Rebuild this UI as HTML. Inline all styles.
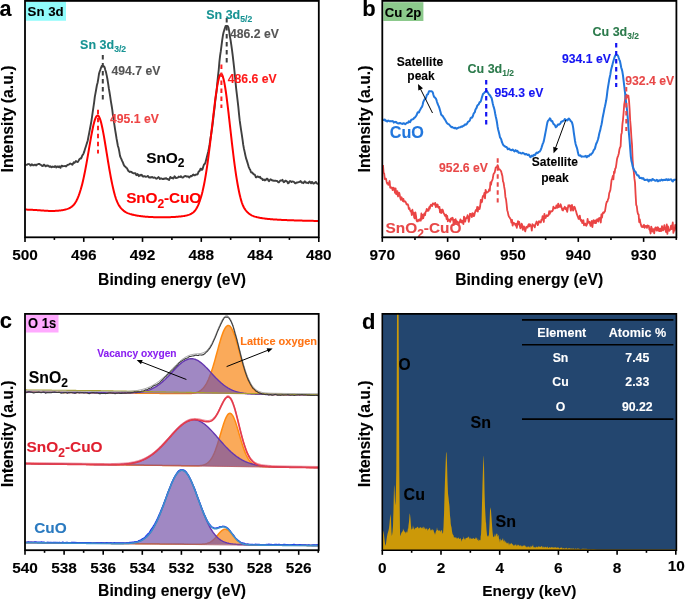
<!DOCTYPE html>
<html><head><meta charset="utf-8"><style>
html,body{margin:0;padding:0;background:#fff;overflow:hidden;}
svg{display:block;font-family:"Liberation Sans", sans-serif;will-change:transform;}
</style></head><body>
<svg width="685" height="600" viewBox="0 0 685 600">
<rect width="685" height="600" fill="#fff"/>
<text x="-0.6" y="15.9" font-size="22.8" font-weight="bold" textLength="12" lengthAdjust="spacingAndGlyphs" stroke="#000" stroke-width="0.1">a</text>
<path d="M25.5,164.71 L26.2,164.87 L26.9,164.74 L27.6,164.17 L28.3,164.09 L29,164.06 L29.7,164.34 L30.4,165.51 L31.1,165.27 L31.8,164.33 L32.5,164.84 L33.2,165.37 L33.9,165.22 L34.6,164.63 L35.3,164.61 L36,165.47 L36.7,164.88 L37.4,164.38 L38.1,164.17 L38.8,163.83 L39.5,163.94 L40.2,164.55 L40.9,164.92 L41.6,165.26 L42.3,166.05 L43,165.92 L43.7,164.69 L44.4,164.6 L45.1,165.92 L45.8,166.33 L46.5,165.68 L47.2,165.47 L47.9,165.82 L48.6,165.72 L49.3,166.8 L50,166.85 L50.7,166.36 L51.4,167.24 L52.1,166.99 L52.8,166.52 L53.5,166.87 L54.2,166.96 L54.9,166.29 L55.6,166.27 L56.3,167.52 L57,166.68 L57.7,166.38 L58.4,167.14 L59.1,166.33 L59.8,167.18 L60.5,167.78 L61.2,166.1 L61.9,165.65 L62.6,166.42 L63.3,166.17 L64,166.09 L64.7,166.02 L65.4,165.87 L66.1,166.47 L66.8,165.65 L67.5,164.88 L68.2,164.82 L68.9,164.61 L69.6,164.07 L70.3,163.54 L71,163.83 L71.7,164.35 L72.4,164.79 L73.1,163.45 L73.8,162.23 L74.5,162.91 L75.2,162 L75.9,161.09 L76.6,161.61 L77.3,161.99 L78,161.84 L78.7,160.44 L79.4,159.25 L80.1,158.56 L80.8,158.65 L81.5,157.6 L82.2,155.59 L82.9,154.71 L83.6,153.35 L84.3,151.43 L85,149.07 L85.7,146.93 L86.4,144.79 L87.1,142.66 L87.8,140.25 L88.5,136.45 L89.2,133.02 L89.9,129.19 L90.6,125.49 L91.3,121.56 L92,117.07 L92.7,112.04 L93.4,107.42 L94.1,102.67 L94.8,96.93 L95.5,93.1 L96.2,89.25 L96.9,85.24 L97.6,82.78 L98.3,78.59 L99,73.84 L99.7,71.47 L100.4,69.64 L101.1,67.52 L101.8,65.86 L102.5,65.69 L103.2,66.14 L103.9,66.11 L104.6,67.34 L105.3,69.98 L106,72.1 L106.7,75.34 L107.4,79.02 L108.1,83.35 L108.8,88.16 L109.5,92.26 L110.2,96.59 L110.9,101.33 L111.6,105.52 L112.3,109.9 L113,115.9 L113.7,120.14 L114.4,124.98 L115.1,129.59 L115.8,133.76 L116.5,138.21 L117.2,141.98 L117.9,145.97 L118.6,148.07 L119.3,151.62 L120,155.84 L120.7,157.68 L121.4,159.09 L122.1,160.91 L122.8,162.18 L123.5,164.23 L124.2,165.71 L124.9,166.24 L125.6,167.08 L126.3,167.65 L127,168.15 L127.7,169.76 L128.4,170.98 L129.1,171.42 L129.8,172.03 L130.5,171.67 L131.2,171.91 L131.9,172.36 L132.6,172.86 L133.3,173.27 L134,173.4 L134.7,173.18 L135.4,173.18 L136.1,174.92 L136.8,175.21 L137.5,174.08 L138.2,174.78 L138.9,176.19 L139.6,175.49 L140.3,174.86 L141,175.44 L141.7,174.82 L142.4,175.65 L143.1,176.65 L143.8,176.46 L144.5,176.22 L145.2,176.53 L145.9,176.74 L146.6,176.55 L147.3,176.36 L148,175.92 L148.7,177.22 L149.4,177.65 L150.1,177.21 L150.8,177.51 L151.5,177.22 L152.2,177.04 L152.9,177.64 L153.6,177.79 L154.3,177.46 L155,177.68 L155.7,178.38 L156.4,178.76 L157.1,178.41 L157.8,177.84 L158.5,177.01 L159.2,177.81 L159.9,179.01 L160.6,178.51 L161.3,178.33 L162,178.82 L162.7,179 L163.4,179.1 L164.1,178.48 L164.8,178.8 L165.5,178.43 L166.2,178.12 L166.9,178.99 L167.6,179 L168.3,179.69 L169,179.98 L169.7,178.48 L170.4,176.89 L171.1,177.85 L171.8,178.16 L172.5,177.72 L173.2,178.6 L173.9,177.75 L174.6,176.25 L175.3,177.14 L176,178.15 L176.7,177.85 L177.4,177.78 L178.1,177.41 L178.8,176.58 L179.5,176.85 L180.2,177.04 L180.9,176.24 L181.6,176.89 L182.3,177.59 L183,177.46 L183.7,176.91 L184.4,176.29 L185.1,176.2 L185.8,175.99 L186.5,176.48 L187.2,176.43 L187.9,176.41 L188.6,176.85 L189.3,177.56 L190,176.58 L190.7,175.88 L191.4,176.39 L192.1,175.78 L192.8,174.94 L193.5,174.53 L194.2,175.4 L194.9,175.35 L195.6,174.76 L196.3,174.34 L197,174.52 L197.7,174.24 L198.4,172.1 L199.1,171.21 L199.8,170.68 L200.5,168.7 L201.2,168.58 L201.9,169.9 L202.6,169.07 L203.3,166.55 L204,164.6 L204.7,164.05 L205.4,162.68 L206.1,159.89 L206.8,157.27 L207.5,154.44 L208.2,151.74 L208.9,148.54 L209.6,144.47 L210.3,139.55 L211,135.23 L211.7,130.6 L212.4,125.75 L213.1,120.01 L213.8,113.66 L214.5,108.28 L215.2,101.47 L215.9,95.92 L216.6,90.76 L217.3,83.08 L218,76.13 L218.7,70.01 L219.4,61.95 L220.1,55.72 L220.8,51.13 L221.5,45.59 L222.2,40.12 L222.9,35.54 L223.6,32.23 L224.3,29.92 L225,27.93 L225.7,25.93 L226.4,25.96 L227.1,25.98 L227.8,26.2 L228.5,27.6 L229.2,31.39 L229.9,36.33 L230.6,40.25 L231.3,44.95 L232,49.91 L232.7,55.48 L233.4,61.43 L234.1,67.61 L234.8,74.33 L235.5,81.84 L236.2,88.78 L236.9,94.64 L237.6,100.61 L238.3,106.7 L239,113.94 L239.7,120.41 L240.4,125.28 L241.1,130.18 L241.8,134.6 L242.5,139.4 L243.2,144.7 L243.9,148.51 L244.6,151.6 L245.3,154.99 L246,158.14 L246.7,160.15 L247.4,162.38 L248.1,164.82 L248.8,167.1 L249.5,168.65 L250.2,169.81 L250.9,172.09 L251.6,172.64 L252.3,172.45 L253,173.45 L253.7,174.42 L254.4,174.47 L255.1,175.25 L255.8,177.22 L256.5,177.29 L257.2,176.57 L257.9,176.51 L258.6,177.07 L259.3,177.23 L260,176.77 L260.7,178.24 L261.4,178.55 L262.1,178.64 L262.8,180.02 L263.5,179.78 L264.2,179.45 L264.9,180.44 L265.6,180.21 L266.3,179.08 L267,178.63 L267.7,179.07 L268.4,180.59 L269.1,181.15 L269.8,180.06 L270.5,179.26 L271.2,179.58 L271.9,180.24 L272.6,180.48 L273.3,180.53 L274,180.86 L274.7,180.69 L275.4,180.6 L276.1,180.92 L276.8,180.97 L277.5,181.19 L278.2,182.23 L278.9,182.34 L279.6,181.5 L280.3,180.44 L281,180.66 L281.7,180.59 L282.4,179.76 L283.1,181.2 L283.8,182.3 L284.5,181.86 L285.2,180.71 L285.9,180.65 L286.6,181.21 L287.3,181.76 L288,183.26 L288.7,183.09 L289.4,181.64 L290.1,180.99 L290.8,181.39 L291.5,181.92 L292.2,181.42 L292.9,181.6 L293.6,181.64 L294.3,182.17 L295,183.3 L295.7,183.32 L296.4,182.59 L297.1,182.34 L297.8,182.53 L298.5,182.11 L299.2,182.04 L299.9,181.61 L300.6,181.09 L301.3,182.14 L302,182.78 L302.7,182.52 L303.4,183.12 L304.1,182.17 L304.8,181.3 L305.5,182.26 L306.2,182.85 L306.9,182.58 L307.6,182.9 L308.3,183.2 L309,182.09 L309.7,181.53 L310.4,182.53 L311.1,183.23 L311.8,181.89 L312.5,182.33 L313.2,183.57 L313.9,183.56 L314.6,183.08 L315.3,182.27 L316,181.91 L316.7,183.31 L317.4,183.78 L318.1,183.32" fill="none" stroke="#3f3f3f" stroke-width="1.9" stroke-linejoin="round"/>
<path d="M25.5,209.6 L26.2,209.61 L26.9,209.62 L27.6,209.64 L28.3,209.66 L29,209.69 L29.7,209.71 L30.4,209.74 L31.1,209.78 L31.8,209.81 L32.5,209.85 L33.2,209.89 L33.9,209.93 L34.6,209.97 L35.3,210.02 L36,210.06 L36.7,210.11 L37.4,210.16 L38.1,210.21 L38.8,210.26 L39.5,210.31 L40.2,210.37 L40.9,210.42 L41.6,210.47 L42.3,210.52 L43,210.57 L43.7,210.62 L44.4,210.67 L45.1,210.71 L45.8,210.76 L46.5,210.79 L47.2,210.83 L47.9,210.86 L48.6,210.89 L49.3,210.91 L50,210.93 L50.7,210.94 L51.4,210.95 L52.1,210.95 L52.8,210.95 L53.5,210.94 L54.2,210.92 L54.9,210.9 L55.6,210.87 L56.3,210.83 L57,210.79 L57.7,210.73 L58.4,210.68 L59.1,210.61 L59.8,210.53 L60.5,210.45 L61.2,210.36 L61.9,210.25 L62.6,210.14 L63.3,210.01 L64,209.88 L64.7,209.72 L65.4,209.55 L66.1,209.37 L66.8,209.16 L67.5,208.92 L68.2,208.66 L68.9,208.36 L69.6,208.02 L70.3,207.64 L71,207.2 L71.7,206.7 L72.4,206.13 L73.1,205.49 L73.8,204.72 L74.5,203.82 L75.2,202.81 L75.9,201.68 L76.6,200.4 L77.3,198.98 L78,197.39 L78.7,195.62 L79.4,193.67 L80.1,191.56 L80.8,189.29 L81.5,186.81 L82.2,184.13 L82.9,181.23 L83.6,178.12 L84.3,174.82 L85,171.33 L85.7,167.67 L86.4,163.86 L87.1,159.92 L87.8,155.89 L88.5,151.8 L89.2,147.68 L89.9,143.6 L90.6,139.58 L91.3,135.69 L92,131.97 L92.7,128.5 L93.4,125.32 L94.1,122.5 L94.8,120.1 L95.5,118.16 L96.2,116.73 L96.9,115.81 L97.6,115.48 L98.3,115.73 L99,116.61 L99.7,118.09 L100.4,120.11 L101.1,122.56 L101.8,125.45 L102.5,128.73 L103.2,132.33 L103.9,136.19 L104.6,140.25 L105.3,144.47 L106,148.77 L106.7,153.11 L107.4,157.44 L108.1,161.73 L108.8,165.93 L109.5,170.01 L110.2,173.94 L110.9,177.71 L111.6,181.28 L112.3,184.65 L113,187.81 L113.7,190.75 L114.4,193.47 L115.1,195.97 L115.8,198.25 L116.5,200.21 L117.2,201.9 L117.9,203.39 L118.6,204.72 L119.3,205.89 L120,206.92 L120.7,207.82 L121.4,208.61 L122.1,209.31 L122.8,209.96 L123.5,210.59 L124.2,211.14 L124.9,211.63 L125.6,212.07 L126.3,212.45 L127,212.8 L127.7,213.11 L128.4,213.39 L129.1,213.64 L129.8,213.88 L130.5,214.09 L131.2,214.29 L131.9,214.48 L132.6,214.66 L133.3,214.82 L134,214.98 L134.7,215.13 L135.4,215.27 L136.1,215.4 L136.8,215.53 L137.5,215.65 L138.2,215.77 L138.9,215.88 L139.6,215.98 L140.3,216.08 L141,216.17 L141.7,216.26 L142.4,216.34 L143.1,216.42 L143.8,216.49 L144.5,216.56 L145.2,216.63 L145.9,216.69 L146.6,216.74 L147.3,216.8 L148,216.85 L148.7,216.89 L149.4,216.94 L150.1,216.98 L150.8,217.02 L151.5,217.05 L152.2,217.08 L152.9,217.11 L153.6,217.14 L154.3,217.17 L155,217.19 L155.7,217.21 L156.4,217.23 L157.1,217.25 L157.8,217.27 L158.5,217.28 L159.2,217.29 L159.9,217.3 L160.6,217.3 L161.3,217.31 L162,217.31 L162.7,217.31 L163.4,217.31 L164.1,217.3 L164.8,217.29 L165.5,217.28 L166.2,217.27 L166.9,217.26 L167.6,217.24 L168.3,217.22 L169,217.2 L169.7,217.18 L170.4,217.15 L171.1,217.12 L171.8,217.09 L172.5,217.06 L173.2,217.02 L173.9,216.98 L174.6,216.94 L175.3,216.89 L176,216.85 L176.7,216.8 L177.4,216.74 L178.1,216.68 L178.8,216.62 L179.5,216.55 L180.2,216.48 L180.9,216.41 L181.6,216.32 L182.3,216.23 L183,216.13 L183.7,216.03 L184.4,215.91 L185.1,215.78 L185.8,215.64 L186.5,215.48 L187.2,215.3 L187.9,215.1 L188.6,214.88 L189.3,214.63 L190,214.35 L190.7,214.02 L191.4,213.65 L192.1,213.23 L192.8,212.74 L193.5,212.18 L194.2,211.55 L194.9,210.76 L195.6,209.8 L196.3,208.72 L197,207.49 L197.7,206.11 L198.4,204.54 L199.1,202.78 L199.8,200.81 L200.5,198.63 L201.2,196.39 L201.9,193.9 L202.6,191.14 L203.3,188.09 L204,184.75 L204.7,181.1 L205.4,177.15 L206.1,172.9 L206.8,168.34 L207.5,163.49 L208.2,158.37 L208.9,152.99 L209.6,147.4 L210.3,141.61 L211,135.68 L211.7,129.65 L212.4,123.58 L213.1,117.53 L213.8,111.57 L214.5,105.77 L215.2,100.21 L215.9,94.97 L216.6,90.13 L217.3,85.79 L218,82.03 L218.7,78.91 L219.4,76.53 L220.1,74.97 L220.8,74.17 L221.5,74.16 L222.2,75 L222.9,76.71 L223.6,79.2 L224.3,82.41 L225,86.28 L225.7,90.73 L226.4,95.68 L227.1,101.05 L227.8,106.75 L228.5,112.7 L229.2,118.81 L229.9,125.02 L230.6,131.25 L231.3,137.44 L232,143.54 L232.7,149.49 L233.4,155.25 L234.1,160.78 L234.8,166.07 L235.5,171.07 L236.2,175.78 L236.9,180.18 L237.6,184.27 L238.3,188.05 L239,191.52 L239.7,194.69 L240.4,197.56 L241.1,200.16 L241.8,202.5 L242.5,204.44 L243.2,206.05 L243.9,207.45 L244.6,208.67 L245.3,209.74 L246,210.66 L246.7,211.46 L247.4,212.16 L248.1,212.77 L248.8,213.41 L249.5,213.97 L250.2,214.47 L250.9,214.9 L251.6,215.28 L252.3,215.62 L253,215.92 L253.7,216.19 L254.4,216.44 L255.1,216.66 L255.8,216.86 L256.5,217.05 L257.2,217.23 L257.9,217.39 L258.6,217.54 L259.3,217.68 L260,217.82 L260.7,217.94 L261.4,218.06 L262.1,218.18 L262.8,218.28 L263.5,218.38 L264.2,218.48 L264.9,218.57 L265.6,218.66 L266.3,218.74 L267,218.82 L267.7,218.89 L268.4,218.96 L269.1,219.03 L269.8,219.09 L270.5,219.16 L271.2,219.21 L271.9,219.27 L272.6,219.32 L273.3,219.38 L274,219.43 L274.7,219.47 L275.4,219.52 L276.1,219.57 L276.8,219.61 L277.5,219.65 L278.2,219.69 L278.9,219.73 L279.6,219.77 L280.3,219.81 L281,219.84 L281.7,219.88 L282.4,219.91 L283.1,219.95 L283.8,219.98 L284.5,220.01 L285.2,220.04 L285.9,220.07 L286.6,220.1 L287.3,220.13 L288,220.16 L288.7,220.19 L289.4,220.22 L290.1,220.24 L290.8,220.27 L291.5,220.29 L292.2,220.32 L292.9,220.34 L293.6,220.37 L294.3,220.39 L295,220.42 L295.7,220.44 L296.4,220.46 L297.1,220.48 L297.8,220.5 L298.5,220.53 L299.2,220.55 L299.9,220.57 L300.6,220.59 L301.3,220.61 L302,220.62 L302.7,220.64 L303.4,220.66 L304.1,220.68 L304.8,220.7 L305.5,220.71 L306.2,220.73 L306.9,220.75 L307.6,220.76 L308.3,220.78 L309,220.79 L309.7,220.81 L310.4,220.82 L311.1,220.83 L311.8,220.85 L312.5,220.86 L313.2,220.87 L313.9,220.88 L314.6,220.89 L315.3,220.9 L316,220.9 L316.7,220.91 L317.4,220.91 L318.1,220.92" fill="none" stroke="#ff0000" stroke-width="2" stroke-linejoin="round"/>
<line x1="102.8" y1="55" x2="102.8" y2="100.5" stroke="#3f3f3f" stroke-width="2" stroke-dasharray="4.5 3.5"/>
<line x1="226.7" y1="18" x2="226.7" y2="63.5" stroke="#3f3f3f" stroke-width="2" stroke-dasharray="4.5 3.5"/>
<line x1="98" y1="109.7" x2="98" y2="153.5" stroke="#ff2020" stroke-width="2" stroke-dasharray="4.5 3.5"/>
<line x1="221.4" y1="64.5" x2="221.4" y2="108" stroke="#ff2020" stroke-width="2" stroke-dasharray="4.5 3.5"/>
<text x="80.1" y="48.6" font-size="12.5" font-weight="bold" fill="#179393" stroke="#179393" stroke-width="0.1">Sn 3d<tspan font-size="8.6" dy="3.2">3/2</tspan></text>
<text x="206.2" y="18.5" font-size="12.5" font-weight="bold" fill="#179393" stroke="#179393" stroke-width="0.1">Sn 3d<tspan font-size="8.6" dy="3.2">5/2</tspan></text>
<text x="111.5" y="75.2" font-size="12.2" fill="#555555" text-anchor="start" font-weight="bold"  stroke="#555555" stroke-width="0.1">494.7 eV</text>
<text x="230" y="37.5" font-size="12.2" fill="#555555" text-anchor="start" font-weight="bold"  stroke="#555555" stroke-width="0.1">486.2 eV</text>
<text x="110" y="123.3" font-size="12.2" fill="#ee4444" text-anchor="start" font-weight="bold"  stroke="#ee4444" stroke-width="0.1">495.1 eV</text>
<text x="227.8" y="83.2" font-size="12.2" fill="#ff1a1a" text-anchor="start" font-weight="bold"  stroke="#ff1a1a" stroke-width="0.1">486.6 eV</text>
<text x="146.2" y="163.4" font-size="15.4" font-weight="bold" fill="#000" stroke="#000" stroke-width="0.1">SnO<tspan font-size="12" dy="4">2</tspan></text>
<text x="126.2" y="203.2" font-size="15.4" font-weight="bold" fill="#ff0000" textLength="75" stroke="#ff0000" stroke-width="0.1">SnO<tspan font-size="12" dy="4.5">2</tspan><tspan dy="-4.5">-CuO</tspan></text>
<rect x="25.7" y="1.75" width="40.3" height="19" fill="#90fbfb"/>
<text x="27.6" y="16.3" font-size="13.4" font-weight="bold" textLength="36" lengthAdjust="spacingAndGlyphs" stroke="#000" stroke-width="0.1">Sn 3d</text>
<rect x="25" y="0.9" width="293.8" height="236.4" fill="none" stroke="#000" stroke-width="1.8"/>
<line x1="25" y1="237.3" x2="25" y2="241.9" stroke="#000" stroke-width="1.6" />
<line x1="83.76" y1="237.3" x2="83.76" y2="241.9" stroke="#000" stroke-width="1.6" />
<line x1="142.52" y1="237.3" x2="142.52" y2="241.9" stroke="#000" stroke-width="1.6" />
<line x1="201.28" y1="237.3" x2="201.28" y2="241.9" stroke="#000" stroke-width="1.6" />
<line x1="260.04" y1="237.3" x2="260.04" y2="241.9" stroke="#000" stroke-width="1.6" />
<line x1="318.8" y1="237.3" x2="318.8" y2="241.9" stroke="#000" stroke-width="1.6" />
<line x1="54.38" y1="237.3" x2="54.38" y2="239.9" stroke="#000" stroke-width="1.6" />
<line x1="113.14" y1="237.3" x2="113.14" y2="239.9" stroke="#000" stroke-width="1.6" />
<line x1="171.9" y1="237.3" x2="171.9" y2="239.9" stroke="#000" stroke-width="1.6" />
<line x1="230.66" y1="237.3" x2="230.66" y2="239.9" stroke="#000" stroke-width="1.6" />
<line x1="289.42" y1="237.3" x2="289.42" y2="239.9" stroke="#000" stroke-width="1.6" />
<text x="25" y="259.5" font-size="15.4" fill="#000" text-anchor="middle" font-weight="bold"  stroke="#000" stroke-width="0.1">500</text>
<text x="83.76" y="259.5" font-size="15.4" fill="#000" text-anchor="middle" font-weight="bold"  stroke="#000" stroke-width="0.1">496</text>
<text x="142.52" y="259.5" font-size="15.4" fill="#000" text-anchor="middle" font-weight="bold"  stroke="#000" stroke-width="0.1">492</text>
<text x="201.28" y="259.5" font-size="15.4" fill="#000" text-anchor="middle" font-weight="bold"  stroke="#000" stroke-width="0.1">488</text>
<text x="260.04" y="259.5" font-size="15.4" fill="#000" text-anchor="middle" font-weight="bold"  stroke="#000" stroke-width="0.1">484</text>
<text x="318.8" y="259.5" font-size="15.4" fill="#000" text-anchor="middle" font-weight="bold"  stroke="#000" stroke-width="0.1">480</text>
<text x="172.1" y="284.6" font-size="15.7" font-weight="bold" text-anchor="middle" textLength="148" lengthAdjust="spacingAndGlyphs" stroke="#000" stroke-width="0.1">Binding energy (eV)</text>
<text transform="translate(13,119) rotate(-90)" font-size="15.75" font-weight="bold" text-anchor="middle" fill="#000" stroke="#000" stroke-width="0.1">Intensity (a.u.)</text>
<text x="362.2" y="16.3" font-size="22" font-weight="bold" stroke="#000" stroke-width="0.1">b</text>
<path d="M383,164.97 L383.6,172.82 L384.2,173.55 L384.8,179.09 L385.4,178.82 L386,178.65 L386.6,181.69 L387.2,183.62 L387.8,183.13 L388.4,184.85 L389,183.57 L389.6,181.01 L390.2,187.7 L390.8,187.87 L391.4,187.32 L392,187.69 L392.6,190.16 L393.2,187.73 L393.8,187.8 L394.4,189.45 L395,192.88 L395.6,188.42 L396.2,194.28 L396.8,191.31 L397.4,191.07 L398,196.48 L398.6,194.46 L399.2,192.74 L399.8,195.32 L400.4,198.59 L401,199.81 L401.6,197.27 L402.2,199.65 L402.8,200.98 L403.4,198.98 L404,201.71 L404.6,201.66 L405.2,201.38 L405.8,202.18 L406.4,204.01 L407,204.65 L407.6,204.17 L408.2,205.17 L408.8,208.98 L409.4,207.92 L410,210.01 L410.6,211.41 L411.2,210.96 L411.8,215.13 L412.4,209.76 L413,213.87 L413.6,212.49 L414.2,217.75 L414.8,218.43 L415.4,212.47 L416,215.9 L416.6,220.44 L417.2,221.47 L417.8,221.46 L418.4,219.73 L419,220.57 L419.6,220.66 L420.2,218.82 L420.8,220.58 L421.4,213.5 L422,218.74 L422.6,214.83 L423.2,218.22 L423.8,215.23 L424.4,213.31 L425,215.25 L425.6,212 L426.2,211.14 L426.8,208.84 L427.4,210.84 L428,210.76 L428.6,210.67 L429.2,207.24 L429.8,208.6 L430.4,205.64 L431,204.67 L431.6,205.47 L432.2,206.15 L432.8,203.33 L433.4,203.59 L434,203.89 L434.6,204.57 L435.2,202.85 L435.8,207.01 L436.4,204.51 L437,206.64 L437.6,204.51 L438.2,207.36 L438.8,207.94 L439.4,206.87 L440,212.34 L440.6,209.64 L441.2,213.08 L441.8,212.09 L442.4,209.51 L443,210.74 L443.6,213.29 L444.2,213.83 L444.8,215.33 L445.4,216.23 L446,214.66 L446.6,219.05 L447.2,215.87 L447.8,221.36 L448.4,219.38 L449,219.6 L449.6,220.77 L450.2,221.92 L450.8,218.66 L451.4,218.15 L452,219.62 L452.6,217.76 L453.2,219.98 L453.8,225.14 L454.4,219.88 L455,223.3 L455.6,219.25 L456.2,222.56 L456.8,221.29 L457.4,221.75 L458,222.94 L458.6,225.23 L459.2,222.01 L459.8,221.76 L460.4,219.45 L461,222.44 L461.6,220.64 L462.2,222.65 L462.8,220.74 L463.4,224.15 L464,216.53 L464.6,219.67 L465.2,221.69 L465.8,218.8 L466.4,217.43 L467,217.95 L467.6,215.18 L468.2,217.63 L468.8,221.76 L469.4,218.69 L470,213.78 L470.6,213.92 L471.2,214.57 L471.8,217.14 L472.4,213.25 L473,213.28 L473.6,216.19 L474.2,215.87 L474.8,213.08 L475.4,211.21 L476,209.9 L476.6,210.92 L477.2,206.84 L477.8,211.52 L478.4,207.28 L479,207.9 L479.6,209.02 L480.2,205.99 L480.8,199.78 L481.4,202.42 L482,201.82 L482.6,197.02 L483.2,195.73 L483.8,196.62 L484.4,192.89 L485,198.33 L485.6,189.89 L486.2,191.79 L486.8,192.74 L487.4,192.04 L488,191.97 L488.6,191.22 L489.2,189.17 L489.8,190.58 L490.4,182.51 L491,184.75 L491.6,181.27 L492.2,180.58 L492.8,178.45 L493.4,174.59 L494,173.18 L494.6,172.83 L495.2,170.08 L495.8,167.3 L496.4,167.38 L497,166.85 L497.6,165.1 L498.2,166.64 L498.8,169.39 L499.4,169.14 L500,169.78 L500.6,170.47 L501.2,171.45 L501.8,174.12 L502.4,176.08 L503,181.43 L503.6,182.75 L504.2,186.98 L504.8,190.12 L505.4,196.95 L506,199.21 L506.6,204.2 L507.2,210.18 L507.8,212.07 L508.4,215.07 L509,216.71 L509.6,217.55 L510.2,218.51 L510.8,219.39 L511.4,222.64 L512,219.96 L512.6,225.68 L513.2,223.8 L513.8,222.82 L514.4,223.77 L515,223.65 L515.6,225.48 L516.2,223.88 L516.8,227.75 L517.4,224.04 L518,221.18 L518.6,224.38 L519.2,221.94 L519.8,225.97 L520.4,228.26 L521,227.52 L521.6,223.61 L522.2,224.82 L522.8,229.96 L523.4,227.08 L524,226.48 L524.6,228.6 L525.2,231.4 L525.8,229.09 L526.4,226.77 L527,227.17 L527.6,227.66 L528.2,225.16 L528.8,224.21 L529.4,226.37 L530,224.29 L530.6,225.98 L531.2,226.2 L531.8,230.59 L532.4,224.1 L533,225.44 L533.6,225.23 L534.2,226.3 L534.8,227.39 L535.4,224.17 L536,223.36 L536.6,221.52 L537.2,222.65 L537.8,225.19 L538.4,223.77 L539,221.14 L539.6,221.88 L540.2,222.12 L540.8,222.48 L541.4,219.7 L542,219.8 L542.6,216.12 L543.2,216.94 L543.8,222.01 L544.4,213.96 L545,217.25 L545.6,217.96 L546.2,216.37 L546.8,215.1 L547.4,216.16 L548,215.82 L548.6,215.17 L549.2,211.04 L549.8,213.87 L550.4,211.59 L551,211.15 L551.6,211.53 L552.2,211.14 L552.8,210.45 L553.4,206.57 L554,208.47 L554.6,208.28 L555.2,207.82 L555.8,208.29 L556.4,205.33 L557,205.46 L557.6,207.72 L558.2,203.65 L558.8,207.15 L559.4,206.03 L560,206.71 L560.6,204.29 L561.2,206.28 L561.8,208.25 L562.4,210.22 L563,210.48 L563.6,208.34 L564.2,208.1 L564.8,206.8 L565.4,209.24 L566,207.91 L566.6,209.59 L567.2,211.84 L567.8,208.23 L568.4,205.26 L569,206.49 L569.6,205.26 L570.2,205.74 L570.8,210.71 L571.4,208.52 L572,205 L572.6,209.33 L573.2,210.53 L573.8,207.28 L574.4,206.75 L575,207.91 L575.6,209.98 L576.2,211.79 L576.8,214.17 L577.4,215.65 L578,217.07 L578.6,218.87 L579.2,218.83 L579.8,215.64 L580.4,219.39 L581,220.93 L581.6,220 L582.2,223.04 L582.8,220.93 L583.4,220.21 L584,225.33 L584.6,224.12 L585.2,223.53 L585.8,225.2 L586.4,225.68 L587,224.38 L587.6,218.87 L588.2,222.45 L588.8,222.86 L589.4,221.75 L590,224.03 L590.6,225.91 L591.2,222.42 L591.8,220.96 L592.4,227.11 L593,221.95 L593.6,220.16 L594.2,222.87 L594.8,222.99 L595.4,220.46 L596,223.17 L596.6,220.32 L597.2,219.13 L597.8,220.9 L598.4,221.54 L599,218.08 L599.6,219.27 L600.2,217.6 L600.8,222.54 L601.4,214.5 L602,217.65 L602.6,213.7 L603.2,212.42 L603.8,212.94 L604.4,211.96 L605,211.13 L605.6,207.46 L606.2,203.65 L606.8,201.71 L607.4,201.65 L608,199.32 L608.6,198.15 L609.2,193.25 L609.8,191.64 L610.4,189.89 L611,184.94 L611.6,179.83 L612.2,178.66 L612.8,175.98 L613.4,179.45 L614,171.73 L614.6,172.89 L615.2,168.59 L615.8,167.95 L616.4,163.87 L617,159.35 L617.6,157.05 L618.2,155.55 L618.8,153.5 L619.4,149.53 L620,147.44 L620.6,146.54 L621.2,134.77 L621.8,132.64 L622.4,124.36 L623,119.55 L623.6,112.79 L624.2,104.74 L624.8,101.52 L625.4,95.77 L626,96.15 L626.6,94.63 L627.2,96.35 L627.8,97.25 L628.4,95.7 L629,100.41 L629.6,108.89 L630.2,120.65 L630.8,127.57 L631.4,137.57 L632,144.52 L632.6,159.24 L633.2,168 L633.8,171.87 L634.4,178.41 L635,182.62 L635.6,194.67 L636.2,204.83 L636.8,206.27 L637.4,211.52 L638,213.95 L638.6,214.43 L639.2,222.12 L639.8,219.39 L640.4,223.04 L641,224.9 L641.6,226.86 L642.2,226.6 L642.8,227.15 L643.4,225.4 L644,224.82 L644.6,227.93 L645.2,226.74 L645.8,225.83 L646.4,226.15 L647,227.89 L647.6,225.29 L648.2,226.41 L648.8,225.93 L649.4,229.66 L650,230.2 L650.6,233.48 L651.2,226.55 L651.8,228.26 L652.4,231.51 L653,229.31 L653.6,229.15 L654.2,233.27 L654.8,229.22 L655.4,227.62 L656,227.32 L656.6,230.65 L657.2,230.6 L657.8,227.26 L658.4,228.03 L659,231.05 L659.6,231.11 L660.2,228.62 L660.8,231.1 L661.4,230.93 L662,226.14 L662.6,229 L663.2,230.35 L663.8,228.28 L664.4,225.04 L665,228.64 L665.6,230.59 L666.2,232.13 L666.8,224.47 L667.4,233.96 L668,226.36 L668.6,230.41 L669.2,230.85 L669.8,230.22 L670.4,228.41 L671,225.64 L671.6,229.07 L672.2,226.22 L672.8,222.44 L673.4,232.97 L674,228.54 L674.6,230.58 L675.2,224.93 L675.8,229.5" fill="none" stroke="#ea4444" stroke-width="1.8" stroke-linejoin="round"/>
<path d="M383,119.73 L383.6,119.94 L384.2,119.65 L384.8,119.55 L385.4,120.82 L386,120.59 L386.6,120.76 L387.2,121.56 L387.8,120.8 L388.4,120.57 L389,120.94 L389.6,121.25 L390.2,121.33 L390.8,121.12 L391.4,121.33 L392,121.35 L392.6,121.03 L393.2,121.55 L393.8,122.58 L394.4,122.07 L395,121.81 L395.6,122.29 L396.2,121.99 L396.8,122.74 L397.4,123.05 L398,123.43 L398.6,123.42 L399.2,123.05 L399.8,123.38 L400.4,122.98 L401,123.4 L401.6,123.73 L402.2,123.8 L402.8,123.9 L403.4,123.22 L404,123.23 L404.6,123.73 L405.2,124.17 L405.8,123.71 L406.4,123.16 L407,122.63 L407.6,122.68 L408.2,122.67 L408.8,121.3 L409.4,121.38 L410,122.22 L410.6,121.19 L411.2,119.84 L411.8,119.73 L412.4,119.28 L413,119.29 L413.6,118.88 L414.2,117.79 L414.8,117.69 L415.4,116.93 L416,116.07 L416.6,115.13 L417.2,113.54 L417.8,112.25 L418.4,112.61 L419,112.29 L419.6,110.62 L420.2,109.75 L420.8,108.61 L421.4,107.43 L422,106.87 L422.6,105.05 L423.2,102.2 L423.8,100.84 L424.4,99.6 L425,99.1 L425.6,98.86 L426.2,97.1 L426.8,95.09 L427.4,94.22 L428,94.31 L428.6,92.28 L429.2,91.1 L429.8,91.27 L430.4,91.24 L431,91.36 L431.6,91.24 L432.2,91.78 L432.8,92.43 L433.4,94.77 L434,96.75 L434.6,97.27 L435.2,97.84 L435.8,98.44 L436.4,99.84 L437,101.99 L437.6,103.61 L438.2,105.17 L438.8,106.38 L439.4,108.06 L440,110.16 L440.6,112.33 L441.2,114.63 L441.8,115.38 L442.4,115.44 L443,116.51 L443.6,117.59 L444.2,118.28 L444.8,119.46 L445.4,120.24 L446,121.39 L446.6,122.61 L447.2,123.23 L447.8,123.91 L448.4,124.16 L449,124.44 L449.6,125.18 L450.2,125.82 L450.8,126.48 L451.4,127.17 L452,126.93 L452.6,127.36 L453.2,127.71 L453.8,127.69 L454.4,128.3 L455,127.74 L455.6,127.89 L456.2,128.78 L456.8,128.58 L457.4,128.22 L458,127.97 L458.6,127.56 L459.2,127.39 L459.8,127.34 L460.4,127.24 L461,126.69 L461.6,126.46 L462.2,126.73 L462.8,126.25 L463.4,125.67 L464,125.63 L464.6,124.76 L465.2,124.37 L465.8,124.75 L466.4,124.17 L467,123.65 L467.6,122.61 L468.2,121.64 L468.8,121.43 L469.4,120.93 L470,119.92 L470.6,118.24 L471.2,117.51 L471.8,117.76 L472.4,117.07 L473,115.75 L473.6,113.66 L474.2,112.88 L474.8,112.33 L475.4,109.67 L476,108.67 L476.6,107.86 L477.2,105.9 L477.8,105.01 L478.4,104.87 L479,103.78 L479.6,102.2 L480.2,101.98 L480.8,101.33 L481.4,99.22 L482,97.07 L482.6,95.21 L483.2,93.72 L483.8,93.26 L484.4,92.72 L485,91.82 L485.6,91.6 L486.2,91.1 L486.8,90.84 L487.4,91.91 L488,92.82 L488.6,93.77 L489.2,94.63 L489.8,95.07 L490.4,96.14 L491,97.12 L491.6,98.01 L492.2,100.77 L492.8,103.77 L493.4,106.12 L494,107.91 L494.6,110.3 L495.2,113.78 L495.8,116.75 L496.4,119.25 L497,122.55 L497.6,126.69 L498.2,129.76 L498.8,131.92 L499.4,134.42 L500,137.39 L500.6,138.17 L501.2,139.19 L501.8,141.74 L502.4,143.13 L503,144.57 L503.6,145.61 L504.2,145.77 L504.8,146.08 L505.4,146.85 L506,146.99 L506.6,147.06 L507.2,148.05 L507.8,149.24 L508.4,149.11 L509,148.55 L509.6,148.98 L510.2,149.82 L510.8,149.96 L511.4,150.24 L512,150.06 L512.6,149.57 L513.2,150.1 L513.8,150.72 L514.4,151.46 L515,150.7 L515.6,150.09 L516.2,151.09 L516.8,151.41 L517.4,150.83 L518,151.76 L518.6,152.82 L519.2,152.79 L519.8,152.57 L520.4,152.98 L521,153.26 L521.6,153.47 L522.2,153.36 L522.8,152.69 L523.4,153.32 L524,153.54 L524.6,153.9 L525.2,154.47 L525.8,153.95 L526.4,154.04 L527,154.45 L527.6,154.96 L528.2,154.99 L528.8,154.56 L529.4,155.47 L530,156.72 L530.6,157.15 L531.2,156.3 L531.8,155.59 L532.4,156.24 L533,156.08 L533.6,154.93 L534.2,154.87 L534.8,155.25 L535.4,154.55 L536,153.31 L536.6,152.65 L537.2,153.17 L537.8,152.95 L538.4,152.06 L539,151.88 L539.6,151.58 L540.2,150.68 L540.8,149.64 L541.4,148.08 L542,146.1 L542.6,144.2 L543.2,142.82 L543.8,141.12 L544.4,138.09 L545,135.01 L545.6,131.82 L546.2,128.87 L546.8,125.39 L547.4,122.42 L548,120.72 L548.6,120.32 L549.2,119.65 L549.8,118.3 L550.4,118.74 L551,120.6 L551.6,121.21 L552.2,121 L552.8,122.44 L553.4,123.71 L554,124.36 L554.6,124.74 L555.2,125.9 L555.8,127.24 L556.4,126.76 L557,126.2 L557.6,124.84 L558.2,124.45 L558.8,124.77 L559.4,124.18 L560,124.02 L560.6,123.17 L561.2,121.68 L561.8,121.56 L562.4,121.6 L563,120.92 L563.6,120.57 L564.2,120.16 L564.8,119.05 L565.4,119.36 L566,120.16 L566.6,119.91 L567.2,120.53 L567.8,120.07 L568.4,118.64 L569,118.58 L569.6,119.32 L570.2,120.09 L570.8,121.37 L571.4,121.56 L572,122.6 L572.6,124.65 L573.2,127.87 L573.8,132.54 L574.4,136.64 L575,140.75 L575.6,143.93 L576.2,145.96 L576.8,147.56 L577.4,149.71 L578,152.84 L578.6,154.98 L579.2,155.6 L579.8,155.64 L580.4,155.32 L581,156.1 L581.6,156.74 L582.2,156.4 L582.8,156.48 L583.4,156.62 L584,156.54 L584.6,156.42 L585.2,156.08 L585.8,155.86 L586.4,157.17 L587,157.17 L587.6,155.95 L588.2,156.04 L588.8,156.26 L589.4,155.27 L590,154.47 L590.6,154.81 L591.2,154.39 L591.8,153.34 L592.4,153.1 L593,151.91 L593.6,150.38 L594.2,149.48 L594.8,148.9 L595.4,146.86 L596,144.3 L596.6,143.06 L597.2,141.63 L597.8,139.98 L598.4,138.06 L599,134.83 L599.6,132.21 L600.2,130.39 L600.8,127.33 L601.4,125.02 L602,122.06 L602.6,117.95 L603.2,115.06 L603.8,112.11 L604.4,108.73 L605,106.25 L605.6,103.33 L606.2,100.3 L606.8,96.36 L607.4,91.22 L608,87.15 L608.6,83.64 L609.2,79.83 L609.8,77.01 L610.4,74.16 L611,70.16 L611.6,67.83 L612.2,65.86 L612.8,63.15 L613.4,60.94 L614,59.06 L614.6,57.1 L615.2,55.57 L615.8,54.69 L616.4,54.38 L617,54.98 L617.6,55.2 L618.2,56.22 L618.8,58.1 L619.4,59.76 L620,61.24 L620.6,64.19 L621.2,67.51 L621.8,69.31 L622.4,71.78 L623,75.69 L623.6,80.71 L624.2,85.51 L624.8,90.84 L625.4,96.03 L626,101.25 L626.6,106.36 L627.2,111.61 L627.8,118.44 L628.4,126.92 L629,134.21 L629.6,140.61 L630.2,148.61 L630.8,156.36 L631.4,160.66 L632,163.09 L632.6,166.09 L633.2,167.99 L633.8,169.31 L634.4,170.88 L635,171.41 L635.6,171.82 L636.2,173.31 L636.8,174.69 L637.4,175.43 L638,175.21 L638.6,175.63 L639.2,177.2 L639.8,178.06 L640.4,178.06 L641,177.77 L641.6,178.34 L642.2,178.68 L642.8,178.09 L643.4,178.16 L644,179.42 L644.6,180 L645.2,180.01 L645.8,179.84 L646.4,179.86 L647,179.9 L647.6,179.52 L648.2,180.9 L648.8,181.34 L649.4,180.1 L650,179.75 L650.6,180.1 L651.2,180.65 L651.8,180.31 L652.4,179.05 L653,179.14 L653.6,179.89 L654.2,180.05 L654.8,180.6 L655.4,180.69 L656,180.47 L656.6,179.87 L657.2,179.89 L657.8,181.24 L658.4,181.2 L659,180.41 L659.6,180.15 L660.2,180.79 L660.8,180.33 L661.4,179.52 L662,180.1 L662.6,180.45 L663.2,180.06 L663.8,179.87 L664.4,179.93 L665,179.84 L665.6,179.89 L666.2,179.34 L666.8,179.37 L667.4,180.21 L668,179.8 L668.6,179.3 L669.2,179.98 L669.8,179.61 L670.4,179.38 L671,179.36 L671.6,179.74 L672.2,181.15 L672.8,181.5 L673.4,180.4 L674,179.83 L674.6,179.94 L675.2,179.64 L675.8,180.21" fill="none" stroke="#2277dd" stroke-width="2" stroke-linejoin="round"/>
<line x1="486.2" y1="80" x2="486.2" y2="125" stroke="#1414f2" stroke-width="2.2" stroke-dasharray="4.5 3.5"/>
<line x1="616.2" y1="43" x2="616.2" y2="87" stroke="#1414f2" stroke-width="2.2" stroke-dasharray="4.5 3.5"/>
<line x1="497.7" y1="158.2" x2="497.7" y2="202.5" stroke="#e84848" stroke-width="2" stroke-dasharray="4.5 3.5"/>
<line x1="626.3" y1="87" x2="626.3" y2="131" stroke="#e84848" stroke-width="2" stroke-dasharray="4.5 3.5"/>
<text x="420" y="65.5" font-size="12.1" fill="#000" text-anchor="middle" font-weight="bold"  stroke="#000" stroke-width="0.1">Satellite</text>
<text x="421" y="80" font-size="12" fill="#000" text-anchor="middle" font-weight="bold"  stroke="#000" stroke-width="0.1">peak</text>
<line x1="432.5" y1="113" x2="420.24" y2="88.47" stroke="#000" stroke-width="1.0" />
<path d="M418,84 L423.01,88.2 L418.36,90.53 Z" fill="#000"/>
<text x="554.8" y="165.7" font-size="12" fill="#000" text-anchor="middle" font-weight="bold"  stroke="#000" stroke-width="0.1">Satellite</text>
<text x="555" y="181.5" font-size="12.1" fill="#000" text-anchor="middle" font-weight="bold"  stroke="#000" stroke-width="0.1">peak</text>
<line x1="565.8" y1="120" x2="555.32" y2="148.51" stroke="#000" stroke-width="1.0" />
<path d="M553.6,153.2 L553.23,146.67 L558.11,148.46 Z" fill="#000"/>
<text x="467.5" y="72.5" font-size="12.5" font-weight="bold" fill="#2b7a4b" stroke="#2b7a4b" stroke-width="0.1">Cu 3d<tspan font-size="8.4" dy="3.2">1/2</tspan></text>
<text x="592.5" y="36" font-size="12.5" font-weight="bold" fill="#2b7a4b" stroke="#2b7a4b" stroke-width="0.1">Cu 3d<tspan font-size="8.4" dy="3.2">3/2</tspan></text>
<text x="494.5" y="97" font-size="12.2" fill="#1414f2" text-anchor="start" font-weight="bold"  stroke="#1414f2" stroke-width="0.1">954.3 eV</text>
<text x="562" y="63.2" font-size="12.2" fill="#1414f2" text-anchor="start" font-weight="bold"  stroke="#1414f2" stroke-width="0.1">934.1 eV</text>
<text x="625.3" y="84.5" font-size="12.2" fill="#e84848" text-anchor="start" font-weight="bold"  stroke="#e84848" stroke-width="0.1">932.4 eV</text>
<text x="439.1" y="172.3" font-size="12.2" fill="#e84848" text-anchor="start" font-weight="bold"  stroke="#e84848" stroke-width="0.1">952.6 eV</text>
<text x="389.8" y="137.6" font-size="16.2" fill="#2277dd" text-anchor="start" font-weight="bold"  stroke="#2277dd" stroke-width="0.1">CuO</text>
<text x="385.5" y="233.4" font-size="15.4" font-weight="bold" fill="#e84848" stroke="#e84848" stroke-width="0.1">SnO<tspan font-size="12" dy="4.5">2</tspan><tspan dy="-4.5">-CuO</tspan></text>
<rect x="383.3" y="2.2" width="40.1" height="18.8" fill="#8cc98c"/>
<text x="384.8" y="16.7" font-size="13.4" font-weight="bold" textLength="36.6" lengthAdjust="spacingAndGlyphs" stroke="#000" stroke-width="0.1">Cu 2p</text>
<rect x="382.3" y="0.9" width="294.1" height="236.4" fill="none" stroke="#000" stroke-width="1.8"/>
<line x1="382.3" y1="237.3" x2="382.3" y2="241.9" stroke="#000" stroke-width="1.6" />
<line x1="447.63" y1="237.3" x2="447.63" y2="241.9" stroke="#000" stroke-width="1.6" />
<line x1="512.96" y1="237.3" x2="512.96" y2="241.9" stroke="#000" stroke-width="1.6" />
<line x1="578.29" y1="237.3" x2="578.29" y2="241.9" stroke="#000" stroke-width="1.6" />
<line x1="643.62" y1="237.3" x2="643.62" y2="241.9" stroke="#000" stroke-width="1.6" />
<line x1="414.97" y1="237.3" x2="414.97" y2="239.9" stroke="#000" stroke-width="1.6" />
<line x1="480.3" y1="237.3" x2="480.3" y2="239.9" stroke="#000" stroke-width="1.6" />
<line x1="545.62" y1="237.3" x2="545.62" y2="239.9" stroke="#000" stroke-width="1.6" />
<line x1="610.96" y1="237.3" x2="610.96" y2="239.9" stroke="#000" stroke-width="1.6" />
<line x1="676.29" y1="237.3" x2="676.29" y2="239.9" stroke="#000" stroke-width="1.6" />
<text x="382.3" y="259.5" font-size="15.4" fill="#000" text-anchor="middle" font-weight="bold"  stroke="#000" stroke-width="0.1">970</text>
<text x="447.63" y="259.5" font-size="15.4" fill="#000" text-anchor="middle" font-weight="bold"  stroke="#000" stroke-width="0.1">960</text>
<text x="512.96" y="259.5" font-size="15.4" fill="#000" text-anchor="middle" font-weight="bold"  stroke="#000" stroke-width="0.1">950</text>
<text x="578.29" y="259.5" font-size="15.4" fill="#000" text-anchor="middle" font-weight="bold"  stroke="#000" stroke-width="0.1">940</text>
<text x="643.62" y="259.5" font-size="15.4" fill="#000" text-anchor="middle" font-weight="bold"  stroke="#000" stroke-width="0.1">930</text>
<text x="529.2" y="284.6" font-size="15.7" font-weight="bold" text-anchor="middle" textLength="148" lengthAdjust="spacingAndGlyphs" stroke="#000" stroke-width="0.1">Binding energy (eV)</text>
<text transform="translate(369.9,119) rotate(-90)" font-size="15.75" font-weight="bold" text-anchor="middle" fill="#000" stroke="#000" stroke-width="0.1">Intensity (a.u.)</text>
<text x="-0.2" y="328.1" font-size="22" font-weight="bold" stroke="#000" stroke-width="0.1">c</text>
<path d="M25.5,392.01 L26.2,392.01 L26.9,392.02 L27.6,392.03 L28.3,392.03 L29,392.04 L29.7,392.05 L30.4,392.06 L31.1,392.06 L31.8,392.07 L32.5,392.08 L33.2,392.08 L33.9,392.09 L34.6,392.1 L35.3,392.11 L36,392.11 L36.7,392.12 L37.4,392.13 L38.1,392.13 L38.8,392.14 L39.5,392.15 L40.2,392.16 L40.9,392.16 L41.6,392.17 L42.3,392.18 L43,392.18 L43.7,392.19 L44.4,392.2 L45.1,392.21 L45.8,392.21 L46.5,392.22 L47.2,392.23 L47.9,392.23 L48.6,392.24 L49.3,392.25 L50,392.26 L50.7,392.26 L51.4,392.27 L52.1,392.28 L52.8,392.28 L53.5,392.29 L54.2,392.3 L54.9,392.31 L55.6,392.31 L56.3,392.32 L57,392.33 L57.7,392.33 L58.4,392.34 L59.1,392.35 L59.8,392.36 L60.5,392.36 L61.2,392.37 L61.9,392.38 L62.6,392.38 L63.3,392.39 L64,392.4 L64.7,392.41 L65.4,392.41 L66.1,392.42 L66.8,392.43 L67.5,392.43 L68.2,392.44 L68.9,392.45 L69.6,392.46 L70.3,392.46 L71,392.47 L71.7,392.48 L72.4,392.48 L73.1,392.49 L73.8,392.5 L74.5,392.51 L75.2,392.51 L75.9,392.52 L76.6,392.53 L77.3,392.53 L78,392.54 L78.7,392.55 L79.4,392.56 L80.1,392.56 L80.8,392.57 L81.5,392.58 L82.2,392.58 L82.9,392.59 L83.6,392.6 L84.3,392.61 L85,392.61 L85.7,392.62 L86.4,392.63 L87.1,392.63 L87.8,392.64 L88.5,392.65 L89.2,392.66 L89.9,392.66 L90.6,392.67 L91.3,392.68 L92,392.68 L92.7,392.69 L93.4,392.7 L94.1,392.71 L94.8,392.71 L95.5,392.72 L96.2,392.73 L96.9,392.73 L97.6,392.74 L98.3,392.75 L99,392.76 L99.7,392.76 L100.4,392.77 L101.1,392.78 L101.8,392.78 L102.5,392.79 L103.2,392.8 L103.9,392.81 L104.6,392.81 L105.3,392.82 L106,392.83 L106.7,392.83 L107.4,392.84 L108.1,392.85 L108.8,392.86 L109.5,392.86 L110.2,392.87 L110.9,392.88 L111.6,392.88 L112.3,392.89 L113,392.9 L113.7,392.91 L114.4,392.91 L115.1,392.92 L115.8,392.93 L116.5,392.93 L117.2,392.94 L117.9,392.95 L118.6,392.96 L119.3,392.96 L120,392.97 L120.7,392.98 L121.4,392.98 L122.1,392.99 L122.8,393 L123.5,393.01 L124.2,393.01 L124.9,393.02 L125.6,393.03 L126.3,393.03 L127,393.04 L127.7,393.05 L128.4,393.06 L129.1,393.06 L129.8,393.07 L130.5,393.08 L131.2,393.08 L131.9,393.09 L132.6,393.1 L133.3,393.11 L134,393.11 L134.7,393.12 L135.4,393.13 L136.1,393.13 L136.8,393.14 L137.5,393.15 L138.2,393.16 L138.9,393.16 L139.6,393.17 L140.3,393.18 L141,393.18 L141.7,393.19 L142.4,393.2 L143.1,393.21 L143.8,393.21 L144.5,393.22 L145.2,393.23 L145.9,393.23 L146.6,393.24 L147.3,393.25 L148,393.26 L148.7,393.26 L149.4,393.27 L150.1,393.28 L150.8,393.28 L151.5,393.29 L152.2,393.3 L152.9,393.31 L153.6,393.31 L154.3,393.32 L155,393.33 L155.7,393.34 L156.4,393.34 L157.1,393.35 L157.8,393.36 L158.5,393.36 L159.2,393.37 L159.9,393.38 L160.6,393.39 L161.3,393.39 L162,393.4 L162.7,393.41 L163.4,393.41 L164.1,393.42 L164.8,393.43 L165.5,393.44 L166.2,393.44 L166.9,393.45 L167.6,393.46 L168.3,393.46 L169,393.47 L169.7,393.48 L170.4,393.49 L171.1,393.49 L171.8,393.5 L172.5,393.51 L173.2,393.51 L173.9,393.52 L174.6,393.53 L175.3,393.53 L176,393.54 L176.7,393.55 L177.4,393.55 L178.1,393.56 L178.8,393.57 L179.5,393.57 L180.2,393.58 L180.9,393.58 L181.6,393.59 L182.3,393.59 L183,393.59 L183.7,393.59 L184.4,393.59 L185.1,393.59 L185.8,393.59 L186.5,393.58 L187.2,393.57 L187.9,393.55 L188.6,393.53 L189.3,393.51 L190,393.48 L190.7,393.43 L191.4,393.38 L192.1,393.32 L192.8,393.24 L193.5,393.15 L194.2,393.03 L194.9,392.9 L195.6,392.74 L196.3,392.55 L197,392.32 L197.7,392.06 L198.4,391.76 L199.1,391.41 L199.8,391.01 L200.5,390.55 L201.2,390.02 L201.9,389.43 L202.6,388.76 L203.3,388 L204,387.16 L204.7,386.23 L205.4,385.19 L206.1,384.05 L206.8,382.8 L207.5,381.43 L208.2,379.95 L208.9,378.35 L209.6,376.64 L210.3,374.8 L211,372.86 L211.7,370.8 L212.4,368.63 L213.1,366.37 L213.8,364.02 L214.5,361.59 L215.2,359.1 L215.9,356.57 L216.6,354 L217.3,351.42 L218,348.85 L218.7,346.3 L219.4,343.81 L220.1,341.39 L220.8,339.06 L221.5,336.85 L222.2,334.79 L222.9,332.88 L223.6,331.16 L224.3,329.64 L225,328.33 L225.7,327.26 L226.4,326.43 L227.1,325.85 L227.8,325.54 L228.5,325.49 L229.2,325.7 L229.9,326.18 L230.6,326.92 L231.3,327.9 L232,329.12 L232.7,330.57 L233.4,332.22 L234.1,334.07 L234.8,336.08 L235.5,338.25 L236.2,340.54 L236.9,342.94 L237.6,345.42 L238.3,347.96 L239,350.53 L239.7,353.13 L240.4,355.72 L241.1,358.28 L241.8,360.81 L242.5,363.28 L243.2,365.68 L243.9,367.99 L244.6,370.21 L245.3,372.33 L246,374.34 L246.7,376.24 L247.4,378.02 L248.1,379.69 L248.8,381.23 L249.5,382.66 L250.2,383.97 L250.9,385.18 L251.6,386.27 L252.3,387.26 L253,388.16 L253.7,388.96 L254.4,389.68 L255.1,390.33 L255.8,390.89 L256.5,391.39 L257.2,391.84 L257.9,392.22 L258.6,392.56 L259.3,392.85 L260,393.1 L260.7,393.32 L261.4,393.51 L262.1,393.67 L262.8,393.8 L263.5,393.92 L264.2,394.02 L264.9,394.1 L265.6,394.18 L266.3,394.24 L267,394.29 L267.7,394.33 L268.4,394.37 L269.1,394.4 L269.8,394.42 L270.5,394.45 L271.2,394.47 L271.9,394.48 L272.6,394.5 L273.3,394.51 L274,394.53 L274.7,394.54 L275.4,394.55 L276.1,394.56 L276.8,394.57 L277.5,394.57 L278.2,394.58 L278.9,394.59 L279.6,394.6 L280.3,394.61 L281,394.61 L281.7,394.62 L282.4,394.63 L283.1,394.64 L283.8,394.64 L284.5,394.65 L285.2,394.66 L285.9,394.66 L286.6,394.67 L287.3,394.68 L288,394.69 L288.7,394.69 L289.4,394.7 L290.1,394.71 L290.8,394.72 L291.5,394.72 L292.2,394.73 L292.9,394.74 L293.6,394.74 L294.3,394.75 L295,394.76 L295.7,394.77 L296.4,394.77 L297.1,394.78 L297.8,394.79 L298.5,394.79 L299.2,394.8 L299.9,394.81 L300.6,394.82 L301.3,394.82 L302,394.83 L302.7,394.84 L303.4,394.84 L304.1,394.85 L304.8,394.86 L305.5,394.87 L306.2,394.87 L306.9,394.88 L307.6,394.89 L308.3,394.89 L309,394.9 L309.7,394.91 L310.4,394.92 L311.1,394.92 L311.8,394.93 L312.5,394.94 L313.2,394.94 L313.9,394.95 L314.6,394.96 L315.3,394.97 L316,394.97 L316.7,394.98 L317.4,394.99 L318.1,394.99 L318.1,394.99 L25.5,392.01 Z" fill="#faaa5a"/>
<path d="M25.5,392.01 L26.2,392.01 L26.9,392.02 L27.6,392.03 L28.3,392.03 L29,392.04 L29.7,392.05 L30.4,392.06 L31.1,392.06 L31.8,392.07 L32.5,392.08 L33.2,392.08 L33.9,392.09 L34.6,392.1 L35.3,392.11 L36,392.11 L36.7,392.12 L37.4,392.13 L38.1,392.13 L38.8,392.14 L39.5,392.15 L40.2,392.16 L40.9,392.16 L41.6,392.17 L42.3,392.18 L43,392.18 L43.7,392.19 L44.4,392.2 L45.1,392.21 L45.8,392.21 L46.5,392.22 L47.2,392.23 L47.9,392.23 L48.6,392.24 L49.3,392.25 L50,392.26 L50.7,392.26 L51.4,392.27 L52.1,392.28 L52.8,392.28 L53.5,392.29 L54.2,392.3 L54.9,392.31 L55.6,392.31 L56.3,392.32 L57,392.33 L57.7,392.33 L58.4,392.34 L59.1,392.35 L59.8,392.36 L60.5,392.36 L61.2,392.37 L61.9,392.38 L62.6,392.38 L63.3,392.39 L64,392.4 L64.7,392.41 L65.4,392.41 L66.1,392.42 L66.8,392.43 L67.5,392.43 L68.2,392.44 L68.9,392.45 L69.6,392.46 L70.3,392.46 L71,392.47 L71.7,392.48 L72.4,392.48 L73.1,392.49 L73.8,392.5 L74.5,392.51 L75.2,392.51 L75.9,392.52 L76.6,392.53 L77.3,392.53 L78,392.54 L78.7,392.55 L79.4,392.56 L80.1,392.56 L80.8,392.57 L81.5,392.58 L82.2,392.58 L82.9,392.59 L83.6,392.6 L84.3,392.61 L85,392.61 L85.7,392.62 L86.4,392.63 L87.1,392.63 L87.8,392.64 L88.5,392.65 L89.2,392.66 L89.9,392.66 L90.6,392.67 L91.3,392.68 L92,392.68 L92.7,392.69 L93.4,392.7 L94.1,392.71 L94.8,392.71 L95.5,392.72 L96.2,392.73 L96.9,392.73 L97.6,392.74 L98.3,392.75 L99,392.76 L99.7,392.76 L100.4,392.77 L101.1,392.78 L101.8,392.78 L102.5,392.79 L103.2,392.8 L103.9,392.81 L104.6,392.81 L105.3,392.82 L106,392.83 L106.7,392.83 L107.4,392.84 L108.1,392.85 L108.8,392.86 L109.5,392.86 L110.2,392.87 L110.9,392.88 L111.6,392.88 L112.3,392.89 L113,392.9 L113.7,392.91 L114.4,392.91 L115.1,392.92 L115.8,392.93 L116.5,392.93 L117.2,392.94 L117.9,392.95 L118.6,392.96 L119.3,392.96 L120,392.97 L120.7,392.98 L121.4,392.98 L122.1,392.99 L122.8,393 L123.5,393.01 L124.2,393.01 L124.9,393.02 L125.6,393.03 L126.3,393.03 L127,393.04 L127.7,393.05 L128.4,393.06 L129.1,393.06 L129.8,393.07 L130.5,393.08 L131.2,393.08 L131.9,393.09 L132.6,393.1 L133.3,393.11 L134,393.11 L134.7,393.12 L135.4,393.13 L136.1,393.13 L136.8,393.14 L137.5,393.15 L138.2,393.16 L138.9,393.16 L139.6,393.17 L140.3,393.18 L141,393.18 L141.7,393.19 L142.4,393.2 L143.1,393.21 L143.8,393.21 L144.5,393.22 L145.2,393.23 L145.9,393.23 L146.6,393.24 L147.3,393.25 L148,393.26 L148.7,393.26 L149.4,393.27 L150.1,393.28 L150.8,393.28 L151.5,393.29 L152.2,393.3 L152.9,393.31 L153.6,393.31 L154.3,393.32 L155,393.33 L155.7,393.34 L156.4,393.34 L157.1,393.35 L157.8,393.36 L158.5,393.36 L159.2,393.37 L159.9,393.38 L160.6,393.39 L161.3,393.39 L162,393.4 L162.7,393.41 L163.4,393.41 L164.1,393.42 L164.8,393.43 L165.5,393.44 L166.2,393.44 L166.9,393.45 L167.6,393.46 L168.3,393.46 L169,393.47 L169.7,393.48 L170.4,393.49 L171.1,393.49 L171.8,393.5 L172.5,393.51 L173.2,393.51 L173.9,393.52 L174.6,393.53 L175.3,393.53 L176,393.54 L176.7,393.55 L177.4,393.55 L178.1,393.56 L178.8,393.57 L179.5,393.57 L180.2,393.58 L180.9,393.58 L181.6,393.59 L182.3,393.59 L183,393.59 L183.7,393.59 L184.4,393.59 L185.1,393.59 L185.8,393.59 L186.5,393.58 L187.2,393.57 L187.9,393.55 L188.6,393.53 L189.3,393.51 L190,393.48 L190.7,393.43 L191.4,393.38 L192.1,393.32 L192.8,393.24 L193.5,393.15 L194.2,393.03 L194.9,392.9 L195.6,392.74 L196.3,392.55 L197,392.32 L197.7,392.06 L198.4,391.76 L199.1,391.41 L199.8,391.01 L200.5,390.55 L201.2,390.02 L201.9,389.43 L202.6,388.76 L203.3,388 L204,387.16 L204.7,386.23 L205.4,385.19 L206.1,384.05 L206.8,382.8 L207.5,381.43 L208.2,379.95 L208.9,378.35 L209.6,376.64 L210.3,374.8 L211,372.86 L211.7,370.8 L212.4,368.63 L213.1,366.37 L213.8,364.02 L214.5,361.59 L215.2,359.1 L215.9,356.57 L216.6,354 L217.3,351.42 L218,348.85 L218.7,346.3 L219.4,343.81 L220.1,341.39 L220.8,339.06 L221.5,336.85 L222.2,334.79 L222.9,332.88 L223.6,331.16 L224.3,329.64 L225,328.33 L225.7,327.26 L226.4,326.43 L227.1,325.85 L227.8,325.54 L228.5,325.49 L229.2,325.7 L229.9,326.18 L230.6,326.92 L231.3,327.9 L232,329.12 L232.7,330.57 L233.4,332.22 L234.1,334.07 L234.8,336.08 L235.5,338.25 L236.2,340.54 L236.9,342.94 L237.6,345.42 L238.3,347.96 L239,350.53 L239.7,353.13 L240.4,355.72 L241.1,358.28 L241.8,360.81 L242.5,363.28 L243.2,365.68 L243.9,367.99 L244.6,370.21 L245.3,372.33 L246,374.34 L246.7,376.24 L247.4,378.02 L248.1,379.69 L248.8,381.23 L249.5,382.66 L250.2,383.97 L250.9,385.18 L251.6,386.27 L252.3,387.26 L253,388.16 L253.7,388.96 L254.4,389.68 L255.1,390.33 L255.8,390.89 L256.5,391.39 L257.2,391.84 L257.9,392.22 L258.6,392.56 L259.3,392.85 L260,393.1 L260.7,393.32 L261.4,393.51 L262.1,393.67 L262.8,393.8 L263.5,393.92 L264.2,394.02 L264.9,394.1 L265.6,394.18 L266.3,394.24 L267,394.29 L267.7,394.33 L268.4,394.37 L269.1,394.4 L269.8,394.42 L270.5,394.45 L271.2,394.47 L271.9,394.48 L272.6,394.5 L273.3,394.51 L274,394.53 L274.7,394.54 L275.4,394.55 L276.1,394.56 L276.8,394.57 L277.5,394.57 L278.2,394.58 L278.9,394.59 L279.6,394.6 L280.3,394.61 L281,394.61 L281.7,394.62 L282.4,394.63 L283.1,394.64 L283.8,394.64 L284.5,394.65 L285.2,394.66 L285.9,394.66 L286.6,394.67 L287.3,394.68 L288,394.69 L288.7,394.69 L289.4,394.7 L290.1,394.71 L290.8,394.72 L291.5,394.72 L292.2,394.73 L292.9,394.74 L293.6,394.74 L294.3,394.75 L295,394.76 L295.7,394.77 L296.4,394.77 L297.1,394.78 L297.8,394.79 L298.5,394.79 L299.2,394.8 L299.9,394.81 L300.6,394.82 L301.3,394.82 L302,394.83 L302.7,394.84 L303.4,394.84 L304.1,394.85 L304.8,394.86 L305.5,394.87 L306.2,394.87 L306.9,394.88 L307.6,394.89 L308.3,394.89 L309,394.9 L309.7,394.91 L310.4,394.92 L311.1,394.92 L311.8,394.93 L312.5,394.94 L313.2,394.94 L313.9,394.95 L314.6,394.96 L315.3,394.97 L316,394.97 L316.7,394.98 L317.4,394.99 L318.1,394.99" fill="none" stroke="#ff8a10" stroke-width="1.5"/>
<path d="M25.5,392.01 L26.2,392.01 L26.9,392.02 L27.6,392.03 L28.3,392.03 L29,392.04 L29.7,392.05 L30.4,392.06 L31.1,392.06 L31.8,392.07 L32.5,392.08 L33.2,392.08 L33.9,392.09 L34.6,392.1 L35.3,392.11 L36,392.11 L36.7,392.12 L37.4,392.13 L38.1,392.13 L38.8,392.14 L39.5,392.15 L40.2,392.16 L40.9,392.16 L41.6,392.17 L42.3,392.18 L43,392.18 L43.7,392.19 L44.4,392.2 L45.1,392.21 L45.8,392.21 L46.5,392.22 L47.2,392.23 L47.9,392.23 L48.6,392.24 L49.3,392.25 L50,392.26 L50.7,392.26 L51.4,392.27 L52.1,392.28 L52.8,392.28 L53.5,392.29 L54.2,392.3 L54.9,392.31 L55.6,392.31 L56.3,392.32 L57,392.33 L57.7,392.33 L58.4,392.34 L59.1,392.35 L59.8,392.36 L60.5,392.36 L61.2,392.37 L61.9,392.38 L62.6,392.38 L63.3,392.39 L64,392.4 L64.7,392.41 L65.4,392.41 L66.1,392.42 L66.8,392.43 L67.5,392.43 L68.2,392.44 L68.9,392.45 L69.6,392.46 L70.3,392.46 L71,392.47 L71.7,392.48 L72.4,392.48 L73.1,392.49 L73.8,392.5 L74.5,392.51 L75.2,392.51 L75.9,392.52 L76.6,392.53 L77.3,392.53 L78,392.54 L78.7,392.55 L79.4,392.56 L80.1,392.56 L80.8,392.57 L81.5,392.58 L82.2,392.58 L82.9,392.59 L83.6,392.6 L84.3,392.61 L85,392.61 L85.7,392.62 L86.4,392.63 L87.1,392.63 L87.8,392.64 L88.5,392.65 L89.2,392.66 L89.9,392.66 L90.6,392.67 L91.3,392.68 L92,392.68 L92.7,392.69 L93.4,392.7 L94.1,392.71 L94.8,392.71 L95.5,392.72 L96.2,392.73 L96.9,392.73 L97.6,392.74 L98.3,392.75 L99,392.76 L99.7,392.76 L100.4,392.77 L101.1,392.78 L101.8,392.78 L102.5,392.79 L103.2,392.8 L103.9,392.8 L104.6,392.81 L105.3,392.82 L106,392.82 L106.7,392.83 L107.4,392.84 L108.1,392.84 L108.8,392.85 L109.5,392.86 L110.2,392.86 L110.9,392.87 L111.6,392.88 L112.3,392.88 L113,392.89 L113.7,392.89 L114.4,392.9 L115.1,392.9 L115.8,392.91 L116.5,392.91 L117.2,392.92 L117.9,392.92 L118.6,392.92 L119.3,392.93 L120,392.93 L120.7,392.93 L121.4,392.93 L122.1,392.93 L122.8,392.93 L123.5,392.92 L124.2,392.92 L124.9,392.92 L125.6,392.91 L126.3,392.9 L127,392.89 L127.7,392.88 L128.4,392.87 L129.1,392.85 L129.8,392.83 L130.5,392.81 L131.2,392.79 L131.9,392.76 L132.6,392.73 L133.3,392.69 L134,392.65 L134.7,392.61 L135.4,392.56 L136.1,392.51 L136.8,392.45 L137.5,392.38 L138.2,392.31 L138.9,392.23 L139.6,392.14 L140.3,392.05 L141,391.95 L141.7,391.83 L142.4,391.71 L143.1,391.58 L143.8,391.44 L144.5,391.28 L145.2,391.12 L145.9,390.94 L146.6,390.75 L147.3,390.54 L148,390.32 L148.7,390.09 L149.4,389.84 L150.1,389.57 L150.8,389.29 L151.5,388.99 L152.2,388.67 L152.9,388.34 L153.6,387.98 L154.3,387.61 L155,387.22 L155.7,386.81 L156.4,386.38 L157.1,385.92 L157.8,385.45 L158.5,384.96 L159.2,384.45 L159.9,383.92 L160.6,383.37 L161.3,382.8 L162,382.21 L162.7,381.6 L163.4,380.98 L164.1,380.33 L164.8,379.68 L165.5,379 L166.2,378.31 L166.9,377.61 L167.6,376.9 L168.3,376.17 L169,375.44 L169.7,374.7 L170.4,373.95 L171.1,373.2 L171.8,372.45 L172.5,371.7 L173.2,370.95 L173.9,370.2 L174.6,369.45 L175.3,368.72 L176,367.99 L176.7,367.28 L177.4,366.58 L178.1,365.9 L178.8,365.24 L179.5,364.6 L180.2,363.98 L180.9,363.38 L181.6,362.82 L182.3,362.28 L183,361.78 L183.7,361.3 L184.4,360.87 L185.1,360.46 L185.8,360.1 L186.5,359.78 L187.2,359.49 L187.9,359.25 L188.6,359.05 L189.3,358.9 L190,358.79 L190.7,358.72 L191.4,358.7 L192.1,358.72 L192.8,358.79 L193.5,358.9 L194.2,359.06 L194.9,359.26 L195.6,359.51 L196.3,359.79 L197,360.12 L197.7,360.48 L198.4,360.89 L199.1,361.33 L199.8,361.81 L200.5,362.32 L201.2,362.86 L201.9,363.43 L202.6,364.03 L203.3,364.66 L204,365.31 L204.7,365.98 L205.4,366.67 L206.1,367.38 L206.8,368.1 L207.5,368.84 L208.2,369.58 L208.9,370.34 L209.6,371.1 L210.3,371.87 L211,372.63 L211.7,373.4 L212.4,374.17 L213.1,374.93 L213.8,375.69 L214.5,376.44 L215.2,377.18 L215.9,377.91 L216.6,378.63 L217.3,379.33 L218,380.03 L218.7,380.7 L219.4,381.36 L220.1,382.01 L220.8,382.64 L221.5,383.24 L222.2,383.83 L222.9,384.41 L223.6,384.96 L224.3,385.49 L225,386 L225.7,386.49 L226.4,386.96 L227.1,387.41 L227.8,387.85 L228.5,388.26 L229.2,388.65 L229.9,389.02 L230.6,389.38 L231.3,389.72 L232,390.03 L232.7,390.34 L233.4,390.62 L234.1,390.89 L234.8,391.14 L235.5,391.38 L236.2,391.6 L236.9,391.81 L237.6,392.01 L238.3,392.19 L239,392.37 L239.7,392.53 L240.4,392.67 L241.1,392.81 L241.8,392.94 L242.5,393.06 L243.2,393.17 L243.9,393.28 L244.6,393.37 L245.3,393.46 L246,393.54 L246.7,393.62 L247.4,393.69 L248.1,393.75 L248.8,393.81 L249.5,393.87 L250.2,393.92 L250.9,393.96 L251.6,394.01 L252.3,394.05 L253,394.08 L253.7,394.12 L254.4,394.15 L255.1,394.18 L255.8,394.2 L256.5,394.23 L257.2,394.25 L257.9,394.27 L258.6,394.29 L259.3,394.31 L260,394.33 L260.7,394.34 L261.4,394.36 L262.1,394.37 L262.8,394.38 L263.5,394.4 L264.2,394.41 L264.9,394.42 L265.6,394.43 L266.3,394.44 L267,394.45 L267.7,394.46 L268.4,394.47 L269.1,394.48 L269.8,394.49 L270.5,394.5 L271.2,394.51 L271.9,394.51 L272.6,394.52 L273.3,394.53 L274,394.54 L274.7,394.55 L275.4,394.55 L276.1,394.56 L276.8,394.57 L277.5,394.58 L278.2,394.58 L278.9,394.59 L279.6,394.6 L280.3,394.61 L281,394.61 L281.7,394.62 L282.4,394.63 L283.1,394.64 L283.8,394.64 L284.5,394.65 L285.2,394.66 L285.9,394.66 L286.6,394.67 L287.3,394.68 L288,394.69 L288.7,394.69 L289.4,394.7 L290.1,394.71 L290.8,394.71 L291.5,394.72 L292.2,394.73 L292.9,394.74 L293.6,394.74 L294.3,394.75 L295,394.76 L295.7,394.77 L296.4,394.77 L297.1,394.78 L297.8,394.79 L298.5,394.79 L299.2,394.8 L299.9,394.81 L300.6,394.82 L301.3,394.82 L302,394.83 L302.7,394.84 L303.4,394.84 L304.1,394.85 L304.8,394.86 L305.5,394.87 L306.2,394.87 L306.9,394.88 L307.6,394.89 L308.3,394.89 L309,394.9 L309.7,394.91 L310.4,394.92 L311.1,394.92 L311.8,394.93 L312.5,394.94 L313.2,394.94 L313.9,394.95 L314.6,394.96 L315.3,394.97 L316,394.97 L316.7,394.98 L317.4,394.99 L318.1,394.99 L318.1,394.99 L25.5,392.01 Z" fill="#734fa7" fill-opacity="0.68"/>
<path d="M25.5,392.01 L26.2,392.01 L26.9,392.02 L27.6,392.03 L28.3,392.03 L29,392.04 L29.7,392.05 L30.4,392.06 L31.1,392.06 L31.8,392.07 L32.5,392.08 L33.2,392.08 L33.9,392.09 L34.6,392.1 L35.3,392.11 L36,392.11 L36.7,392.12 L37.4,392.13 L38.1,392.13 L38.8,392.14 L39.5,392.15 L40.2,392.16 L40.9,392.16 L41.6,392.17 L42.3,392.18 L43,392.18 L43.7,392.19 L44.4,392.2 L45.1,392.21 L45.8,392.21 L46.5,392.22 L47.2,392.23 L47.9,392.23 L48.6,392.24 L49.3,392.25 L50,392.26 L50.7,392.26 L51.4,392.27 L52.1,392.28 L52.8,392.28 L53.5,392.29 L54.2,392.3 L54.9,392.31 L55.6,392.31 L56.3,392.32 L57,392.33 L57.7,392.33 L58.4,392.34 L59.1,392.35 L59.8,392.36 L60.5,392.36 L61.2,392.37 L61.9,392.38 L62.6,392.38 L63.3,392.39 L64,392.4 L64.7,392.41 L65.4,392.41 L66.1,392.42 L66.8,392.43 L67.5,392.43 L68.2,392.44 L68.9,392.45 L69.6,392.46 L70.3,392.46 L71,392.47 L71.7,392.48 L72.4,392.48 L73.1,392.49 L73.8,392.5 L74.5,392.51 L75.2,392.51 L75.9,392.52 L76.6,392.53 L77.3,392.53 L78,392.54 L78.7,392.55 L79.4,392.56 L80.1,392.56 L80.8,392.57 L81.5,392.58 L82.2,392.58 L82.9,392.59 L83.6,392.6 L84.3,392.61 L85,392.61 L85.7,392.62 L86.4,392.63 L87.1,392.63 L87.8,392.64 L88.5,392.65 L89.2,392.66 L89.9,392.66 L90.6,392.67 L91.3,392.68 L92,392.68 L92.7,392.69 L93.4,392.7 L94.1,392.71 L94.8,392.71 L95.5,392.72 L96.2,392.73 L96.9,392.73 L97.6,392.74 L98.3,392.75 L99,392.76 L99.7,392.76 L100.4,392.77 L101.1,392.78 L101.8,392.78 L102.5,392.79 L103.2,392.8 L103.9,392.8 L104.6,392.81 L105.3,392.82 L106,392.82 L106.7,392.83 L107.4,392.84 L108.1,392.84 L108.8,392.85 L109.5,392.86 L110.2,392.86 L110.9,392.87 L111.6,392.88 L112.3,392.88 L113,392.89 L113.7,392.89 L114.4,392.9 L115.1,392.9 L115.8,392.91 L116.5,392.91 L117.2,392.92 L117.9,392.92 L118.6,392.92 L119.3,392.93 L120,392.93 L120.7,392.93 L121.4,392.93 L122.1,392.93 L122.8,392.93 L123.5,392.92 L124.2,392.92 L124.9,392.92 L125.6,392.91 L126.3,392.9 L127,392.89 L127.7,392.88 L128.4,392.87 L129.1,392.85 L129.8,392.83 L130.5,392.81 L131.2,392.79 L131.9,392.76 L132.6,392.73 L133.3,392.69 L134,392.65 L134.7,392.61 L135.4,392.56 L136.1,392.51 L136.8,392.45 L137.5,392.38 L138.2,392.31 L138.9,392.23 L139.6,392.14 L140.3,392.05 L141,391.95 L141.7,391.83 L142.4,391.71 L143.1,391.58 L143.8,391.44 L144.5,391.28 L145.2,391.12 L145.9,390.94 L146.6,390.75 L147.3,390.54 L148,390.32 L148.7,390.09 L149.4,389.84 L150.1,389.57 L150.8,389.29 L151.5,388.99 L152.2,388.67 L152.9,388.34 L153.6,387.98 L154.3,387.61 L155,387.22 L155.7,386.81 L156.4,386.38 L157.1,385.92 L157.8,385.45 L158.5,384.96 L159.2,384.45 L159.9,383.92 L160.6,383.37 L161.3,382.8 L162,382.21 L162.7,381.6 L163.4,380.98 L164.1,380.33 L164.8,379.68 L165.5,379 L166.2,378.31 L166.9,377.61 L167.6,376.9 L168.3,376.17 L169,375.44 L169.7,374.7 L170.4,373.95 L171.1,373.2 L171.8,372.45 L172.5,371.7 L173.2,370.95 L173.9,370.2 L174.6,369.45 L175.3,368.72 L176,367.99 L176.7,367.28 L177.4,366.58 L178.1,365.9 L178.8,365.24 L179.5,364.6 L180.2,363.98 L180.9,363.38 L181.6,362.82 L182.3,362.28 L183,361.78 L183.7,361.3 L184.4,360.87 L185.1,360.46 L185.8,360.1 L186.5,359.78 L187.2,359.49 L187.9,359.25 L188.6,359.05 L189.3,358.9 L190,358.79 L190.7,358.72 L191.4,358.7 L192.1,358.72 L192.8,358.79 L193.5,358.9 L194.2,359.06 L194.9,359.26 L195.6,359.51 L196.3,359.79 L197,360.12 L197.7,360.48 L198.4,360.89 L199.1,361.33 L199.8,361.81 L200.5,362.32 L201.2,362.86 L201.9,363.43 L202.6,364.03 L203.3,364.66 L204,365.31 L204.7,365.98 L205.4,366.67 L206.1,367.38 L206.8,368.1 L207.5,368.84 L208.2,369.58 L208.9,370.34 L209.6,371.1 L210.3,371.87 L211,372.63 L211.7,373.4 L212.4,374.17 L213.1,374.93 L213.8,375.69 L214.5,376.44 L215.2,377.18 L215.9,377.91 L216.6,378.63 L217.3,379.33 L218,380.03 L218.7,380.7 L219.4,381.36 L220.1,382.01 L220.8,382.64 L221.5,383.24 L222.2,383.83 L222.9,384.41 L223.6,384.96 L224.3,385.49 L225,386 L225.7,386.49 L226.4,386.96 L227.1,387.41 L227.8,387.85 L228.5,388.26 L229.2,388.65 L229.9,389.02 L230.6,389.38 L231.3,389.72 L232,390.03 L232.7,390.34 L233.4,390.62 L234.1,390.89 L234.8,391.14 L235.5,391.38 L236.2,391.6 L236.9,391.81 L237.6,392.01 L238.3,392.19 L239,392.37 L239.7,392.53 L240.4,392.67 L241.1,392.81 L241.8,392.94 L242.5,393.06 L243.2,393.17 L243.9,393.28 L244.6,393.37 L245.3,393.46 L246,393.54 L246.7,393.62 L247.4,393.69 L248.1,393.75 L248.8,393.81 L249.5,393.87 L250.2,393.92 L250.9,393.96 L251.6,394.01 L252.3,394.05 L253,394.08 L253.7,394.12 L254.4,394.15 L255.1,394.18 L255.8,394.2 L256.5,394.23 L257.2,394.25 L257.9,394.27 L258.6,394.29 L259.3,394.31 L260,394.33 L260.7,394.34 L261.4,394.36 L262.1,394.37 L262.8,394.38 L263.5,394.4 L264.2,394.41 L264.9,394.42 L265.6,394.43 L266.3,394.44 L267,394.45 L267.7,394.46 L268.4,394.47 L269.1,394.48 L269.8,394.49 L270.5,394.5 L271.2,394.51 L271.9,394.51 L272.6,394.52 L273.3,394.53 L274,394.54 L274.7,394.55 L275.4,394.55 L276.1,394.56 L276.8,394.57 L277.5,394.58 L278.2,394.58 L278.9,394.59 L279.6,394.6 L280.3,394.61 L281,394.61 L281.7,394.62 L282.4,394.63 L283.1,394.64 L283.8,394.64 L284.5,394.65 L285.2,394.66 L285.9,394.66 L286.6,394.67 L287.3,394.68 L288,394.69 L288.7,394.69 L289.4,394.7 L290.1,394.71 L290.8,394.71 L291.5,394.72 L292.2,394.73 L292.9,394.74 L293.6,394.74 L294.3,394.75 L295,394.76 L295.7,394.77 L296.4,394.77 L297.1,394.78 L297.8,394.79 L298.5,394.79 L299.2,394.8 L299.9,394.81 L300.6,394.82 L301.3,394.82 L302,394.83 L302.7,394.84 L303.4,394.84 L304.1,394.85 L304.8,394.86 L305.5,394.87 L306.2,394.87 L306.9,394.88 L307.6,394.89 L308.3,394.89 L309,394.9 L309.7,394.91 L310.4,394.92 L311.1,394.92 L311.8,394.93 L312.5,394.94 L313.2,394.94 L313.9,394.95 L314.6,394.96 L315.3,394.97 L316,394.97 L316.7,394.98 L317.4,394.99 L318.1,394.99" fill="none" stroke="#6436b0" stroke-width="1.4"/>
<path d="M25.5,389.91 L26.2,389.91 L26.9,389.92 L27.6,389.93 L28.3,389.93 L29,389.94 L29.7,389.95 L30.4,389.96 L31.1,389.96 L31.8,389.97 L32.5,389.98 L33.2,389.98 L33.9,389.99 L34.6,390 L35.3,390.01 L36,390.01 L36.7,390.02 L37.4,390.03 L38.1,390.03 L38.8,390.04 L39.5,390.05 L40.2,390.06 L40.9,390.06 L41.6,390.07 L42.3,390.08 L43,390.08 L43.7,390.09 L44.4,390.1 L45.1,390.11 L45.8,390.11 L46.5,390.12 L47.2,390.13 L47.9,390.13 L48.6,390.14 L49.3,390.15 L50,390.16 L50.7,390.16 L51.4,390.17 L52.1,390.18 L52.8,390.18 L53.5,390.19 L54.2,390.2 L54.9,390.21 L55.6,390.21 L56.3,390.22 L57,390.23 L57.7,390.23 L58.4,390.24 L59.1,390.25 L59.8,390.26 L60.5,390.26 L61.2,390.27 L61.9,390.28 L62.6,390.28 L63.3,390.29 L64,390.3 L64.7,390.31 L65.4,390.31 L66.1,390.32 L66.8,390.33 L67.5,390.33 L68.2,390.34 L68.9,390.35 L69.6,390.36 L70.3,390.36 L71,390.37 L71.7,390.38 L72.4,390.38 L73.1,390.39 L73.8,390.4 L74.5,390.41 L75.2,390.41 L75.9,390.42 L76.6,390.43 L77.3,390.43 L78,390.44 L78.7,390.45 L79.4,390.46 L80.1,390.46 L80.8,390.47 L81.5,390.48 L82.2,390.48 L82.9,390.49 L83.6,390.5 L84.3,390.51 L85,390.51 L85.7,390.52 L86.4,390.53 L87.1,390.53 L87.8,390.54 L88.5,390.55 L89.2,390.56 L89.9,390.56 L90.6,390.57 L91.3,390.58 L92,390.58 L92.7,390.59 L93.4,390.6 L94.1,390.61 L94.8,390.61 L95.5,390.62 L96.2,390.63 L96.9,390.63 L97.6,390.64 L98.3,390.65 L99,390.66 L99.7,390.66 L100.4,390.67 L101.1,390.69 L101.8,390.7 L102.5,390.71 L103.2,390.73 L103.9,390.74 L104.6,390.75 L105.3,390.77 L106,390.78 L106.7,390.79 L107.4,390.81 L108.1,390.82 L108.8,390.84 L109.5,390.85 L110.2,390.86 L110.9,390.88 L111.6,390.89 L112.3,390.9 L113,390.92 L113.7,390.93 L114.4,390.94 L115.1,390.96 L115.8,390.97 L116.5,390.98 L117.2,391 L117.9,391.01 L118.6,391.02 L119.3,391.04 L120,391.05 L120.7,391.06 L121.4,391.08 L122.1,391.09 L122.8,391.1 L123.5,391.12 L124.2,391.13 L124.9,391.14 L125.6,391.16 L126.3,391.17 L127,391.18 L127.7,391.2 L128.4,391.21 L129.1,391.23 L129.8,391.24 L130.5,391.25 L131.2,391.27 L131.9,391.28 L132.6,391.29 L133.3,391.31 L134,391.32 L134.7,391.33 L135.4,391.35 L136.1,391.36 L136.8,391.37 L137.5,391.39 L138.2,391.4 L138.9,391.41 L139.6,391.43 L140.3,391.44 L141,391.45 L141.7,391.47 L142.4,391.48 L143.1,391.49 L143.8,391.51 L144.5,391.52 L145.2,391.53 L145.9,391.55 L146.6,391.56 L147.3,391.57 L148,391.59 L148.7,391.6 L149.4,391.62 L150.1,391.63 L150.8,391.64 L151.5,391.66 L152.2,391.67 L152.9,391.68 L153.6,391.7 L154.3,391.71 L155,391.72 L155.7,391.74 L156.4,391.75 L157.1,391.76 L157.8,391.78 L158.5,391.79 L159.2,391.8 L159.9,391.82 L160.6,391.83 L161.3,391.84 L162,391.86 L162.7,391.87 L163.4,391.88 L164.1,391.9 L164.8,391.91 L165.5,391.92 L166.2,391.94 L166.9,391.95 L167.6,391.96 L168.3,391.98 L169,391.99 L169.7,392.01 L170.4,392.02 L171.1,392.03 L171.8,392.05 L172.5,392.06 L173.2,392.07 L173.9,392.09 L174.6,392.1 L175.3,392.11 L176,392.13 L176.7,392.14 L177.4,392.15 L178.1,392.17 L178.8,392.18 L179.5,392.19 L180.2,392.21 L180.9,392.22 L181.6,392.23 L182.3,392.25 L183,392.26 L183.7,392.27 L184.4,392.29 L185.1,392.3 L185.8,392.31 L186.5,392.33 L187.2,392.34 L187.9,392.36 L188.6,392.37 L189.3,392.38 L190,392.4 L190.7,392.41 L191.4,392.42 L192.1,392.44 L192.8,392.45 L193.5,392.46 L194.2,392.48 L194.9,392.49 L195.6,392.5 L196.3,392.52 L197,392.53 L197.7,392.54 L198.4,392.56 L199.1,392.57 L199.8,392.58 L200.5,392.6 L201.2,392.61 L201.9,392.62 L202.6,392.64 L203.3,392.65 L204,392.66 L204.7,392.68 L205.4,392.69 L206.1,392.7 L206.8,392.72 L207.5,392.73 L208.2,392.75 L208.9,392.76 L209.6,392.77 L210.3,392.79 L211,392.8 L211.7,392.81 L212.4,392.83 L213.1,392.84 L213.8,392.85 L214.5,392.87 L215.2,392.88 L215.9,392.89 L216.6,392.91 L217.3,392.92 L218,392.93 L218.7,392.95 L219.4,392.96 L220.1,392.97 L220.8,392.99 L221.5,393 L222.2,393.01 L222.9,393.03 L223.6,393.04 L224.3,393.05 L225,393.07 L225.7,393.08 L226.4,393.09 L227.1,393.11 L227.8,393.12 L228.5,393.14 L229.2,393.15 L229.9,393.16 L230.6,393.18 L231.3,393.19 L232,393.2 L232.7,393.22 L233.4,393.23 L234.1,393.24 L234.8,393.26 L235.5,393.27 L236.2,393.28 L236.9,393.3 L237.6,393.31 L238.3,393.32 L239,393.34 L239.7,393.35 L240.4,393.36 L241.1,393.38 L241.8,393.39 L242.5,393.4 L243.2,393.42 L243.9,393.43 L244.6,393.44 L245.3,393.46 L246,393.47 L246.7,393.48 L247.4,393.5 L248.1,393.51 L248.8,393.53 L249.5,393.54 L250.2,393.55 L250.9,393.57 L251.6,393.58 L252.3,393.59 L253,393.61 L253.7,393.62 L254.4,393.63 L255.1,393.65 L255.8,393.66 L256.5,393.67 L257.2,393.69 L257.9,393.7 L258.6,393.71 L259.3,393.73 L260,393.74 L260.7,393.75 L261.4,393.77 L262.1,393.78 L262.8,393.79 L263.5,393.81 L264.2,393.82 L264.9,393.83 L265.6,393.85 L266.3,393.86 L267,393.87 L267.7,393.89 L268.4,393.9 L269.1,393.92 L269.8,393.93 L270.5,393.94 L271.2,393.96 L271.9,393.97 L272.6,393.98 L273.3,394 L274,394.01 L274.7,394.02 L275.4,394.04 L276.1,394.05 L276.8,394.06 L277.5,394.08 L278.2,394.09 L278.9,394.1 L279.6,394.12 L280.3,394.13 L281,394.14 L281.7,394.16 L282.4,394.17 L283.1,394.18 L283.8,394.2 L284.5,394.21 L285.2,394.22 L285.9,394.24 L286.6,394.25 L287.3,394.26 L288,394.28 L288.7,394.29 L289.4,394.31 L290.1,394.32 L290.8,394.33 L291.5,394.35 L292.2,394.36 L292.9,394.37 L293.6,394.39 L294.3,394.4 L295,394.41 L295.7,394.43 L296.4,394.44 L297.1,394.45 L297.8,394.47 L298.5,394.48 L299.2,394.49 L299.9,394.51 L300.6,394.52 L301.3,394.52 L302,394.53 L302.7,394.54 L303.4,394.54 L304.1,394.55 L304.8,394.56 L305.5,394.57 L306.2,394.57 L306.9,394.58 L307.6,394.59 L308.3,394.59 L309,394.6 L309.7,394.61 L310.4,394.62 L311.1,394.62 L311.8,394.63 L312.5,394.64 L313.2,394.64 L313.9,394.65 L314.6,394.66 L315.3,394.67 L316,394.67 L316.7,394.68 L317.4,394.69 L318.1,394.69" fill="none" stroke="#a8a030" stroke-width="1.1"/>
<path d="M25.5,390.81 L26.2,390.81 L26.9,390.82 L27.6,390.83 L28.3,390.83 L29,390.84 L29.7,390.85 L30.4,390.86 L31.1,390.86 L31.8,390.87 L32.5,390.88 L33.2,390.88 L33.9,390.89 L34.6,390.9 L35.3,390.91 L36,390.91 L36.7,390.92 L37.4,390.93 L38.1,390.93 L38.8,390.94 L39.5,390.95 L40.2,390.96 L40.9,390.96 L41.6,390.97 L42.3,390.98 L43,390.98 L43.7,390.99 L44.4,391 L45.1,391.01 L45.8,391.01 L46.5,391.02 L47.2,391.03 L47.9,391.03 L48.6,391.04 L49.3,391.05 L50,391.06 L50.7,391.06 L51.4,391.07 L52.1,391.08 L52.8,391.08 L53.5,391.09 L54.2,391.1 L54.9,391.11 L55.6,391.11 L56.3,391.12 L57,391.13 L57.7,391.13 L58.4,391.14 L59.1,391.15 L59.8,391.16 L60.5,391.16 L61.2,391.17 L61.9,391.18 L62.6,391.18 L63.3,391.19 L64,391.2 L64.7,391.21 L65.4,391.21 L66.1,391.22 L66.8,391.23 L67.5,391.23 L68.2,391.24 L68.9,391.25 L69.6,391.26 L70.3,391.26 L71,391.27 L71.7,391.28 L72.4,391.28 L73.1,391.29 L73.8,391.3 L74.5,391.31 L75.2,391.31 L75.9,391.32 L76.6,391.33 L77.3,391.33 L78,391.34 L78.7,391.35 L79.4,391.36 L80.1,391.36 L80.8,391.37 L81.5,391.38 L82.2,391.38 L82.9,391.39 L83.6,391.4 L84.3,391.41 L85,391.41 L85.7,391.42 L86.4,391.43 L87.1,391.43 L87.8,391.44 L88.5,391.45 L89.2,391.46 L89.9,391.46 L90.6,391.47 L91.3,391.48 L92,391.48 L92.7,391.49 L93.4,391.5 L94.1,391.51 L94.8,391.51 L95.5,391.52 L96.2,391.53 L96.9,391.53 L97.6,391.54 L98.3,391.55 L99,391.55 L99.7,391.56 L100.4,391.57 L101.1,391.57 L101.8,391.58 L102.5,391.59 L103.2,391.59 L103.9,391.6 L104.6,391.61 L105.3,391.61 L106,391.62 L106.7,391.62 L107.4,391.63 L108.1,391.63 L108.8,391.64 L109.5,391.64 L110.2,391.65 L110.9,391.65 L111.6,391.65 L112.3,391.66 L113,391.66 L113.7,391.66 L114.4,391.66 L115.1,391.66 L115.8,391.66 L116.5,391.66 L117.2,391.66 L117.9,391.65 L118.6,391.65 L119.3,391.64 L120,391.63 L120.7,391.62 L121.4,391.61 L122.1,391.6 L122.8,391.59 L123.5,391.57 L124.2,391.55 L124.9,391.53 L125.6,391.51 L126.3,391.48 L127,391.45 L127.7,391.41 L128.4,391.38 L129.1,391.34 L129.8,391.29 L130.5,391.24 L131.2,391.19 L131.9,391.13 L132.6,391.06 L133.3,390.99 L134,390.92 L134.7,390.84 L135.4,390.75 L136.1,390.65 L136.8,390.55 L137.5,390.44 L138.2,390.32 L138.9,390.19 L139.6,390.05 L140.3,389.91 L141,389.75 L141.7,389.59 L142.4,389.41 L143.1,389.22 L143.8,389.02 L144.5,388.81 L145.2,388.59 L145.9,388.35 L146.6,388.11 L147.3,387.84 L148,387.57 L148.7,387.28 L149.4,386.97 L150.1,386.65 L150.8,386.31 L151.5,385.96 L152.2,385.59 L152.9,385.21 L153.6,384.81 L154.3,384.39 L155,383.96 L155.7,383.51 L156.4,383.04 L157.1,382.56 L157.8,382.06 L158.5,381.54 L159.2,381.01 L159.9,380.45 L160.6,379.89 L161.3,379.31 L162,378.71 L162.7,378.1 L163.4,377.47 L164.1,376.83 L164.8,376.18 L165.5,375.51 L166.2,374.84 L166.9,374.15 L167.6,373.46 L168.3,372.76 L169,372.05 L169.7,371.34 L170.4,370.62 L171.1,369.9 L171.8,369.18 L172.5,368.46 L173.2,367.74 L173.9,367.03 L174.6,366.32 L175.3,365.61 L176,364.92 L176.7,364.24 L177.4,363.57 L178.1,362.91 L178.8,362.27 L179.5,361.64 L180.2,361.04 L180.9,360.45 L181.6,359.88 L182.3,359.34 L183,358.82 L183.7,358.33 L184.4,357.86 L185.1,357.42 L185.8,357.01 L186.5,356.62 L187.2,356.26 L187.9,355.94 L188.6,355.64 L189.3,355.37 L190,355.12 L190.7,354.91 L191.4,354.72 L192.1,354.56 L192.8,354.41 L193.5,354.29 L194.2,354.19 L194.9,354.1 L195.6,354.03 L196.3,353.97 L197,353.91 L197.7,353.85 L198.4,353.78 L199.1,353.71 L199.8,353.62 L200.5,353.51 L201.2,353.37 L201.9,353.19 L202.6,352.98 L203.3,352.71 L204,352.4 L204.7,352.01 L205.4,351.56 L206.1,351.04 L206.8,350.43 L207.5,349.74 L208.2,348.95 L208.9,348.08 L209.6,347.1 L210.3,346.03 L211,344.86 L211.7,343.6 L212.4,342.25 L213.1,340.81 L213.8,339.29 L214.5,337.7 L215.2,336.06 L215.9,334.37 L216.6,332.64 L217.3,330.91 L218,329.17 L218.7,327.46 L219.4,325.79 L220.1,324.18 L220.8,322.65 L221.5,321.23 L222.2,319.92 L222.9,318.77 L223.6,317.77 L224.3,316.95 L225,316.33 L225.7,315.92 L226.4,315.73 L227.1,315.77 L227.8,316.04 L228.5,316.55 L229.2,317.3 L229.9,318.29 L230.6,319.51 L231.3,320.95 L232,322.6 L232.7,324.46 L233.4,326.5 L234.1,328.7 L234.8,331.06 L235.5,333.54 L236.2,336.12 L236.9,338.79 L237.6,341.53 L238.3,344.3 L239,347.1 L239.7,349.9 L240.4,352.67 L241.1,355.41 L241.8,358.09 L242.5,360.71 L243.2,363.24 L243.9,365.67 L244.6,368.01 L245.3,370.23 L246,372.33 L246.7,374.31 L247.4,376.17 L248.1,377.9 L248.8,379.51 L249.5,380.99 L250.2,382.35 L250.9,383.6 L251.6,384.74 L252.3,385.77 L253,386.69 L253.7,387.53 L254.4,388.28 L255.1,388.94 L255.8,389.53 L256.5,390.05 L257.2,390.51 L257.9,390.91 L258.6,391.26 L259.3,391.56 L260,391.83 L260.7,392.05 L261.4,392.25 L262.1,392.42 L262.8,392.56 L263.5,392.68 L264.2,392.79 L264.9,392.87 L265.6,392.95 L266.3,393.01 L267,393.07 L267.7,393.11 L268.4,393.15 L269.1,393.18 L269.8,393.21 L270.5,393.24 L271.2,393.26 L271.9,393.28 L272.6,393.29 L273.3,393.31 L274,393.32 L274.7,393.33 L275.4,393.34 L276.1,393.35 L276.8,393.36 L277.5,393.37 L278.2,393.38 L278.9,393.39 L279.6,393.4 L280.3,393.41 L281,393.41 L281.7,393.42 L282.4,393.43 L283.1,393.44 L283.8,393.44 L284.5,393.45 L285.2,393.46 L285.9,393.46 L286.6,393.47 L287.3,393.48 L288,393.49 L288.7,393.49 L289.4,393.5 L290.1,393.51 L290.8,393.51 L291.5,393.52 L292.2,393.53 L292.9,393.54 L293.6,393.54 L294.3,393.55 L295,393.56 L295.7,393.57 L296.4,393.57 L297.1,393.58 L297.8,393.59 L298.5,393.59 L299.2,393.6 L299.9,393.61 L300.6,393.62 L301.3,393.62 L302,393.63 L302.7,393.64 L303.4,393.64 L304.1,393.65 L304.8,393.66 L305.5,393.67 L306.2,393.67 L306.9,393.68 L307.6,393.69 L308.3,393.69 L309,393.7 L309.7,393.71 L310.4,393.72 L311.1,393.72 L311.8,393.73 L312.5,393.74 L313.2,393.74 L313.9,393.75 L314.6,393.76 L315.3,393.77 L316,393.77 L316.7,393.78 L317.4,393.79 L318.1,393.79" fill="none" stroke="#9a9a9a" stroke-width="1.0" stroke-linejoin="round"/>
<path d="M25.5,392.76 L26.2,392.76 L26.9,392.37 L27.6,392.12 L28.3,391.82 L29,391.75 L29.7,391.8 L30.4,391.98 L31.1,392.21 L31.8,392.19 L32.5,392.62 L33.2,392.83 L33.9,392.85 L34.6,392.75 L35.3,392.46 L36,392.43 L36.7,392.39 L37.4,392.33 L38.1,392.35 L38.8,392.03 L39.5,392.23 L40.2,392.52 L40.9,392.61 L41.6,392.63 L42.3,392.27 L43,392.22 L43.7,392.02 L44.4,392.36 L45.1,392.88 L45.8,393.13 L46.5,392.83 L47.2,392.59 L47.9,392.48 L48.6,392.71 L49.3,392.66 L50,392.75 L50.7,392.73 L51.4,392.61 L52.1,392.52 L52.8,392.19 L53.5,392.22 L54.2,392.08 L54.9,392.32 L55.6,392.25 L56.3,392.48 L57,392.57 L57.7,392.51 L58.4,392.38 L59.1,392.19 L59.8,392.51 L60.5,392.88 L61.2,393.15 L61.9,393 L62.6,392.97 L63.3,392.63 L64,392.91 L64.7,392.61 L65.4,392.43 L66.1,392.61 L66.8,392.94 L67.5,393.2 L68.2,392.84 L68.9,392.59 L69.6,392.76 L70.3,392.53 L71,392.47 L71.7,392.53 L72.4,392.79 L73.1,393.06 L73.8,393.02 L74.5,393.33 L75.2,393.06 L75.9,393.09 L76.6,392.48 L77.3,392.41 L78,392.58 L78.7,392.72 L79.4,392.99 L80.1,392.79 L80.8,392.79 L81.5,392.67 L82.2,392.61 L82.9,392.7 L83.6,392.86 L84.3,393.04 L85,393.03 L85.7,392.8 L86.4,392.75 L87.1,392.83 L87.8,393.12 L88.5,393.47 L89.2,393.61 L89.9,393.46 L90.6,393.06 L91.3,392.82 L92,392.7 L92.7,392.59 L93.4,392.67 L94.1,392.74 L94.8,393 L95.5,393.01 L96.2,393.05 L96.9,392.77 L97.6,393.07 L98.3,393.18 L99,393.62 L99.7,393.51 L100.4,393.66 L101.1,393.37 L101.8,393.36 L102.5,393.54 L103.2,393.41 L103.9,393.48 L104.6,393.34 L105.3,393.59 L106,393.53 L106.7,393.48 L107.4,393.33 L108.1,393.28 L108.8,392.97 L109.5,392.97 L110.2,392.83 L110.9,392.94 L111.6,393.06 L112.3,393.22 L113,393.04 L113.7,393.31 L114.4,393.41 L115.1,393.73 L115.8,393.39 L116.5,393.2 L117.2,393.17 L117.9,393.28 L118.6,393.04 L119.3,393.06 L120,393.43 L120.7,393.39 L121.4,393.42 L122.1,393.03 L122.8,393.27 L123.5,393.31 L124.2,393.06 L124.9,393.08 L125.6,393.07 L126.3,393.19 L127,393.07 L127.7,392.84 L128.4,392.77 L129.1,393.02 L129.8,392.82 L130.5,392.97 L131.2,392.5 L131.9,392.67 L132.6,392.46 L133.3,392.19 L134,392.02 L134.7,391.79 L135.4,392.02 L136.1,392.16 L136.8,392.04 L137.5,391.84 L138.2,391.71 L138.9,391.76 L139.6,392.01 L140.3,391.7 L141,391.4 L141.7,390.99 L142.4,390.95 L143.1,391.03 L143.8,390.85 L144.5,390.46 L145.2,390.08 L145.9,389.76 L146.6,389.79 L147.3,389.54 L148,389.19 L148.7,388.54 L149.4,388.34 L150.1,388.28 L150.8,388 L151.5,387.44 L152.2,386.98 L152.9,386.37 L153.6,385.87 L154.3,385.57 L155,385.31 L155.7,385.11 L156.4,384.71 L157.1,384.39 L157.8,383.84 L158.5,383.45 L159.2,382.92 L159.9,382.32 L160.6,381.54 L161.3,380.92 L162,380.25 L162.7,379.54 L163.4,378.83 L164.1,378.02 L164.8,377.34 L165.5,376.65 L166.2,376.21 L166.9,375.3 L167.6,374.6 L168.3,373.96 L169,373.51 L169.7,372.68 L170.4,372.06 L171.1,371.14 L171.8,370.56 L172.5,369.94 L173.2,369.3 L173.9,368.54 L174.6,367.8 L175.3,367.14 L176,366.48 L176.7,365.67 L177.4,365.21 L178.1,364.27 L178.8,363.47 L179.5,362.54 L180.2,362.1 L180.9,361.51 L181.6,360.97 L182.3,360.63 L183,360.11 L183.7,359.76 L184.4,359.31 L185.1,358.89 L185.8,358.48 L186.5,358.28 L187.2,358.07 L187.9,357.63 L188.6,357.08 L189.3,356.63 L190,356.52 L190.7,356.44 L191.4,356.27 L192.1,356.03 L192.8,355.93 L193.5,355.85 L194.2,355.81 L194.9,355.41 L195.6,355.29 L196.3,355.12 L197,355.52 L197.7,355.52 L198.4,355.46 L199.1,354.99 L199.8,354.94 L200.5,355 L201.2,354.97 L201.9,355.11 L202.6,354.83 L203.3,354.75 L204,354.17 L204.7,353.85 L205.4,352.98 L206.1,352.4 L206.8,351.69 L207.5,351.17 L208.2,350.1 L208.9,349.36 L209.6,348.36 L210.3,347.54 L211,346.21 L211.7,344.97 L212.4,343.74 L213.1,342.15 L213.8,340.53 L214.5,338.93 L215.2,337.48 L215.9,335.87 L216.6,334.03 L217.3,332.15 L218,330.46 L218.7,329 L219.4,327.3 L220.1,325.92 L220.8,324.34 L221.5,323 L222.2,321.59 L222.9,320.1 L223.6,318.92 L224.3,317.81 L225,317.34 L225.7,317.13 L226.4,317.05 L227.1,317.16 L227.8,317.17 L228.5,317.83 L229.2,318.36 L229.9,319.56 L230.6,320.65 L231.3,322.13 L232,323.68 L232.7,325.45 L233.4,327.65 L234.1,330.14 L234.8,332.72 L235.5,335.06 L236.2,337.45 L236.9,339.9 L237.6,342.85 L238.3,345.44 L239,348.55 L239.7,351.21 L240.4,354.17 L241.1,356.78 L241.8,359.68 L242.5,362.45 L243.2,365.09 L243.9,367.39 L244.6,369.85 L245.3,372.1 L246,374.17 L246.7,376.18 L247.4,377.88 L248.1,379.64 L248.8,380.91 L249.5,382.33 L250.2,383.79 L250.9,384.98 L251.6,386.25 L252.3,387.22 L253,388.38 L253.7,388.8 L254.4,389.48 L255.1,390.2 L255.8,391 L256.5,391.55 L257.2,391.57 L257.9,392.17 L258.6,392.42 L259.3,393.19 L260,393.09 L260.7,393.51 L261.4,393.55 L262.1,394.1 L262.8,394.01 L263.5,394.07 L264.2,394.39 L264.9,394.49 L265.6,394.55 L266.3,394.25 L267,394.28 L267.7,394.6 L268.4,394.92 L269.1,395 L269.8,394.61 L270.5,394.56 L271.2,394.84 L271.9,395.22 L272.6,395.24 L273.3,394.97 L274,394.84 L274.7,394.48 L275.4,394.41 L276.1,394.59 L276.8,394.7 L277.5,395.25 L278.2,395.12 L278.9,395.14 L279.6,394.93 L280.3,395.19 L281,395.36 L281.7,395.07 L282.4,394.88 L283.1,395.01 L283.8,395.12 L284.5,394.97 L285.2,394.92 L285.9,395.02 L286.6,394.98 L287.3,394.79 L288,394.66 L288.7,394.87 L289.4,394.95 L290.1,395.23 L290.8,395.3 L291.5,395.06 L292.2,394.96 L292.9,395 L293.6,395.3 L294.3,395.39 L295,395.19 L295.7,395 L296.4,394.99 L297.1,394.92 L297.8,394.76 L298.5,394.78 L299.2,394.83 L299.9,395.11 L300.6,394.76 L301.3,394.68 L302,394.57 L302.7,394.73 L303.4,394.98 L304.1,394.82 L304.8,394.99 L305.5,394.77 L306.2,394.96 L306.9,394.95 L307.6,395.12 L308.3,395.06 L309,395.23 L309.7,395.13 L310.4,395.39 L311.1,395.16 L311.8,395.5 L312.5,395.4 L313.2,395.53 L313.9,395.22 L314.6,395.46 L315.3,395.21 L316,395.27 L316.7,395.39 L317.4,395.55 L318.1,395.61" fill="none" stroke="#3c3c3c" stroke-width="1.1" stroke-linejoin="round"/>
<path d="M25.5,463.51 L26.2,463.52 L26.9,463.53 L27.6,463.54 L28.3,463.54 L29,463.55 L29.7,463.56 L30.4,463.57 L31.1,463.58 L31.8,463.59 L32.5,463.6 L33.2,463.61 L33.9,463.62 L34.6,463.63 L35.3,463.64 L36,463.65 L36.7,463.66 L37.4,463.67 L38.1,463.68 L38.8,463.69 L39.5,463.7 L40.2,463.71 L40.9,463.72 L41.6,463.73 L42.3,463.74 L43,463.75 L43.7,463.75 L44.4,463.76 L45.1,463.77 L45.8,463.78 L46.5,463.79 L47.2,463.8 L47.9,463.81 L48.6,463.82 L49.3,463.83 L50,463.84 L50.7,463.85 L51.4,463.86 L52.1,463.87 L52.8,463.88 L53.5,463.89 L54.2,463.9 L54.9,463.91 L55.6,463.92 L56.3,463.93 L57,463.94 L57.7,463.95 L58.4,463.95 L59.1,463.96 L59.8,463.97 L60.5,463.98 L61.2,463.99 L61.9,464 L62.6,464.01 L63.3,464.02 L64,464.03 L64.7,464.04 L65.4,464.05 L66.1,464.06 L66.8,464.07 L67.5,464.08 L68.2,464.09 L68.9,464.1 L69.6,464.11 L70.3,464.12 L71,464.13 L71.7,464.14 L72.4,464.15 L73.1,464.16 L73.8,464.16 L74.5,464.17 L75.2,464.18 L75.9,464.19 L76.6,464.2 L77.3,464.21 L78,464.22 L78.7,464.23 L79.4,464.24 L80.1,464.25 L80.8,464.26 L81.5,464.27 L82.2,464.28 L82.9,464.29 L83.6,464.3 L84.3,464.31 L85,464.32 L85.7,464.33 L86.4,464.34 L87.1,464.35 L87.8,464.36 L88.5,464.36 L89.2,464.37 L89.9,464.38 L90.6,464.39 L91.3,464.4 L92,464.41 L92.7,464.42 L93.4,464.43 L94.1,464.44 L94.8,464.45 L95.5,464.46 L96.2,464.47 L96.9,464.48 L97.6,464.49 L98.3,464.5 L99,464.51 L99.7,464.52 L100.4,464.53 L101.1,464.54 L101.8,464.55 L102.5,464.56 L103.2,464.57 L103.9,464.57 L104.6,464.58 L105.3,464.59 L106,464.6 L106.7,464.61 L107.4,464.62 L108.1,464.63 L108.8,464.64 L109.5,464.65 L110.2,464.66 L110.9,464.67 L111.6,464.68 L112.3,464.69 L113,464.7 L113.7,464.71 L114.4,464.72 L115.1,464.73 L115.8,464.74 L116.5,464.75 L117.2,464.76 L117.9,464.77 L118.6,464.77 L119.3,464.78 L120,464.79 L120.7,464.8 L121.4,464.81 L122.1,464.82 L122.8,464.83 L123.5,464.84 L124.2,464.85 L124.9,464.86 L125.6,464.87 L126.3,464.88 L127,464.89 L127.7,464.9 L128.4,464.91 L129.1,464.92 L129.8,464.93 L130.5,464.94 L131.2,464.95 L131.9,464.96 L132.6,464.97 L133.3,464.97 L134,464.98 L134.7,464.99 L135.4,465 L136.1,465.01 L136.8,465.02 L137.5,465.03 L138.2,465.04 L138.9,465.05 L139.6,465.06 L140.3,465.07 L141,465.08 L141.7,465.09 L142.4,465.1 L143.1,465.11 L143.8,465.12 L144.5,465.13 L145.2,465.14 L145.9,465.15 L146.6,465.16 L147.3,465.17 L148,465.18 L148.7,465.18 L149.4,465.19 L150.1,465.2 L150.8,465.21 L151.5,465.22 L152.2,465.23 L152.9,465.24 L153.6,465.25 L154.3,465.26 L155,465.27 L155.7,465.28 L156.4,465.29 L157.1,465.3 L157.8,465.31 L158.5,465.32 L159.2,465.33 L159.9,465.34 L160.6,465.35 L161.3,465.36 L162,465.37 L162.7,465.38 L163.4,465.38 L164.1,465.39 L164.8,465.4 L165.5,465.41 L166.2,465.42 L166.9,465.43 L167.6,465.44 L168.3,465.45 L169,465.46 L169.7,465.47 L170.4,465.48 L171.1,465.49 L171.8,465.5 L172.5,465.51 L173.2,465.52 L173.9,465.53 L174.6,465.54 L175.3,465.55 L176,465.56 L176.7,465.57 L177.4,465.58 L178.1,465.59 L178.8,465.59 L179.5,465.6 L180.2,465.61 L180.9,465.62 L181.6,465.63 L182.3,465.64 L183,465.65 L183.7,465.66 L184.4,465.67 L185.1,465.68 L185.8,465.69 L186.5,465.7 L187.2,465.71 L187.9,465.72 L188.6,465.73 L189.3,465.73 L190,465.74 L190.7,465.75 L191.4,465.76 L192.1,465.76 L192.8,465.77 L193.5,465.77 L194.2,465.77 L194.9,465.77 L195.6,465.76 L196.3,465.75 L197,465.74 L197.7,465.71 L198.4,465.68 L199.1,465.64 L199.8,465.59 L200.5,465.52 L201.2,465.43 L201.9,465.32 L202.6,465.18 L203.3,465.01 L204,464.8 L204.7,464.55 L205.4,464.25 L206.1,463.9 L206.8,463.48 L207.5,462.99 L208.2,462.42 L208.9,461.77 L209.6,461.01 L210.3,460.15 L211,459.18 L211.7,458.1 L212.4,456.88 L213.1,455.54 L213.8,454.07 L214.5,452.46 L215.2,450.72 L215.9,448.86 L216.6,446.87 L217.3,444.77 L218,442.58 L218.7,440.3 L219.4,437.96 L220.1,435.58 L220.8,433.19 L221.5,430.8 L222.2,428.45 L222.9,426.17 L223.6,423.98 L224.3,421.93 L225,420.03 L225.7,418.33 L226.4,416.83 L227.1,415.58 L227.8,414.58 L228.5,413.86 L229.2,413.43 L229.9,413.29 L230.6,413.45 L231.3,413.9 L232,414.64 L232.7,415.66 L233.4,416.93 L234.1,418.44 L234.8,420.17 L235.5,422.08 L236.2,424.15 L236.9,426.36 L237.6,428.66 L238.3,431.03 L239,433.43 L239.7,435.85 L240.4,438.25 L241.1,440.61 L241.8,442.9 L242.5,445.12 L243.2,447.23 L243.9,449.24 L244.6,451.12 L245.3,452.88 L246,454.5 L246.7,456 L247.4,457.36 L248.1,458.59 L248.8,459.7 L249.5,460.69 L250.2,461.57 L250.9,462.34 L251.6,463.02 L252.3,463.6 L253,464.11 L253.7,464.55 L254.4,464.92 L255.1,465.24 L255.8,465.51 L256.5,465.73 L257.2,465.92 L257.9,466.08 L258.6,466.21 L259.3,466.32 L260,466.41 L260.7,466.48 L261.4,466.54 L262.1,466.59 L262.8,466.63 L263.5,466.67 L264.2,466.7 L264.9,466.72 L265.6,466.74 L266.3,466.76 L267,466.78 L267.7,466.79 L268.4,466.8 L269.1,466.82 L269.8,466.83 L270.5,466.84 L271.2,466.85 L271.9,466.86 L272.6,466.87 L273.3,466.88 L274,466.89 L274.7,466.9 L275.4,466.91 L276.1,466.92 L276.8,466.93 L277.5,466.94 L278.2,466.95 L278.9,466.96 L279.6,466.97 L280.3,466.98 L281,466.99 L281.7,467 L282.4,467.01 L283.1,467.02 L283.8,467.02 L284.5,467.03 L285.2,467.04 L285.9,467.05 L286.6,467.06 L287.3,467.07 L288,467.08 L288.7,467.09 L289.4,467.1 L290.1,467.11 L290.8,467.12 L291.5,467.13 L292.2,467.14 L292.9,467.15 L293.6,467.16 L294.3,467.17 L295,467.18 L295.7,467.19 L296.4,467.2 L297.1,467.21 L297.8,467.22 L298.5,467.22 L299.2,467.23 L299.9,467.24 L300.6,467.25 L301.3,467.26 L302,467.27 L302.7,467.28 L303.4,467.29 L304.1,467.3 L304.8,467.31 L305.5,467.32 L306.2,467.33 L306.9,467.34 L307.6,467.35 L308.3,467.36 L309,467.37 L309.7,467.38 L310.4,467.39 L311.1,467.4 L311.8,467.41 L312.5,467.42 L313.2,467.43 L313.9,467.43 L314.6,467.44 L315.3,467.45 L316,467.46 L316.7,467.47 L317.4,467.48 L318.1,467.49 L318.1,467.49 L25.5,463.51 Z" fill="#faaa5a"/>
<path d="M25.5,463.51 L26.2,463.52 L26.9,463.53 L27.6,463.54 L28.3,463.54 L29,463.55 L29.7,463.56 L30.4,463.57 L31.1,463.58 L31.8,463.59 L32.5,463.6 L33.2,463.61 L33.9,463.62 L34.6,463.63 L35.3,463.64 L36,463.65 L36.7,463.66 L37.4,463.67 L38.1,463.68 L38.8,463.69 L39.5,463.7 L40.2,463.71 L40.9,463.72 L41.6,463.73 L42.3,463.74 L43,463.75 L43.7,463.75 L44.4,463.76 L45.1,463.77 L45.8,463.78 L46.5,463.79 L47.2,463.8 L47.9,463.81 L48.6,463.82 L49.3,463.83 L50,463.84 L50.7,463.85 L51.4,463.86 L52.1,463.87 L52.8,463.88 L53.5,463.89 L54.2,463.9 L54.9,463.91 L55.6,463.92 L56.3,463.93 L57,463.94 L57.7,463.95 L58.4,463.95 L59.1,463.96 L59.8,463.97 L60.5,463.98 L61.2,463.99 L61.9,464 L62.6,464.01 L63.3,464.02 L64,464.03 L64.7,464.04 L65.4,464.05 L66.1,464.06 L66.8,464.07 L67.5,464.08 L68.2,464.09 L68.9,464.1 L69.6,464.11 L70.3,464.12 L71,464.13 L71.7,464.14 L72.4,464.15 L73.1,464.16 L73.8,464.16 L74.5,464.17 L75.2,464.18 L75.9,464.19 L76.6,464.2 L77.3,464.21 L78,464.22 L78.7,464.23 L79.4,464.24 L80.1,464.25 L80.8,464.26 L81.5,464.27 L82.2,464.28 L82.9,464.29 L83.6,464.3 L84.3,464.31 L85,464.32 L85.7,464.33 L86.4,464.34 L87.1,464.35 L87.8,464.36 L88.5,464.36 L89.2,464.37 L89.9,464.38 L90.6,464.39 L91.3,464.4 L92,464.41 L92.7,464.42 L93.4,464.43 L94.1,464.44 L94.8,464.45 L95.5,464.46 L96.2,464.47 L96.9,464.48 L97.6,464.49 L98.3,464.5 L99,464.51 L99.7,464.52 L100.4,464.53 L101.1,464.54 L101.8,464.55 L102.5,464.56 L103.2,464.57 L103.9,464.57 L104.6,464.58 L105.3,464.59 L106,464.6 L106.7,464.61 L107.4,464.62 L108.1,464.63 L108.8,464.64 L109.5,464.65 L110.2,464.66 L110.9,464.67 L111.6,464.68 L112.3,464.69 L113,464.7 L113.7,464.71 L114.4,464.72 L115.1,464.73 L115.8,464.74 L116.5,464.75 L117.2,464.76 L117.9,464.77 L118.6,464.77 L119.3,464.78 L120,464.79 L120.7,464.8 L121.4,464.81 L122.1,464.82 L122.8,464.83 L123.5,464.84 L124.2,464.85 L124.9,464.86 L125.6,464.87 L126.3,464.88 L127,464.89 L127.7,464.9 L128.4,464.91 L129.1,464.92 L129.8,464.93 L130.5,464.94 L131.2,464.95 L131.9,464.96 L132.6,464.97 L133.3,464.97 L134,464.98 L134.7,464.99 L135.4,465 L136.1,465.01 L136.8,465.02 L137.5,465.03 L138.2,465.04 L138.9,465.05 L139.6,465.06 L140.3,465.07 L141,465.08 L141.7,465.09 L142.4,465.1 L143.1,465.11 L143.8,465.12 L144.5,465.13 L145.2,465.14 L145.9,465.15 L146.6,465.16 L147.3,465.17 L148,465.18 L148.7,465.18 L149.4,465.19 L150.1,465.2 L150.8,465.21 L151.5,465.22 L152.2,465.23 L152.9,465.24 L153.6,465.25 L154.3,465.26 L155,465.27 L155.7,465.28 L156.4,465.29 L157.1,465.3 L157.8,465.31 L158.5,465.32 L159.2,465.33 L159.9,465.34 L160.6,465.35 L161.3,465.36 L162,465.37 L162.7,465.38 L163.4,465.38 L164.1,465.39 L164.8,465.4 L165.5,465.41 L166.2,465.42 L166.9,465.43 L167.6,465.44 L168.3,465.45 L169,465.46 L169.7,465.47 L170.4,465.48 L171.1,465.49 L171.8,465.5 L172.5,465.51 L173.2,465.52 L173.9,465.53 L174.6,465.54 L175.3,465.55 L176,465.56 L176.7,465.57 L177.4,465.58 L178.1,465.59 L178.8,465.59 L179.5,465.6 L180.2,465.61 L180.9,465.62 L181.6,465.63 L182.3,465.64 L183,465.65 L183.7,465.66 L184.4,465.67 L185.1,465.68 L185.8,465.69 L186.5,465.7 L187.2,465.71 L187.9,465.72 L188.6,465.73 L189.3,465.73 L190,465.74 L190.7,465.75 L191.4,465.76 L192.1,465.76 L192.8,465.77 L193.5,465.77 L194.2,465.77 L194.9,465.77 L195.6,465.76 L196.3,465.75 L197,465.74 L197.7,465.71 L198.4,465.68 L199.1,465.64 L199.8,465.59 L200.5,465.52 L201.2,465.43 L201.9,465.32 L202.6,465.18 L203.3,465.01 L204,464.8 L204.7,464.55 L205.4,464.25 L206.1,463.9 L206.8,463.48 L207.5,462.99 L208.2,462.42 L208.9,461.77 L209.6,461.01 L210.3,460.15 L211,459.18 L211.7,458.1 L212.4,456.88 L213.1,455.54 L213.8,454.07 L214.5,452.46 L215.2,450.72 L215.9,448.86 L216.6,446.87 L217.3,444.77 L218,442.58 L218.7,440.3 L219.4,437.96 L220.1,435.58 L220.8,433.19 L221.5,430.8 L222.2,428.45 L222.9,426.17 L223.6,423.98 L224.3,421.93 L225,420.03 L225.7,418.33 L226.4,416.83 L227.1,415.58 L227.8,414.58 L228.5,413.86 L229.2,413.43 L229.9,413.29 L230.6,413.45 L231.3,413.9 L232,414.64 L232.7,415.66 L233.4,416.93 L234.1,418.44 L234.8,420.17 L235.5,422.08 L236.2,424.15 L236.9,426.36 L237.6,428.66 L238.3,431.03 L239,433.43 L239.7,435.85 L240.4,438.25 L241.1,440.61 L241.8,442.9 L242.5,445.12 L243.2,447.23 L243.9,449.24 L244.6,451.12 L245.3,452.88 L246,454.5 L246.7,456 L247.4,457.36 L248.1,458.59 L248.8,459.7 L249.5,460.69 L250.2,461.57 L250.9,462.34 L251.6,463.02 L252.3,463.6 L253,464.11 L253.7,464.55 L254.4,464.92 L255.1,465.24 L255.8,465.51 L256.5,465.73 L257.2,465.92 L257.9,466.08 L258.6,466.21 L259.3,466.32 L260,466.41 L260.7,466.48 L261.4,466.54 L262.1,466.59 L262.8,466.63 L263.5,466.67 L264.2,466.7 L264.9,466.72 L265.6,466.74 L266.3,466.76 L267,466.78 L267.7,466.79 L268.4,466.8 L269.1,466.82 L269.8,466.83 L270.5,466.84 L271.2,466.85 L271.9,466.86 L272.6,466.87 L273.3,466.88 L274,466.89 L274.7,466.9 L275.4,466.91 L276.1,466.92 L276.8,466.93 L277.5,466.94 L278.2,466.95 L278.9,466.96 L279.6,466.97 L280.3,466.98 L281,466.99 L281.7,467 L282.4,467.01 L283.1,467.02 L283.8,467.02 L284.5,467.03 L285.2,467.04 L285.9,467.05 L286.6,467.06 L287.3,467.07 L288,467.08 L288.7,467.09 L289.4,467.1 L290.1,467.11 L290.8,467.12 L291.5,467.13 L292.2,467.14 L292.9,467.15 L293.6,467.16 L294.3,467.17 L295,467.18 L295.7,467.19 L296.4,467.2 L297.1,467.21 L297.8,467.22 L298.5,467.22 L299.2,467.23 L299.9,467.24 L300.6,467.25 L301.3,467.26 L302,467.27 L302.7,467.28 L303.4,467.29 L304.1,467.3 L304.8,467.31 L305.5,467.32 L306.2,467.33 L306.9,467.34 L307.6,467.35 L308.3,467.36 L309,467.37 L309.7,467.38 L310.4,467.39 L311.1,467.4 L311.8,467.41 L312.5,467.42 L313.2,467.43 L313.9,467.43 L314.6,467.44 L315.3,467.45 L316,467.46 L316.7,467.47 L317.4,467.48 L318.1,467.49" fill="none" stroke="#ff8a10" stroke-width="1.5"/>
<path d="M25.5,463.51 L26.2,463.52 L26.9,463.53 L27.6,463.54 L28.3,463.54 L29,463.55 L29.7,463.56 L30.4,463.57 L31.1,463.58 L31.8,463.59 L32.5,463.6 L33.2,463.61 L33.9,463.62 L34.6,463.63 L35.3,463.64 L36,463.65 L36.7,463.66 L37.4,463.67 L38.1,463.68 L38.8,463.69 L39.5,463.7 L40.2,463.71 L40.9,463.72 L41.6,463.73 L42.3,463.74 L43,463.75 L43.7,463.75 L44.4,463.76 L45.1,463.77 L45.8,463.78 L46.5,463.79 L47.2,463.8 L47.9,463.81 L48.6,463.82 L49.3,463.83 L50,463.84 L50.7,463.85 L51.4,463.86 L52.1,463.87 L52.8,463.88 L53.5,463.89 L54.2,463.9 L54.9,463.91 L55.6,463.92 L56.3,463.93 L57,463.94 L57.7,463.95 L58.4,463.95 L59.1,463.96 L59.8,463.97 L60.5,463.98 L61.2,463.99 L61.9,464 L62.6,464.01 L63.3,464.02 L64,464.03 L64.7,464.04 L65.4,464.05 L66.1,464.06 L66.8,464.07 L67.5,464.08 L68.2,464.09 L68.9,464.1 L69.6,464.11 L70.3,464.12 L71,464.13 L71.7,464.14 L72.4,464.15 L73.1,464.15 L73.8,464.16 L74.5,464.17 L75.2,464.18 L75.9,464.19 L76.6,464.2 L77.3,464.21 L78,464.22 L78.7,464.23 L79.4,464.24 L80.1,464.25 L80.8,464.26 L81.5,464.27 L82.2,464.28 L82.9,464.29 L83.6,464.3 L84.3,464.31 L85,464.31 L85.7,464.32 L86.4,464.33 L87.1,464.34 L87.8,464.35 L88.5,464.36 L89.2,464.37 L89.9,464.38 L90.6,464.39 L91.3,464.4 L92,464.4 L92.7,464.41 L93.4,464.42 L94.1,464.43 L94.8,464.44 L95.5,464.45 L96.2,464.45 L96.9,464.46 L97.6,464.47 L98.3,464.48 L99,464.48 L99.7,464.49 L100.4,464.5 L101.1,464.5 L101.8,464.51 L102.5,464.51 L103.2,464.52 L103.9,464.52 L104.6,464.53 L105.3,464.53 L106,464.53 L106.7,464.53 L107.4,464.53 L108.1,464.53 L108.8,464.53 L109.5,464.53 L110.2,464.53 L110.9,464.53 L111.6,464.52 L112.3,464.51 L113,464.51 L113.7,464.5 L114.4,464.48 L115.1,464.47 L115.8,464.46 L116.5,464.44 L117.2,464.42 L117.9,464.4 L118.6,464.37 L119.3,464.35 L120,464.32 L120.7,464.28 L121.4,464.25 L122.1,464.21 L122.8,464.16 L123.5,464.11 L124.2,464.06 L124.9,464 L125.6,463.94 L126.3,463.87 L127,463.8 L127.7,463.72 L128.4,463.63 L129.1,463.54 L129.8,463.44 L130.5,463.34 L131.2,463.23 L131.9,463.11 L132.6,462.98 L133.3,462.84 L134,462.69 L134.7,462.54 L135.4,462.37 L136.1,462.19 L136.8,462.01 L137.5,461.81 L138.2,461.6 L138.9,461.38 L139.6,461.14 L140.3,460.9 L141,460.64 L141.7,460.37 L142.4,460.08 L143.1,459.78 L143.8,459.47 L144.5,459.14 L145.2,458.79 L145.9,458.43 L146.6,458.05 L147.3,457.66 L148,457.25 L148.7,456.83 L149.4,456.39 L150.1,455.93 L150.8,455.46 L151.5,454.96 L152.2,454.46 L152.9,453.93 L153.6,453.39 L154.3,452.83 L155,452.25 L155.7,451.66 L156.4,451.06 L157.1,450.43 L157.8,449.79 L158.5,449.14 L159.2,448.47 L159.9,447.79 L160.6,447.09 L161.3,446.39 L162,445.67 L162.7,444.93 L163.4,444.19 L164.1,443.44 L164.8,442.68 L165.5,441.91 L166.2,441.14 L166.9,440.36 L167.6,439.57 L168.3,438.79 L169,438 L169.7,437.21 L170.4,436.42 L171.1,435.63 L171.8,434.85 L172.5,434.07 L173.2,433.29 L173.9,432.53 L174.6,431.77 L175.3,431.02 L176,430.29 L176.7,429.57 L177.4,428.86 L178.1,428.18 L178.8,427.5 L179.5,426.85 L180.2,426.22 L180.9,425.61 L181.6,425.03 L182.3,424.47 L183,423.94 L183.7,423.43 L184.4,422.96 L185.1,422.51 L185.8,422.09 L186.5,421.71 L187.2,421.36 L187.9,421.04 L188.6,420.76 L189.3,420.51 L190,420.3 L190.7,420.13 L191.4,419.99 L192.1,419.89 L192.8,419.82 L193.5,419.8 L194.2,419.81 L194.9,419.86 L195.6,419.95 L196.3,420.07 L197,420.24 L197.7,420.44 L198.4,420.67 L199.1,420.94 L199.8,421.25 L200.5,421.59 L201.2,421.96 L201.9,422.37 L202.6,422.81 L203.3,423.28 L204,423.78 L204.7,424.31 L205.4,424.87 L206.1,425.45 L206.8,426.05 L207.5,426.68 L208.2,427.34 L208.9,428.01 L209.6,428.7 L210.3,429.41 L211,430.14 L211.7,430.88 L212.4,431.64 L213.1,432.4 L213.8,433.18 L214.5,433.97 L215.2,434.76 L215.9,435.56 L216.6,436.36 L217.3,437.17 L218,437.98 L218.7,438.79 L219.4,439.6 L220.1,440.4 L220.8,441.21 L221.5,442 L222.2,442.8 L222.9,443.58 L223.6,444.36 L224.3,445.13 L225,445.89 L225.7,446.64 L226.4,447.38 L227.1,448.1 L227.8,448.81 L228.5,449.51 L229.2,450.2 L229.9,450.87 L230.6,451.52 L231.3,452.16 L232,452.79 L232.7,453.4 L233.4,453.99 L234.1,454.56 L234.8,455.12 L235.5,455.66 L236.2,456.19 L236.9,456.7 L237.6,457.19 L238.3,457.66 L239,458.12 L239.7,458.56 L240.4,458.99 L241.1,459.4 L241.8,459.79 L242.5,460.17 L243.2,460.53 L243.9,460.88 L244.6,461.21 L245.3,461.53 L246,461.83 L246.7,462.12 L247.4,462.39 L248.1,462.66 L248.8,462.91 L249.5,463.15 L250.2,463.37 L250.9,463.59 L251.6,463.79 L252.3,463.99 L253,464.17 L253.7,464.34 L254.4,464.51 L255.1,464.66 L255.8,464.81 L256.5,464.95 L257.2,465.08 L257.9,465.21 L258.6,465.32 L259.3,465.43 L260,465.53 L260.7,465.63 L261.4,465.72 L262.1,465.81 L262.8,465.89 L263.5,465.97 L264.2,466.04 L264.9,466.1 L265.6,466.17 L266.3,466.23 L267,466.28 L267.7,466.33 L268.4,466.38 L269.1,466.43 L269.8,466.47 L270.5,466.51 L271.2,466.55 L271.9,466.59 L272.6,466.62 L273.3,466.65 L274,466.68 L274.7,466.71 L275.4,466.74 L276.1,466.76 L276.8,466.79 L277.5,466.81 L278.2,466.83 L278.9,466.85 L279.6,466.87 L280.3,466.89 L281,466.91 L281.7,466.93 L282.4,466.94 L283.1,466.96 L283.8,466.97 L284.5,466.99 L285.2,467 L285.9,467.02 L286.6,467.03 L287.3,467.04 L288,467.05 L288.7,467.07 L289.4,467.08 L290.1,467.09 L290.8,467.1 L291.5,467.11 L292.2,467.13 L292.9,467.14 L293.6,467.15 L294.3,467.16 L295,467.17 L295.7,467.18 L296.4,467.19 L297.1,467.2 L297.8,467.21 L298.5,467.22 L299.2,467.23 L299.9,467.24 L300.6,467.25 L301.3,467.26 L302,467.27 L302.7,467.28 L303.4,467.29 L304.1,467.3 L304.8,467.31 L305.5,467.32 L306.2,467.33 L306.9,467.34 L307.6,467.35 L308.3,467.36 L309,467.37 L309.7,467.38 L310.4,467.39 L311.1,467.4 L311.8,467.41 L312.5,467.42 L313.2,467.42 L313.9,467.43 L314.6,467.44 L315.3,467.45 L316,467.46 L316.7,467.47 L317.4,467.48 L318.1,467.49 L318.1,467.49 L25.5,463.51 Z" fill="#734fa7" fill-opacity="0.68"/>
<path d="M25.5,463.51 L26.2,463.52 L26.9,463.53 L27.6,463.54 L28.3,463.54 L29,463.55 L29.7,463.56 L30.4,463.57 L31.1,463.58 L31.8,463.59 L32.5,463.6 L33.2,463.61 L33.9,463.62 L34.6,463.63 L35.3,463.64 L36,463.65 L36.7,463.66 L37.4,463.67 L38.1,463.68 L38.8,463.69 L39.5,463.7 L40.2,463.71 L40.9,463.72 L41.6,463.73 L42.3,463.74 L43,463.75 L43.7,463.75 L44.4,463.76 L45.1,463.77 L45.8,463.78 L46.5,463.79 L47.2,463.8 L47.9,463.81 L48.6,463.82 L49.3,463.83 L50,463.84 L50.7,463.85 L51.4,463.86 L52.1,463.87 L52.8,463.88 L53.5,463.89 L54.2,463.9 L54.9,463.91 L55.6,463.92 L56.3,463.93 L57,463.94 L57.7,463.95 L58.4,463.95 L59.1,463.96 L59.8,463.97 L60.5,463.98 L61.2,463.99 L61.9,464 L62.6,464.01 L63.3,464.02 L64,464.03 L64.7,464.04 L65.4,464.05 L66.1,464.06 L66.8,464.07 L67.5,464.08 L68.2,464.09 L68.9,464.1 L69.6,464.11 L70.3,464.12 L71,464.13 L71.7,464.14 L72.4,464.15 L73.1,464.15 L73.8,464.16 L74.5,464.17 L75.2,464.18 L75.9,464.19 L76.6,464.2 L77.3,464.21 L78,464.22 L78.7,464.23 L79.4,464.24 L80.1,464.25 L80.8,464.26 L81.5,464.27 L82.2,464.28 L82.9,464.29 L83.6,464.3 L84.3,464.31 L85,464.31 L85.7,464.32 L86.4,464.33 L87.1,464.34 L87.8,464.35 L88.5,464.36 L89.2,464.37 L89.9,464.38 L90.6,464.39 L91.3,464.4 L92,464.4 L92.7,464.41 L93.4,464.42 L94.1,464.43 L94.8,464.44 L95.5,464.45 L96.2,464.45 L96.9,464.46 L97.6,464.47 L98.3,464.48 L99,464.48 L99.7,464.49 L100.4,464.5 L101.1,464.5 L101.8,464.51 L102.5,464.51 L103.2,464.52 L103.9,464.52 L104.6,464.53 L105.3,464.53 L106,464.53 L106.7,464.53 L107.4,464.53 L108.1,464.53 L108.8,464.53 L109.5,464.53 L110.2,464.53 L110.9,464.53 L111.6,464.52 L112.3,464.51 L113,464.51 L113.7,464.5 L114.4,464.48 L115.1,464.47 L115.8,464.46 L116.5,464.44 L117.2,464.42 L117.9,464.4 L118.6,464.37 L119.3,464.35 L120,464.32 L120.7,464.28 L121.4,464.25 L122.1,464.21 L122.8,464.16 L123.5,464.11 L124.2,464.06 L124.9,464 L125.6,463.94 L126.3,463.87 L127,463.8 L127.7,463.72 L128.4,463.63 L129.1,463.54 L129.8,463.44 L130.5,463.34 L131.2,463.23 L131.9,463.11 L132.6,462.98 L133.3,462.84 L134,462.69 L134.7,462.54 L135.4,462.37 L136.1,462.19 L136.8,462.01 L137.5,461.81 L138.2,461.6 L138.9,461.38 L139.6,461.14 L140.3,460.9 L141,460.64 L141.7,460.37 L142.4,460.08 L143.1,459.78 L143.8,459.47 L144.5,459.14 L145.2,458.79 L145.9,458.43 L146.6,458.05 L147.3,457.66 L148,457.25 L148.7,456.83 L149.4,456.39 L150.1,455.93 L150.8,455.46 L151.5,454.96 L152.2,454.46 L152.9,453.93 L153.6,453.39 L154.3,452.83 L155,452.25 L155.7,451.66 L156.4,451.06 L157.1,450.43 L157.8,449.79 L158.5,449.14 L159.2,448.47 L159.9,447.79 L160.6,447.09 L161.3,446.39 L162,445.67 L162.7,444.93 L163.4,444.19 L164.1,443.44 L164.8,442.68 L165.5,441.91 L166.2,441.14 L166.9,440.36 L167.6,439.57 L168.3,438.79 L169,438 L169.7,437.21 L170.4,436.42 L171.1,435.63 L171.8,434.85 L172.5,434.07 L173.2,433.29 L173.9,432.53 L174.6,431.77 L175.3,431.02 L176,430.29 L176.7,429.57 L177.4,428.86 L178.1,428.18 L178.8,427.5 L179.5,426.85 L180.2,426.22 L180.9,425.61 L181.6,425.03 L182.3,424.47 L183,423.94 L183.7,423.43 L184.4,422.96 L185.1,422.51 L185.8,422.09 L186.5,421.71 L187.2,421.36 L187.9,421.04 L188.6,420.76 L189.3,420.51 L190,420.3 L190.7,420.13 L191.4,419.99 L192.1,419.89 L192.8,419.82 L193.5,419.8 L194.2,419.81 L194.9,419.86 L195.6,419.95 L196.3,420.07 L197,420.24 L197.7,420.44 L198.4,420.67 L199.1,420.94 L199.8,421.25 L200.5,421.59 L201.2,421.96 L201.9,422.37 L202.6,422.81 L203.3,423.28 L204,423.78 L204.7,424.31 L205.4,424.87 L206.1,425.45 L206.8,426.05 L207.5,426.68 L208.2,427.34 L208.9,428.01 L209.6,428.7 L210.3,429.41 L211,430.14 L211.7,430.88 L212.4,431.64 L213.1,432.4 L213.8,433.18 L214.5,433.97 L215.2,434.76 L215.9,435.56 L216.6,436.36 L217.3,437.17 L218,437.98 L218.7,438.79 L219.4,439.6 L220.1,440.4 L220.8,441.21 L221.5,442 L222.2,442.8 L222.9,443.58 L223.6,444.36 L224.3,445.13 L225,445.89 L225.7,446.64 L226.4,447.38 L227.1,448.1 L227.8,448.81 L228.5,449.51 L229.2,450.2 L229.9,450.87 L230.6,451.52 L231.3,452.16 L232,452.79 L232.7,453.4 L233.4,453.99 L234.1,454.56 L234.8,455.12 L235.5,455.66 L236.2,456.19 L236.9,456.7 L237.6,457.19 L238.3,457.66 L239,458.12 L239.7,458.56 L240.4,458.99 L241.1,459.4 L241.8,459.79 L242.5,460.17 L243.2,460.53 L243.9,460.88 L244.6,461.21 L245.3,461.53 L246,461.83 L246.7,462.12 L247.4,462.39 L248.1,462.66 L248.8,462.91 L249.5,463.15 L250.2,463.37 L250.9,463.59 L251.6,463.79 L252.3,463.99 L253,464.17 L253.7,464.34 L254.4,464.51 L255.1,464.66 L255.8,464.81 L256.5,464.95 L257.2,465.08 L257.9,465.21 L258.6,465.32 L259.3,465.43 L260,465.53 L260.7,465.63 L261.4,465.72 L262.1,465.81 L262.8,465.89 L263.5,465.97 L264.2,466.04 L264.9,466.1 L265.6,466.17 L266.3,466.23 L267,466.28 L267.7,466.33 L268.4,466.38 L269.1,466.43 L269.8,466.47 L270.5,466.51 L271.2,466.55 L271.9,466.59 L272.6,466.62 L273.3,466.65 L274,466.68 L274.7,466.71 L275.4,466.74 L276.1,466.76 L276.8,466.79 L277.5,466.81 L278.2,466.83 L278.9,466.85 L279.6,466.87 L280.3,466.89 L281,466.91 L281.7,466.93 L282.4,466.94 L283.1,466.96 L283.8,466.97 L284.5,466.99 L285.2,467 L285.9,467.02 L286.6,467.03 L287.3,467.04 L288,467.05 L288.7,467.07 L289.4,467.08 L290.1,467.09 L290.8,467.1 L291.5,467.11 L292.2,467.13 L292.9,467.14 L293.6,467.15 L294.3,467.16 L295,467.17 L295.7,467.18 L296.4,467.19 L297.1,467.2 L297.8,467.21 L298.5,467.22 L299.2,467.23 L299.9,467.24 L300.6,467.25 L301.3,467.26 L302,467.27 L302.7,467.28 L303.4,467.29 L304.1,467.3 L304.8,467.31 L305.5,467.32 L306.2,467.33 L306.9,467.34 L307.6,467.35 L308.3,467.36 L309,467.37 L309.7,467.38 L310.4,467.39 L311.1,467.4 L311.8,467.41 L312.5,467.42 L313.2,467.42 L313.9,467.43 L314.6,467.44 L315.3,467.45 L316,467.46 L316.7,467.47 L317.4,467.48 L318.1,467.49" fill="none" stroke="#6436b0" stroke-width="1.4"/>
<path d="M25.5,463.71 L26.2,463.72 L26.9,463.73 L27.6,463.74 L28.3,463.74 L29,463.75 L29.7,463.76 L30.4,463.77 L31.1,463.78 L31.8,463.79 L32.5,463.8 L33.2,463.81 L33.9,463.82 L34.6,463.83 L35.3,463.84 L36,463.85 L36.7,463.86 L37.4,463.87 L38.1,463.88 L38.8,463.89 L39.5,463.9 L40.2,463.91 L40.9,463.92 L41.6,463.93 L42.3,463.94 L43,463.95 L43.7,463.95 L44.4,463.96 L45.1,463.97 L45.8,463.98 L46.5,463.99 L47.2,464 L47.9,464.01 L48.6,464.02 L49.3,464.03 L50,464.04 L50.7,464.05 L51.4,464.06 L52.1,464.07 L52.8,464.08 L53.5,464.09 L54.2,464.1 L54.9,464.11 L55.6,464.12 L56.3,464.13 L57,464.14 L57.7,464.15 L58.4,464.15 L59.1,464.16 L59.8,464.17 L60.5,464.18 L61.2,464.19 L61.9,464.2 L62.6,464.21 L63.3,464.22 L64,464.23 L64.7,464.24 L65.4,464.25 L66.1,464.26 L66.8,464.27 L67.5,464.28 L68.2,464.29 L68.9,464.3 L69.6,464.31 L70.3,464.32 L71,464.33 L71.7,464.34 L72.4,464.35 L73.1,464.36 L73.8,464.36 L74.5,464.37 L75.2,464.38 L75.9,464.39 L76.6,464.4 L77.3,464.41 L78,464.42 L78.7,464.43 L79.4,464.44 L80.1,464.45 L80.8,464.46 L81.5,464.47 L82.2,464.48 L82.9,464.49 L83.6,464.5 L84.3,464.51 L85,464.52 L85.7,464.53 L86.4,464.54 L87.1,464.55 L87.8,464.56 L88.5,464.56 L89.2,464.57 L89.9,464.58 L90.6,464.59 L91.3,464.6 L92,464.61 L92.7,464.62 L93.4,464.63 L94.1,464.64 L94.8,464.65 L95.5,464.66 L96.2,464.67 L96.9,464.68 L97.6,464.69 L98.3,464.7 L99,464.71 L99.7,464.72 L100.4,464.73 L101.1,464.74 L101.8,464.75 L102.5,464.76 L103.2,464.77 L103.9,464.77 L104.6,464.78 L105.3,464.79 L106,464.8 L106.7,464.81 L107.4,464.82 L108.1,464.83 L108.8,464.84 L109.5,464.85 L110.2,464.86 L110.9,464.87 L111.6,464.88 L112.3,464.89 L113,464.9 L113.7,464.91 L114.4,464.92 L115.1,464.93 L115.8,464.94 L116.5,464.95 L117.2,464.96 L117.9,464.97 L118.6,464.97 L119.3,464.98 L120,464.99 L120.7,465 L121.4,465.01 L122.1,465.02 L122.8,465.03 L123.5,465.04 L124.2,465.05 L124.9,465.06 L125.6,465.07 L126.3,465.08 L127,465.09 L127.7,465.1 L128.4,465.11 L129.1,465.12 L129.8,465.13 L130.5,465.14 L131.2,465.15 L131.9,465.16 L132.6,465.17 L133.3,465.17 L134,465.18 L134.7,465.19 L135.4,465.2 L136.1,465.21 L136.8,465.22 L137.5,465.23 L138.2,465.24 L138.9,465.25 L139.6,465.26 L140.3,465.27 L141,465.28 L141.7,465.29 L142.4,465.3 L143.1,465.31 L143.8,465.32 L144.5,465.33 L145.2,465.34 L145.9,465.35 L146.6,465.36 L147.3,465.37 L148,465.38 L148.7,465.38 L149.4,465.39 L150.1,465.4 L150.8,465.41 L151.5,465.42 L152.2,465.43 L152.9,465.44 L153.6,465.45 L154.3,465.46 L155,465.47 L155.7,465.48 L156.4,465.49 L157.1,465.5 L157.8,465.51 L158.5,465.52 L159.2,465.53 L159.9,465.54 L160.6,465.55 L161.3,465.56 L162,465.57 L162.7,465.58 L163.4,465.58 L164.1,465.59 L164.8,465.6 L165.5,465.61 L166.2,465.62 L166.9,465.63 L167.6,465.64 L168.3,465.65 L169,465.66 L169.7,465.67 L170.4,465.68 L171.1,465.69 L171.8,465.7 L172.5,465.71 L173.2,465.72 L173.9,465.73 L174.6,465.74 L175.3,465.75 L176,465.76 L176.7,465.77 L177.4,465.78 L178.1,465.79 L178.8,465.79 L179.5,465.8 L180.2,465.81 L180.9,465.82 L181.6,465.83 L182.3,465.84 L183,465.85 L183.7,465.86 L184.4,465.87 L185.1,465.88 L185.8,465.89 L186.5,465.9 L187.2,465.91 L187.9,465.92 L188.6,465.93 L189.3,465.94 L190,465.95 L190.7,465.96 L191.4,465.97 L192.1,465.98 L192.8,465.99 L193.5,465.99 L194.2,466 L194.9,466.01 L195.6,466.02 L196.3,466.03 L197,466.04 L197.7,466.05 L198.4,466.06 L199.1,466.07 L199.8,466.08 L200.5,466.09 L201.2,466.1 L201.9,466.11 L202.6,466.12 L203.3,466.13 L204,466.14 L204.7,466.15 L205.4,466.16 L206.1,466.17 L206.8,466.18 L207.5,466.19 L208.2,466.2 L208.9,466.2 L209.6,466.21 L210.3,466.22 L211,466.23 L211.7,466.24 L212.4,466.25 L213.1,466.26 L213.8,466.27 L214.5,466.28 L215.2,466.29 L215.9,466.3 L216.6,466.31 L217.3,466.32 L218,466.33 L218.7,466.34 L219.4,466.35 L220.1,466.36 L220.8,466.37 L221.5,466.38 L222.2,466.39 L222.9,466.4 L223.6,466.4 L224.3,466.41 L225,466.42 L225.7,466.43 L226.4,466.44 L227.1,466.45 L227.8,466.46 L228.5,466.47 L229.2,466.48 L229.9,466.49 L230.6,466.5 L231.3,466.51 L232,466.52 L232.7,466.53 L233.4,466.54 L234.1,466.55 L234.8,466.56 L235.5,466.57 L236.2,466.58 L236.9,466.59 L237.6,466.6 L238.3,466.61 L239,466.61 L239.7,466.62 L240.4,466.63 L241.1,466.64 L241.8,466.65 L242.5,466.66 L243.2,466.67 L243.9,466.68 L244.6,466.69 L245.3,466.7 L246,466.71 L246.7,466.72 L247.4,466.73 L248.1,466.74 L248.8,466.75 L249.5,466.76 L250.2,466.77 L250.9,466.78 L251.6,466.79 L252.3,466.8 L253,466.81 L253.7,466.81 L254.4,466.82 L255.1,466.83 L255.8,466.84 L256.5,466.85 L257.2,466.86 L257.9,466.87 L258.6,466.88 L259.3,466.89 L260,466.9 L260.7,466.91 L261.4,466.92 L262.1,466.93 L262.8,466.94 L263.5,466.95 L264.2,466.96 L264.9,466.97 L265.6,466.98 L266.3,466.99 L267,467 L267.7,467.01 L268.4,467.01 L269.1,467.02 L269.8,467.03 L270.5,467.04 L271.2,467.05 L271.9,467.06 L272.6,467.07 L273.3,467.08 L274,467.09 L274.7,467.1 L275.4,467.11 L276.1,467.12 L276.8,467.13 L277.5,467.14 L278.2,467.15 L278.9,467.16 L279.6,467.17 L280.3,467.18 L281,467.19 L281.7,467.2 L282.4,467.21 L283.1,467.22 L283.8,467.22 L284.5,467.23 L285.2,467.24 L285.9,467.25 L286.6,467.26 L287.3,467.27 L288,467.28 L288.7,467.29 L289.4,467.3 L290.1,467.31 L290.8,467.32 L291.5,467.33 L292.2,467.34 L292.9,467.35 L293.6,467.36 L294.3,467.37 L295,467.38 L295.7,467.39 L296.4,467.4 L297.1,467.41 L297.8,467.42 L298.5,467.42 L299.2,467.43 L299.9,467.44 L300.6,467.45 L301.3,467.46 L302,467.47 L302.7,467.48 L303.4,467.49 L304.1,467.5 L304.8,467.51 L305.5,467.52 L306.2,467.53 L306.9,467.54 L307.6,467.55 L308.3,467.56 L309,467.57 L309.7,467.58 L310.4,467.59 L311.1,467.6 L311.8,467.61 L312.5,467.62 L313.2,467.63 L313.9,467.63 L314.6,467.64 L315.3,467.65 L316,467.66 L316.7,467.67 L317.4,467.68 L318.1,467.69" fill="none" stroke="#b05060" stroke-width="1.0"/>
<path d="M25.5,462.51 L26.2,462.52 L26.9,462.53 L27.6,462.54 L28.3,462.54 L29,462.55 L29.7,462.56 L30.4,462.57 L31.1,462.58 L31.8,462.59 L32.5,462.6 L33.2,462.61 L33.9,462.62 L34.6,462.63 L35.3,462.64 L36,462.65 L36.7,462.66 L37.4,462.67 L38.1,462.68 L38.8,462.69 L39.5,462.7 L40.2,462.71 L40.9,462.72 L41.6,462.73 L42.3,462.74 L43,462.75 L43.7,462.75 L44.4,462.76 L45.1,462.77 L45.8,462.78 L46.5,462.79 L47.2,462.8 L47.9,462.81 L48.6,462.82 L49.3,462.83 L50,462.84 L50.7,462.85 L51.4,462.86 L52.1,462.87 L52.8,462.88 L53.5,462.89 L54.2,462.9 L54.9,462.91 L55.6,462.92 L56.3,462.93 L57,462.94 L57.7,462.95 L58.4,462.95 L59.1,462.96 L59.8,462.97 L60.5,462.98 L61.2,462.99 L61.9,463 L62.6,463.01 L63.3,463.02 L64,463.03 L64.7,463.04 L65.4,463.05 L66.1,463.06 L66.8,463.07 L67.5,463.08 L68.2,463.09 L68.9,463.1 L69.6,463.11 L70.3,463.12 L71,463.13 L71.7,463.14 L72.4,463.15 L73.1,463.15 L73.8,463.16 L74.5,463.17 L75.2,463.18 L75.9,463.19 L76.6,463.2 L77.3,463.21 L78,463.22 L78.7,463.23 L79.4,463.24 L80.1,463.25 L80.8,463.26 L81.5,463.27 L82.2,463.28 L82.9,463.29 L83.6,463.3 L84.3,463.31 L85,463.31 L85.7,463.32 L86.4,463.33 L87.1,463.34 L87.8,463.35 L88.5,463.36 L89.2,463.37 L89.9,463.38 L90.6,463.39 L91.3,463.4 L92,463.4 L92.7,463.41 L93.4,463.42 L94.1,463.43 L94.8,463.44 L95.5,463.45 L96.2,463.45 L96.9,463.46 L97.6,463.47 L98.3,463.48 L99,463.48 L99.7,463.49 L100.4,463.5 L101.1,463.5 L101.8,463.51 L102.5,463.51 L103.2,463.52 L103.9,463.52 L104.6,463.53 L105.3,463.53 L106,463.53 L106.7,463.53 L107.4,463.53 L108.1,463.53 L108.8,463.53 L109.5,463.53 L110.2,463.53 L110.9,463.53 L111.6,463.52 L112.3,463.51 L113,463.51 L113.7,463.5 L114.4,463.48 L115.1,463.47 L115.8,463.46 L116.5,463.44 L117.2,463.42 L117.9,463.4 L118.6,463.37 L119.3,463.35 L120,463.32 L120.7,463.28 L121.4,463.25 L122.1,463.21 L122.8,463.16 L123.5,463.11 L124.2,463.06 L124.9,463 L125.6,462.94 L126.3,462.87 L127,462.8 L127.7,462.72 L128.4,462.63 L129.1,462.54 L129.8,462.44 L130.5,462.34 L131.2,462.23 L131.9,462.11 L132.6,461.98 L133.3,461.84 L134,461.69 L134.7,461.54 L135.4,461.37 L136.1,461.19 L136.8,461.01 L137.5,460.81 L138.2,460.6 L138.9,460.38 L139.6,460.14 L140.3,459.9 L141,459.64 L141.7,459.37 L142.4,459.08 L143.1,458.78 L143.8,458.47 L144.5,458.14 L145.2,457.79 L145.9,457.43 L146.6,457.05 L147.3,456.66 L148,456.25 L148.7,455.83 L149.4,455.39 L150.1,454.93 L150.8,454.46 L151.5,453.96 L152.2,453.46 L152.9,452.93 L153.6,452.39 L154.3,451.83 L155,451.25 L155.7,450.66 L156.4,450.06 L157.1,449.43 L157.8,448.79 L158.5,448.14 L159.2,447.47 L159.9,446.79 L160.6,446.09 L161.3,445.39 L162,444.67 L162.7,443.93 L163.4,443.19 L164.1,442.44 L164.8,441.68 L165.5,440.91 L166.2,440.14 L166.9,439.36 L167.6,438.57 L168.3,437.79 L169,437 L169.7,436.21 L170.4,435.42 L171.1,434.63 L171.8,433.85 L172.5,433.07 L173.2,432.29 L173.9,431.53 L174.6,430.77 L175.3,430.02 L176,429.29 L176.7,428.57 L177.4,427.86 L178.1,427.17 L178.8,426.5 L179.5,425.85 L180.2,425.22 L180.9,424.61 L181.6,424.03 L182.3,423.47 L183,422.93 L183.7,422.42 L184.4,421.94 L185.1,421.49 L185.8,421.07 L186.5,420.68 L187.2,420.32 L187.9,420 L188.6,419.7 L189.3,419.44 L190,419.21 L190.7,419.01 L191.4,418.85 L192.1,418.71 L192.8,418.61 L193.5,418.54 L194.2,418.5 L194.9,418.48 L195.6,418.5 L196.3,418.54 L197,418.6 L197.7,418.69 L198.4,418.8 L199.1,418.92 L199.8,419.06 L200.5,419.22 L201.2,419.38 L201.9,419.55 L202.6,419.71 L203.3,419.88 L204,420.04 L204.7,420.19 L205.4,420.32 L206.1,420.42 L206.8,420.49 L207.5,420.52 L208.2,420.5 L208.9,420.43 L209.6,420.3 L210.3,420.09 L211,419.81 L211.7,419.44 L212.4,418.97 L213.1,418.4 L213.8,417.73 L214.5,416.95 L215.2,416.06 L215.9,415.06 L216.6,413.96 L217.3,412.77 L218,411.48 L218.7,410.12 L219.4,408.7 L220.1,407.24 L220.8,405.76 L221.5,404.29 L222.2,402.84 L222.9,401.46 L223.6,400.16 L224.3,398.97 L225,397.93 L225.7,397.05 L226.4,396.37 L227.1,395.91 L227.8,395.69 L228.5,395.73 L229.2,396.03 L229.9,396.6 L230.6,397.45 L231.3,398.57 L232,399.95 L232.7,401.6 L233.4,403.48 L234.1,405.57 L234.8,407.87 L235.5,410.33 L236.2,412.93 L236.9,415.64 L237.6,418.43 L238.3,421.27 L239,424.13 L239.7,426.98 L240.4,429.8 L241.1,432.56 L241.8,435.24 L242.5,437.82 L243.2,440.29 L243.9,442.63 L244.6,444.84 L245.3,446.9 L246,448.82 L246.7,450.6 L247.4,452.22 L248.1,453.71 L248.8,455.06 L249.5,456.28 L250.2,457.37 L250.9,458.35 L251.6,459.22 L252.3,460 L253,460.68 L253.7,461.28 L254.4,461.81 L255.1,462.27 L255.8,462.68 L256.5,463.03 L257.2,463.34 L257.9,463.61 L258.6,463.85 L259.3,464.06 L260,464.24 L260.7,464.4 L261.4,464.54 L262.1,464.67 L262.8,464.78 L263.5,464.88 L264.2,464.97 L264.9,465.06 L265.6,465.13 L266.3,465.2 L267,465.26 L267.7,465.32 L268.4,465.37 L269.1,465.42 L269.8,465.47 L270.5,465.51 L271.2,465.55 L271.9,465.58 L272.6,465.62 L273.3,465.65 L274,465.68 L274.7,465.71 L275.4,465.74 L276.1,465.76 L276.8,465.79 L277.5,465.81 L278.2,465.83 L278.9,465.85 L279.6,465.87 L280.3,465.89 L281,465.91 L281.7,465.93 L282.4,465.94 L283.1,465.96 L283.8,465.97 L284.5,465.99 L285.2,466 L285.9,466.02 L286.6,466.03 L287.3,466.04 L288,466.05 L288.7,466.07 L289.4,466.08 L290.1,466.09 L290.8,466.1 L291.5,466.11 L292.2,466.13 L292.9,466.14 L293.6,466.15 L294.3,466.16 L295,466.17 L295.7,466.18 L296.4,466.19 L297.1,466.2 L297.8,466.21 L298.5,466.22 L299.2,466.23 L299.9,466.24 L300.6,466.25 L301.3,466.26 L302,466.27 L302.7,466.28 L303.4,466.29 L304.1,466.3 L304.8,466.31 L305.5,466.32 L306.2,466.33 L306.9,466.34 L307.6,466.35 L308.3,466.36 L309,466.37 L309.7,466.38 L310.4,466.39 L311.1,466.4 L311.8,466.41 L312.5,466.42 L313.2,466.42 L313.9,466.43 L314.6,466.44 L315.3,466.45 L316,466.46 L316.7,466.47 L317.4,466.48 L318.1,466.49" fill="none" stroke="#f08090" stroke-width="1.0" stroke-linejoin="round"/>
<path d="M25.5,463.71 L26.2,463.72 L26.9,463.73 L27.6,463.74 L28.3,463.74 L29,463.75 L29.7,463.76 L30.4,463.77 L31.1,463.78 L31.8,463.79 L32.5,463.8 L33.2,463.81 L33.9,463.82 L34.6,463.83 L35.3,463.84 L36,463.85 L36.7,463.86 L37.4,463.87 L38.1,463.88 L38.8,463.89 L39.5,463.9 L40.2,463.91 L40.9,463.92 L41.6,463.93 L42.3,463.94 L43,463.95 L43.7,463.95 L44.4,463.96 L45.1,463.97 L45.8,463.98 L46.5,463.99 L47.2,464 L47.9,464.01 L48.6,464.02 L49.3,464.03 L50,464.04 L50.7,464.05 L51.4,464.06 L52.1,464.07 L52.8,464.08 L53.5,464.09 L54.2,464.1 L54.9,464.11 L55.6,464.12 L56.3,464.13 L57,464.14 L57.7,464.15 L58.4,464.15 L59.1,464.16 L59.8,464.17 L60.5,464.18 L61.2,464.19 L61.9,464.2 L62.6,464.21 L63.3,464.22 L64,464.23 L64.7,464.24 L65.4,464.25 L66.1,464.26 L66.8,464.27 L67.5,464.28 L68.2,464.29 L68.9,464.3 L69.6,464.31 L70.3,464.32 L71,464.33 L71.7,464.34 L72.4,464.35 L73.1,464.35 L73.8,464.36 L74.5,464.37 L75.2,464.38 L75.9,464.39 L76.6,464.4 L77.3,464.41 L78,464.42 L78.7,464.43 L79.4,464.44 L80.1,464.45 L80.8,464.46 L81.5,464.47 L82.2,464.48 L82.9,464.49 L83.6,464.5 L84.3,464.51 L85,464.51 L85.7,464.52 L86.4,464.53 L87.1,464.54 L87.8,464.55 L88.5,464.56 L89.2,464.57 L89.9,464.58 L90.6,464.59 L91.3,464.6 L92,464.6 L92.7,464.61 L93.4,464.62 L94.1,464.63 L94.8,464.64 L95.5,464.65 L96.2,464.65 L96.9,464.66 L97.6,464.67 L98.3,464.68 L99,464.68 L99.7,464.69 L100.4,464.7 L101.1,464.7 L101.8,464.71 L102.5,464.71 L103.2,464.72 L103.9,464.72 L104.6,464.73 L105.3,464.73 L106,464.73 L106.7,464.73 L107.4,464.73 L108.1,464.73 L108.8,464.73 L109.5,464.73 L110.2,464.73 L110.9,464.73 L111.6,464.72 L112.3,464.71 L113,464.71 L113.7,464.7 L114.4,464.68 L115.1,464.67 L115.8,464.66 L116.5,464.64 L117.2,464.62 L117.9,464.6 L118.6,464.57 L119.3,464.55 L120,464.52 L120.7,464.48 L121.4,464.45 L122.1,464.41 L122.8,464.36 L123.5,464.31 L124.2,464.26 L124.9,464.2 L125.6,464.14 L126.3,464.07 L127,464 L127.7,463.92 L128.4,463.83 L129.1,463.74 L129.8,463.64 L130.5,463.54 L131.2,463.43 L131.9,463.31 L132.6,463.18 L133.3,463.04 L134,462.89 L134.7,462.74 L135.4,462.57 L136.1,462.39 L136.8,462.21 L137.5,462.01 L138.2,461.8 L138.9,461.58 L139.6,461.34 L140.3,461.1 L141,460.84 L141.7,460.57 L142.4,460.28 L143.1,459.98 L143.8,459.67 L144.5,459.34 L145.2,458.99 L145.9,458.63 L146.6,458.25 L147.3,457.86 L148,457.45 L148.7,457.03 L149.4,456.59 L150.1,456.13 L150.8,455.66 L151.5,455.16 L152.2,454.66 L152.9,454.13 L153.6,453.59 L154.3,453.03 L155,452.45 L155.7,451.86 L156.4,451.26 L157.1,450.63 L157.8,449.99 L158.5,449.34 L159.2,448.67 L159.9,447.99 L160.6,447.29 L161.3,446.59 L162,445.87 L162.7,445.13 L163.4,444.39 L164.1,443.64 L164.8,442.88 L165.5,442.11 L166.2,441.34 L166.9,440.56 L167.6,439.77 L168.3,438.99 L169,438.2 L169.7,437.41 L170.4,436.62 L171.1,435.83 L171.8,435.05 L172.5,434.27 L173.2,433.49 L173.9,432.73 L174.6,431.97 L175.3,431.22 L176,430.49 L176.7,429.77 L177.4,429.06 L178.1,428.37 L178.8,427.7 L179.5,427.05 L180.2,426.42 L180.9,425.81 L181.6,425.23 L182.3,424.67 L183,424.13 L183.7,423.62 L184.4,423.14 L185.1,422.69 L185.8,422.27 L186.5,421.88 L187.2,421.52 L187.9,421.2 L188.6,420.9 L189.3,420.64 L190,420.41 L190.7,420.21 L191.4,420.05 L192.1,419.91 L192.8,419.81 L193.5,419.74 L194.2,419.7 L194.9,419.68 L195.6,419.7 L196.3,419.74 L197,419.8 L197.7,419.89 L198.4,420 L199.1,420.12 L199.8,420.26 L200.5,420.42 L201.2,420.58 L201.9,420.75 L202.6,420.91 L203.3,421.08 L204,421.24 L204.7,421.39 L205.4,421.52 L206.1,421.62 L206.8,421.69 L207.5,421.72 L208.2,421.7 L208.9,421.63 L209.6,421.5 L210.3,421.29 L211,421.01 L211.7,420.64 L212.4,420.17 L213.1,419.6 L213.8,418.93 L214.5,418.15 L215.2,417.26 L215.9,416.26 L216.6,415.16 L217.3,413.97 L218,412.68 L218.7,411.32 L219.4,409.9 L220.1,408.44 L220.8,406.96 L221.5,405.49 L222.2,404.04 L222.9,402.66 L223.6,401.36 L224.3,400.17 L225,399.13 L225.7,398.25 L226.4,397.57 L227.1,397.11 L227.8,396.89 L228.5,396.93 L229.2,397.23 L229.9,397.8 L230.6,398.65 L231.3,399.77 L232,401.15 L232.7,402.8 L233.4,404.68 L234.1,406.77 L234.8,409.07 L235.5,411.53 L236.2,414.13 L236.9,416.84 L237.6,419.63 L238.3,422.47 L239,425.33 L239.7,428.18 L240.4,431 L241.1,433.76 L241.8,436.44 L242.5,439.02 L243.2,441.49 L243.9,443.83 L244.6,446.04 L245.3,448.1 L246,450.02 L246.7,451.8 L247.4,453.42 L248.1,454.91 L248.8,456.26 L249.5,457.48 L250.2,458.57 L250.9,459.55 L251.6,460.42 L252.3,461.2 L253,461.88 L253.7,462.48 L254.4,463.01 L255.1,463.47 L255.8,463.88 L256.5,464.23 L257.2,464.54 L257.9,464.81 L258.6,465.05 L259.3,465.26 L260,465.44 L260.7,465.6 L261.4,465.74 L262.1,465.87 L262.8,465.98 L263.5,466.08 L264.2,466.17 L264.9,466.26 L265.6,466.33 L266.3,466.4 L267,466.46 L267.7,466.52 L268.4,466.57 L269.1,466.62 L269.8,466.67 L270.5,466.71 L271.2,466.75 L271.9,466.78 L272.6,466.82 L273.3,466.85 L274,466.88 L274.7,466.91 L275.4,466.94 L276.1,466.96 L276.8,466.99 L277.5,467.01 L278.2,467.03 L278.9,467.05 L279.6,467.07 L280.3,467.09 L281,467.11 L281.7,467.13 L282.4,467.14 L283.1,467.16 L283.8,467.17 L284.5,467.19 L285.2,467.2 L285.9,467.22 L286.6,467.23 L287.3,467.24 L288,467.25 L288.7,467.27 L289.4,467.28 L290.1,467.29 L290.8,467.3 L291.5,467.31 L292.2,467.33 L292.9,467.34 L293.6,467.35 L294.3,467.36 L295,467.37 L295.7,467.38 L296.4,467.39 L297.1,467.4 L297.8,467.41 L298.5,467.42 L299.2,467.43 L299.9,467.44 L300.6,467.45 L301.3,467.46 L302,467.47 L302.7,467.48 L303.4,467.49 L304.1,467.5 L304.8,467.51 L305.5,467.52 L306.2,467.53 L306.9,467.54 L307.6,467.55 L308.3,467.56 L309,467.57 L309.7,467.58 L310.4,467.59 L311.1,467.6 L311.8,467.61 L312.5,467.62 L313.2,467.62 L313.9,467.63 L314.6,467.64 L315.3,467.65 L316,467.66 L316.7,467.67 L317.4,467.68 L318.1,467.69" fill="none" stroke="#e43c4c" stroke-width="1.7" stroke-linejoin="round"/>
<path d="M25.5,542.51 L26.2,542.51 L26.9,542.52 L27.6,542.53 L28.3,542.53 L29,542.54 L29.7,542.55 L30.4,542.56 L31.1,542.56 L31.8,542.57 L32.5,542.58 L33.2,542.58 L33.9,542.59 L34.6,542.6 L35.3,542.61 L36,542.61 L36.7,542.62 L37.4,542.63 L38.1,542.63 L38.8,542.64 L39.5,542.65 L40.2,542.66 L40.9,542.66 L41.6,542.67 L42.3,542.68 L43,542.68 L43.7,542.69 L44.4,542.7 L45.1,542.71 L45.8,542.71 L46.5,542.72 L47.2,542.73 L47.9,542.73 L48.6,542.74 L49.3,542.75 L50,542.76 L50.7,542.76 L51.4,542.77 L52.1,542.78 L52.8,542.78 L53.5,542.79 L54.2,542.8 L54.9,542.81 L55.6,542.81 L56.3,542.82 L57,542.83 L57.7,542.83 L58.4,542.84 L59.1,542.85 L59.8,542.86 L60.5,542.86 L61.2,542.87 L61.9,542.88 L62.6,542.88 L63.3,542.89 L64,542.9 L64.7,542.91 L65.4,542.91 L66.1,542.92 L66.8,542.93 L67.5,542.93 L68.2,542.94 L68.9,542.95 L69.6,542.96 L70.3,542.96 L71,542.97 L71.7,542.98 L72.4,542.98 L73.1,542.99 L73.8,543 L74.5,543.01 L75.2,543.01 L75.9,543.02 L76.6,543.03 L77.3,543.03 L78,543.04 L78.7,543.05 L79.4,543.06 L80.1,543.06 L80.8,543.07 L81.5,543.08 L82.2,543.08 L82.9,543.09 L83.6,543.1 L84.3,543.11 L85,543.11 L85.7,543.12 L86.4,543.13 L87.1,543.13 L87.8,543.14 L88.5,543.15 L89.2,543.16 L89.9,543.16 L90.6,543.17 L91.3,543.18 L92,543.18 L92.7,543.19 L93.4,543.2 L94.1,543.21 L94.8,543.21 L95.5,543.22 L96.2,543.23 L96.9,543.23 L97.6,543.24 L98.3,543.25 L99,543.26 L99.7,543.26 L100.4,543.27 L101.1,543.28 L101.8,543.28 L102.5,543.29 L103.2,543.3 L103.9,543.31 L104.6,543.31 L105.3,543.32 L106,543.33 L106.7,543.33 L107.4,543.34 L108.1,543.35 L108.8,543.36 L109.5,543.36 L110.2,543.37 L110.9,543.38 L111.6,543.38 L112.3,543.39 L113,543.4 L113.7,543.41 L114.4,543.41 L115.1,543.42 L115.8,543.43 L116.5,543.43 L117.2,543.44 L117.9,543.45 L118.6,543.46 L119.3,543.46 L120,543.47 L120.7,543.48 L121.4,543.48 L122.1,543.49 L122.8,543.5 L123.5,543.51 L124.2,543.51 L124.9,543.52 L125.6,543.53 L126.3,543.53 L127,543.54 L127.7,543.55 L128.4,543.56 L129.1,543.56 L129.8,543.57 L130.5,543.58 L131.2,543.58 L131.9,543.59 L132.6,543.6 L133.3,543.61 L134,543.61 L134.7,543.62 L135.4,543.63 L136.1,543.63 L136.8,543.64 L137.5,543.65 L138.2,543.66 L138.9,543.66 L139.6,543.67 L140.3,543.68 L141,543.68 L141.7,543.69 L142.4,543.7 L143.1,543.71 L143.8,543.71 L144.5,543.72 L145.2,543.73 L145.9,543.73 L146.6,543.74 L147.3,543.75 L148,543.76 L148.7,543.76 L149.4,543.77 L150.1,543.78 L150.8,543.78 L151.5,543.79 L152.2,543.8 L152.9,543.81 L153.6,543.81 L154.3,543.82 L155,543.83 L155.7,543.84 L156.4,543.84 L157.1,543.85 L157.8,543.86 L158.5,543.86 L159.2,543.87 L159.9,543.88 L160.6,543.89 L161.3,543.89 L162,543.9 L162.7,543.91 L163.4,543.91 L164.1,543.92 L164.8,543.93 L165.5,543.94 L166.2,543.94 L166.9,543.95 L167.6,543.96 L168.3,543.96 L169,543.97 L169.7,543.98 L170.4,543.99 L171.1,543.99 L171.8,544 L172.5,544.01 L173.2,544.01 L173.9,544.02 L174.6,544.03 L175.3,544.04 L176,544.04 L176.7,544.05 L177.4,544.06 L178.1,544.06 L178.8,544.07 L179.5,544.08 L180.2,544.09 L180.9,544.09 L181.6,544.1 L182.3,544.11 L183,544.11 L183.7,544.12 L184.4,544.13 L185.1,544.14 L185.8,544.14 L186.5,544.15 L187.2,544.16 L187.9,544.16 L188.6,544.17 L189.3,544.18 L190,544.19 L190.7,544.19 L191.4,544.2 L192.1,544.21 L192.8,544.21 L193.5,544.22 L194.2,544.22 L194.9,544.23 L195.6,544.23 L196.3,544.24 L197,544.24 L197.7,544.24 L198.4,544.24 L199.1,544.23 L199.8,544.22 L200.5,544.21 L201.2,544.19 L201.9,544.16 L202.6,544.12 L203.3,544.07 L204,544 L204.7,543.92 L205.4,543.81 L206.1,543.68 L206.8,543.51 L207.5,543.32 L208.2,543.08 L208.9,542.8 L209.6,542.48 L210.3,542.1 L211,541.68 L211.7,541.19 L212.4,540.65 L213.1,540.05 L213.8,539.4 L214.5,538.69 L215.2,537.94 L215.9,537.15 L216.6,536.33 L217.3,535.5 L218,534.65 L218.7,533.82 L219.4,533.01 L220.1,532.25 L220.8,531.54 L221.5,530.9 L222.2,530.35 L222.9,529.9 L223.6,529.56 L224.3,529.34 L225,529.25 L225.7,529.28 L226.4,529.44 L227.1,529.73 L227.8,530.13 L228.5,530.64 L229.2,531.24 L229.9,531.93 L230.6,532.68 L231.3,533.48 L232,534.31 L232.7,535.17 L233.4,536.02 L234.1,536.87 L234.8,537.69 L235.5,538.48 L236.2,539.22 L236.9,539.92 L237.6,540.57 L238.3,541.16 L239,541.69 L239.7,542.16 L240.4,542.58 L241.1,542.95 L241.8,543.27 L242.5,543.54 L243.2,543.77 L243.9,543.97 L244.6,544.13 L245.3,544.27 L246,544.38 L246.7,544.47 L247.4,544.55 L248.1,544.61 L248.8,544.66 L249.5,544.7 L250.2,544.73 L250.9,544.75 L251.6,544.78 L252.3,544.79 L253,544.81 L253.7,544.82 L254.4,544.83 L255.1,544.84 L255.8,544.85 L256.5,544.86 L257.2,544.87 L257.9,544.88 L258.6,544.89 L259.3,544.89 L260,544.9 L260.7,544.91 L261.4,544.91 L262.1,544.92 L262.8,544.93 L263.5,544.94 L264.2,544.94 L264.9,544.95 L265.6,544.96 L266.3,544.96 L267,544.97 L267.7,544.98 L268.4,544.99 L269.1,544.99 L269.8,545 L270.5,545.01 L271.2,545.01 L271.9,545.02 L272.6,545.03 L273.3,545.04 L274,545.04 L274.7,545.05 L275.4,545.06 L276.1,545.06 L276.8,545.07 L277.5,545.08 L278.2,545.09 L278.9,545.09 L279.6,545.1 L280.3,545.11 L281,545.11 L281.7,545.12 L282.4,545.13 L283.1,545.14 L283.8,545.14 L284.5,545.15 L285.2,545.16 L285.9,545.16 L286.6,545.17 L287.3,545.18 L288,545.19 L288.7,545.19 L289.4,545.2 L290.1,545.21 L290.8,545.22 L291.5,545.22 L292.2,545.23 L292.9,545.24 L293.6,545.24 L294.3,545.25 L295,545.26 L295.7,545.27 L296.4,545.27 L297.1,545.28 L297.8,545.29 L298.5,545.29 L299.2,545.3 L299.9,545.31 L300.6,545.32 L301.3,545.32 L302,545.33 L302.7,545.34 L303.4,545.34 L304.1,545.35 L304.8,545.36 L305.5,545.37 L306.2,545.37 L306.9,545.38 L307.6,545.39 L308.3,545.39 L309,545.4 L309.7,545.41 L310.4,545.42 L311.1,545.42 L311.8,545.43 L312.5,545.44 L313.2,545.44 L313.9,545.45 L314.6,545.46 L315.3,545.47 L316,545.47 L316.7,545.48 L317.4,545.49 L318.1,545.49 L318.1,545.49 L25.5,542.51 Z" fill="#faaa5a"/>
<path d="M25.5,542.51 L26.2,542.51 L26.9,542.52 L27.6,542.53 L28.3,542.53 L29,542.54 L29.7,542.55 L30.4,542.56 L31.1,542.56 L31.8,542.57 L32.5,542.58 L33.2,542.58 L33.9,542.59 L34.6,542.6 L35.3,542.61 L36,542.61 L36.7,542.62 L37.4,542.63 L38.1,542.63 L38.8,542.64 L39.5,542.65 L40.2,542.66 L40.9,542.66 L41.6,542.67 L42.3,542.68 L43,542.68 L43.7,542.69 L44.4,542.7 L45.1,542.71 L45.8,542.71 L46.5,542.72 L47.2,542.73 L47.9,542.73 L48.6,542.74 L49.3,542.75 L50,542.76 L50.7,542.76 L51.4,542.77 L52.1,542.78 L52.8,542.78 L53.5,542.79 L54.2,542.8 L54.9,542.81 L55.6,542.81 L56.3,542.82 L57,542.83 L57.7,542.83 L58.4,542.84 L59.1,542.85 L59.8,542.86 L60.5,542.86 L61.2,542.87 L61.9,542.88 L62.6,542.88 L63.3,542.89 L64,542.9 L64.7,542.91 L65.4,542.91 L66.1,542.92 L66.8,542.93 L67.5,542.93 L68.2,542.94 L68.9,542.95 L69.6,542.96 L70.3,542.96 L71,542.97 L71.7,542.98 L72.4,542.98 L73.1,542.99 L73.8,543 L74.5,543.01 L75.2,543.01 L75.9,543.02 L76.6,543.03 L77.3,543.03 L78,543.04 L78.7,543.05 L79.4,543.06 L80.1,543.06 L80.8,543.07 L81.5,543.08 L82.2,543.08 L82.9,543.09 L83.6,543.1 L84.3,543.11 L85,543.11 L85.7,543.12 L86.4,543.13 L87.1,543.13 L87.8,543.14 L88.5,543.15 L89.2,543.16 L89.9,543.16 L90.6,543.17 L91.3,543.18 L92,543.18 L92.7,543.19 L93.4,543.2 L94.1,543.21 L94.8,543.21 L95.5,543.22 L96.2,543.23 L96.9,543.23 L97.6,543.24 L98.3,543.25 L99,543.26 L99.7,543.26 L100.4,543.27 L101.1,543.28 L101.8,543.28 L102.5,543.29 L103.2,543.3 L103.9,543.31 L104.6,543.31 L105.3,543.32 L106,543.33 L106.7,543.33 L107.4,543.34 L108.1,543.35 L108.8,543.36 L109.5,543.36 L110.2,543.37 L110.9,543.38 L111.6,543.38 L112.3,543.39 L113,543.4 L113.7,543.41 L114.4,543.41 L115.1,543.42 L115.8,543.43 L116.5,543.43 L117.2,543.44 L117.9,543.45 L118.6,543.46 L119.3,543.46 L120,543.47 L120.7,543.48 L121.4,543.48 L122.1,543.49 L122.8,543.5 L123.5,543.51 L124.2,543.51 L124.9,543.52 L125.6,543.53 L126.3,543.53 L127,543.54 L127.7,543.55 L128.4,543.56 L129.1,543.56 L129.8,543.57 L130.5,543.58 L131.2,543.58 L131.9,543.59 L132.6,543.6 L133.3,543.61 L134,543.61 L134.7,543.62 L135.4,543.63 L136.1,543.63 L136.8,543.64 L137.5,543.65 L138.2,543.66 L138.9,543.66 L139.6,543.67 L140.3,543.68 L141,543.68 L141.7,543.69 L142.4,543.7 L143.1,543.71 L143.8,543.71 L144.5,543.72 L145.2,543.73 L145.9,543.73 L146.6,543.74 L147.3,543.75 L148,543.76 L148.7,543.76 L149.4,543.77 L150.1,543.78 L150.8,543.78 L151.5,543.79 L152.2,543.8 L152.9,543.81 L153.6,543.81 L154.3,543.82 L155,543.83 L155.7,543.84 L156.4,543.84 L157.1,543.85 L157.8,543.86 L158.5,543.86 L159.2,543.87 L159.9,543.88 L160.6,543.89 L161.3,543.89 L162,543.9 L162.7,543.91 L163.4,543.91 L164.1,543.92 L164.8,543.93 L165.5,543.94 L166.2,543.94 L166.9,543.95 L167.6,543.96 L168.3,543.96 L169,543.97 L169.7,543.98 L170.4,543.99 L171.1,543.99 L171.8,544 L172.5,544.01 L173.2,544.01 L173.9,544.02 L174.6,544.03 L175.3,544.04 L176,544.04 L176.7,544.05 L177.4,544.06 L178.1,544.06 L178.8,544.07 L179.5,544.08 L180.2,544.09 L180.9,544.09 L181.6,544.1 L182.3,544.11 L183,544.11 L183.7,544.12 L184.4,544.13 L185.1,544.14 L185.8,544.14 L186.5,544.15 L187.2,544.16 L187.9,544.16 L188.6,544.17 L189.3,544.18 L190,544.19 L190.7,544.19 L191.4,544.2 L192.1,544.21 L192.8,544.21 L193.5,544.22 L194.2,544.22 L194.9,544.23 L195.6,544.23 L196.3,544.24 L197,544.24 L197.7,544.24 L198.4,544.24 L199.1,544.23 L199.8,544.22 L200.5,544.21 L201.2,544.19 L201.9,544.16 L202.6,544.12 L203.3,544.07 L204,544 L204.7,543.92 L205.4,543.81 L206.1,543.68 L206.8,543.51 L207.5,543.32 L208.2,543.08 L208.9,542.8 L209.6,542.48 L210.3,542.1 L211,541.68 L211.7,541.19 L212.4,540.65 L213.1,540.05 L213.8,539.4 L214.5,538.69 L215.2,537.94 L215.9,537.15 L216.6,536.33 L217.3,535.5 L218,534.65 L218.7,533.82 L219.4,533.01 L220.1,532.25 L220.8,531.54 L221.5,530.9 L222.2,530.35 L222.9,529.9 L223.6,529.56 L224.3,529.34 L225,529.25 L225.7,529.28 L226.4,529.44 L227.1,529.73 L227.8,530.13 L228.5,530.64 L229.2,531.24 L229.9,531.93 L230.6,532.68 L231.3,533.48 L232,534.31 L232.7,535.17 L233.4,536.02 L234.1,536.87 L234.8,537.69 L235.5,538.48 L236.2,539.22 L236.9,539.92 L237.6,540.57 L238.3,541.16 L239,541.69 L239.7,542.16 L240.4,542.58 L241.1,542.95 L241.8,543.27 L242.5,543.54 L243.2,543.77 L243.9,543.97 L244.6,544.13 L245.3,544.27 L246,544.38 L246.7,544.47 L247.4,544.55 L248.1,544.61 L248.8,544.66 L249.5,544.7 L250.2,544.73 L250.9,544.75 L251.6,544.78 L252.3,544.79 L253,544.81 L253.7,544.82 L254.4,544.83 L255.1,544.84 L255.8,544.85 L256.5,544.86 L257.2,544.87 L257.9,544.88 L258.6,544.89 L259.3,544.89 L260,544.9 L260.7,544.91 L261.4,544.91 L262.1,544.92 L262.8,544.93 L263.5,544.94 L264.2,544.94 L264.9,544.95 L265.6,544.96 L266.3,544.96 L267,544.97 L267.7,544.98 L268.4,544.99 L269.1,544.99 L269.8,545 L270.5,545.01 L271.2,545.01 L271.9,545.02 L272.6,545.03 L273.3,545.04 L274,545.04 L274.7,545.05 L275.4,545.06 L276.1,545.06 L276.8,545.07 L277.5,545.08 L278.2,545.09 L278.9,545.09 L279.6,545.1 L280.3,545.11 L281,545.11 L281.7,545.12 L282.4,545.13 L283.1,545.14 L283.8,545.14 L284.5,545.15 L285.2,545.16 L285.9,545.16 L286.6,545.17 L287.3,545.18 L288,545.19 L288.7,545.19 L289.4,545.2 L290.1,545.21 L290.8,545.22 L291.5,545.22 L292.2,545.23 L292.9,545.24 L293.6,545.24 L294.3,545.25 L295,545.26 L295.7,545.27 L296.4,545.27 L297.1,545.28 L297.8,545.29 L298.5,545.29 L299.2,545.3 L299.9,545.31 L300.6,545.32 L301.3,545.32 L302,545.33 L302.7,545.34 L303.4,545.34 L304.1,545.35 L304.8,545.36 L305.5,545.37 L306.2,545.37 L306.9,545.38 L307.6,545.39 L308.3,545.39 L309,545.4 L309.7,545.41 L310.4,545.42 L311.1,545.42 L311.8,545.43 L312.5,545.44 L313.2,545.44 L313.9,545.45 L314.6,545.46 L315.3,545.47 L316,545.47 L316.7,545.48 L317.4,545.49 L318.1,545.49" fill="none" stroke="#ff8a10" stroke-width="1.5"/>
<path d="M25.5,542.51 L26.2,542.51 L26.9,542.52 L27.6,542.53 L28.3,542.53 L29,542.54 L29.7,542.55 L30.4,542.56 L31.1,542.56 L31.8,542.57 L32.5,542.58 L33.2,542.58 L33.9,542.59 L34.6,542.6 L35.3,542.61 L36,542.61 L36.7,542.62 L37.4,542.63 L38.1,542.63 L38.8,542.64 L39.5,542.65 L40.2,542.66 L40.9,542.66 L41.6,542.67 L42.3,542.68 L43,542.68 L43.7,542.69 L44.4,542.7 L45.1,542.71 L45.8,542.71 L46.5,542.72 L47.2,542.73 L47.9,542.73 L48.6,542.74 L49.3,542.75 L50,542.76 L50.7,542.76 L51.4,542.77 L52.1,542.78 L52.8,542.78 L53.5,542.79 L54.2,542.8 L54.9,542.81 L55.6,542.81 L56.3,542.82 L57,542.83 L57.7,542.83 L58.4,542.84 L59.1,542.85 L59.8,542.86 L60.5,542.86 L61.2,542.87 L61.9,542.88 L62.6,542.88 L63.3,542.89 L64,542.9 L64.7,542.91 L65.4,542.91 L66.1,542.92 L66.8,542.93 L67.5,542.93 L68.2,542.94 L68.9,542.95 L69.6,542.96 L70.3,542.96 L71,542.97 L71.7,542.98 L72.4,542.98 L73.1,542.99 L73.8,543 L74.5,543.01 L75.2,543.01 L75.9,543.02 L76.6,543.03 L77.3,543.03 L78,543.04 L78.7,543.05 L79.4,543.06 L80.1,543.06 L80.8,543.07 L81.5,543.08 L82.2,543.08 L82.9,543.09 L83.6,543.1 L84.3,543.11 L85,543.11 L85.7,543.12 L86.4,543.13 L87.1,543.13 L87.8,543.14 L88.5,543.15 L89.2,543.16 L89.9,543.16 L90.6,543.17 L91.3,543.18 L92,543.18 L92.7,543.19 L93.4,543.2 L94.1,543.21 L94.8,543.21 L95.5,543.22 L96.2,543.23 L96.9,543.23 L97.6,543.24 L98.3,543.25 L99,543.26 L99.7,543.26 L100.4,543.27 L101.1,543.28 L101.8,543.28 L102.5,543.29 L103.2,543.3 L103.9,543.31 L104.6,543.31 L105.3,543.32 L106,543.33 L106.7,543.33 L107.4,543.34 L108.1,543.35 L108.8,543.35 L109.5,543.36 L110.2,543.37 L110.9,543.37 L111.6,543.38 L112.3,543.38 L113,543.39 L113.7,543.39 L114.4,543.4 L115.1,543.4 L115.8,543.41 L116.5,543.41 L117.2,543.41 L117.9,543.41 L118.6,543.42 L119.3,543.42 L120,543.41 L120.7,543.41 L121.4,543.41 L122.1,543.4 L122.8,543.39 L123.5,543.38 L124.2,543.37 L124.9,543.35 L125.6,543.33 L126.3,543.31 L127,543.28 L127.7,543.25 L128.4,543.21 L129.1,543.17 L129.8,543.12 L130.5,543.06 L131.2,542.99 L131.9,542.92 L132.6,542.83 L133.3,542.73 L134,542.62 L134.7,542.49 L135.4,542.35 L136.1,542.2 L136.8,542.02 L137.5,541.83 L138.2,541.61 L138.9,541.37 L139.6,541.11 L140.3,540.82 L141,540.5 L141.7,540.14 L142.4,539.76 L143.1,539.34 L143.8,538.89 L144.5,538.39 L145.2,537.85 L145.9,537.27 L146.6,536.64 L147.3,535.97 L148,535.24 L148.7,534.47 L149.4,533.63 L150.1,532.75 L150.8,531.81 L151.5,530.8 L152.2,529.74 L152.9,528.62 L153.6,527.44 L154.3,526.2 L155,524.9 L155.7,523.54 L156.4,522.12 L157.1,520.65 L157.8,519.11 L158.5,517.52 L159.2,515.89 L159.9,514.2 L160.6,512.47 L161.3,510.69 L162,508.88 L162.7,507.04 L163.4,505.17 L164.1,503.28 L164.8,501.38 L165.5,499.47 L166.2,497.55 L166.9,495.64 L167.6,493.75 L168.3,491.87 L169,490.03 L169.7,488.22 L170.4,486.45 L171.1,484.74 L171.8,483.09 L172.5,481.5 L173.2,479.99 L173.9,478.57 L174.6,477.23 L175.3,476 L176,474.86 L176.7,473.84 L177.4,472.93 L178.1,472.14 L178.8,471.47 L179.5,470.94 L180.2,470.53 L180.9,470.26 L181.6,470.12 L182.3,470.12 L183,470.25 L183.7,470.52 L184.4,470.92 L185.1,471.45 L185.8,472.11 L186.5,472.9 L187.2,473.81 L187.9,474.83 L188.6,475.96 L189.3,477.2 L190,478.53 L190.7,479.96 L191.4,481.47 L192.1,483.06 L192.8,484.72 L193.5,486.44 L194.2,488.21 L194.9,490.03 L195.6,491.89 L196.3,493.77 L197,495.68 L197.7,497.6 L198.4,499.53 L199.1,501.45 L199.8,503.37 L200.5,505.28 L201.2,507.17 L201.9,509.03 L202.6,510.86 L203.3,512.65 L204,514.4 L204.7,516.11 L205.4,517.77 L206.1,519.38 L206.8,520.94 L207.5,522.44 L208.2,523.88 L208.9,525.26 L209.6,526.59 L210.3,527.85 L211,529.05 L211.7,530.19 L212.4,531.28 L213.1,532.3 L213.8,533.27 L214.5,534.17 L215.2,535.03 L215.9,535.83 L216.6,536.57 L217.3,537.27 L218,537.92 L218.7,538.52 L219.4,539.08 L220.1,539.6 L220.8,540.07 L221.5,540.51 L222.2,540.91 L222.9,541.28 L223.6,541.62 L224.3,541.93 L225,542.21 L225.7,542.47 L226.4,542.7 L227.1,542.92 L227.8,543.11 L228.5,543.28 L229.2,543.44 L229.9,543.58 L230.6,543.71 L231.3,543.82 L232,543.93 L232.7,544.02 L233.4,544.1 L234.1,544.17 L234.8,544.24 L235.5,544.3 L236.2,544.35 L236.9,544.4 L237.6,544.44 L238.3,544.48 L239,544.52 L239.7,544.55 L240.4,544.57 L241.1,544.6 L241.8,544.62 L242.5,544.64 L243.2,544.66 L243.9,544.68 L244.6,544.69 L245.3,544.71 L246,544.72 L246.7,544.74 L247.4,544.75 L248.1,544.76 L248.8,544.77 L249.5,544.78 L250.2,544.79 L250.9,544.8 L251.6,544.81 L252.3,544.81 L253,544.82 L253.7,544.83 L254.4,544.84 L255.1,544.85 L255.8,544.85 L256.5,544.86 L257.2,544.87 L257.9,544.88 L258.6,544.88 L259.3,544.89 L260,544.9 L260.7,544.91 L261.4,544.91 L262.1,544.92 L262.8,544.93 L263.5,544.94 L264.2,544.94 L264.9,544.95 L265.6,544.96 L266.3,544.96 L267,544.97 L267.7,544.98 L268.4,544.99 L269.1,544.99 L269.8,545 L270.5,545.01 L271.2,545.01 L271.9,545.02 L272.6,545.03 L273.3,545.04 L274,545.04 L274.7,545.05 L275.4,545.06 L276.1,545.06 L276.8,545.07 L277.5,545.08 L278.2,545.09 L278.9,545.09 L279.6,545.1 L280.3,545.11 L281,545.11 L281.7,545.12 L282.4,545.13 L283.1,545.14 L283.8,545.14 L284.5,545.15 L285.2,545.16 L285.9,545.16 L286.6,545.17 L287.3,545.18 L288,545.19 L288.7,545.19 L289.4,545.2 L290.1,545.21 L290.8,545.22 L291.5,545.22 L292.2,545.23 L292.9,545.24 L293.6,545.24 L294.3,545.25 L295,545.26 L295.7,545.27 L296.4,545.27 L297.1,545.28 L297.8,545.29 L298.5,545.29 L299.2,545.3 L299.9,545.31 L300.6,545.32 L301.3,545.32 L302,545.33 L302.7,545.34 L303.4,545.34 L304.1,545.35 L304.8,545.36 L305.5,545.37 L306.2,545.37 L306.9,545.38 L307.6,545.39 L308.3,545.39 L309,545.4 L309.7,545.41 L310.4,545.42 L311.1,545.42 L311.8,545.43 L312.5,545.44 L313.2,545.44 L313.9,545.45 L314.6,545.46 L315.3,545.47 L316,545.47 L316.7,545.48 L317.4,545.49 L318.1,545.49 L318.1,545.49 L25.5,542.51 Z" fill="#734fa7" fill-opacity="0.68"/>
<path d="M25.5,542.51 L26.2,542.51 L26.9,542.52 L27.6,542.53 L28.3,542.53 L29,542.54 L29.7,542.55 L30.4,542.56 L31.1,542.56 L31.8,542.57 L32.5,542.58 L33.2,542.58 L33.9,542.59 L34.6,542.6 L35.3,542.61 L36,542.61 L36.7,542.62 L37.4,542.63 L38.1,542.63 L38.8,542.64 L39.5,542.65 L40.2,542.66 L40.9,542.66 L41.6,542.67 L42.3,542.68 L43,542.68 L43.7,542.69 L44.4,542.7 L45.1,542.71 L45.8,542.71 L46.5,542.72 L47.2,542.73 L47.9,542.73 L48.6,542.74 L49.3,542.75 L50,542.76 L50.7,542.76 L51.4,542.77 L52.1,542.78 L52.8,542.78 L53.5,542.79 L54.2,542.8 L54.9,542.81 L55.6,542.81 L56.3,542.82 L57,542.83 L57.7,542.83 L58.4,542.84 L59.1,542.85 L59.8,542.86 L60.5,542.86 L61.2,542.87 L61.9,542.88 L62.6,542.88 L63.3,542.89 L64,542.9 L64.7,542.91 L65.4,542.91 L66.1,542.92 L66.8,542.93 L67.5,542.93 L68.2,542.94 L68.9,542.95 L69.6,542.96 L70.3,542.96 L71,542.97 L71.7,542.98 L72.4,542.98 L73.1,542.99 L73.8,543 L74.5,543.01 L75.2,543.01 L75.9,543.02 L76.6,543.03 L77.3,543.03 L78,543.04 L78.7,543.05 L79.4,543.06 L80.1,543.06 L80.8,543.07 L81.5,543.08 L82.2,543.08 L82.9,543.09 L83.6,543.1 L84.3,543.11 L85,543.11 L85.7,543.12 L86.4,543.13 L87.1,543.13 L87.8,543.14 L88.5,543.15 L89.2,543.16 L89.9,543.16 L90.6,543.17 L91.3,543.18 L92,543.18 L92.7,543.19 L93.4,543.2 L94.1,543.21 L94.8,543.21 L95.5,543.22 L96.2,543.23 L96.9,543.23 L97.6,543.24 L98.3,543.25 L99,543.26 L99.7,543.26 L100.4,543.27 L101.1,543.28 L101.8,543.28 L102.5,543.29 L103.2,543.3 L103.9,543.31 L104.6,543.31 L105.3,543.32 L106,543.33 L106.7,543.33 L107.4,543.34 L108.1,543.35 L108.8,543.35 L109.5,543.36 L110.2,543.37 L110.9,543.37 L111.6,543.38 L112.3,543.38 L113,543.39 L113.7,543.39 L114.4,543.4 L115.1,543.4 L115.8,543.41 L116.5,543.41 L117.2,543.41 L117.9,543.41 L118.6,543.42 L119.3,543.42 L120,543.41 L120.7,543.41 L121.4,543.41 L122.1,543.4 L122.8,543.39 L123.5,543.38 L124.2,543.37 L124.9,543.35 L125.6,543.33 L126.3,543.31 L127,543.28 L127.7,543.25 L128.4,543.21 L129.1,543.17 L129.8,543.12 L130.5,543.06 L131.2,542.99 L131.9,542.92 L132.6,542.83 L133.3,542.73 L134,542.62 L134.7,542.49 L135.4,542.35 L136.1,542.2 L136.8,542.02 L137.5,541.83 L138.2,541.61 L138.9,541.37 L139.6,541.11 L140.3,540.82 L141,540.5 L141.7,540.14 L142.4,539.76 L143.1,539.34 L143.8,538.89 L144.5,538.39 L145.2,537.85 L145.9,537.27 L146.6,536.64 L147.3,535.97 L148,535.24 L148.7,534.47 L149.4,533.63 L150.1,532.75 L150.8,531.81 L151.5,530.8 L152.2,529.74 L152.9,528.62 L153.6,527.44 L154.3,526.2 L155,524.9 L155.7,523.54 L156.4,522.12 L157.1,520.65 L157.8,519.11 L158.5,517.52 L159.2,515.89 L159.9,514.2 L160.6,512.47 L161.3,510.69 L162,508.88 L162.7,507.04 L163.4,505.17 L164.1,503.28 L164.8,501.38 L165.5,499.47 L166.2,497.55 L166.9,495.64 L167.6,493.75 L168.3,491.87 L169,490.03 L169.7,488.22 L170.4,486.45 L171.1,484.74 L171.8,483.09 L172.5,481.5 L173.2,479.99 L173.9,478.57 L174.6,477.23 L175.3,476 L176,474.86 L176.7,473.84 L177.4,472.93 L178.1,472.14 L178.8,471.47 L179.5,470.94 L180.2,470.53 L180.9,470.26 L181.6,470.12 L182.3,470.12 L183,470.25 L183.7,470.52 L184.4,470.92 L185.1,471.45 L185.8,472.11 L186.5,472.9 L187.2,473.81 L187.9,474.83 L188.6,475.96 L189.3,477.2 L190,478.53 L190.7,479.96 L191.4,481.47 L192.1,483.06 L192.8,484.72 L193.5,486.44 L194.2,488.21 L194.9,490.03 L195.6,491.89 L196.3,493.77 L197,495.68 L197.7,497.6 L198.4,499.53 L199.1,501.45 L199.8,503.37 L200.5,505.28 L201.2,507.17 L201.9,509.03 L202.6,510.86 L203.3,512.65 L204,514.4 L204.7,516.11 L205.4,517.77 L206.1,519.38 L206.8,520.94 L207.5,522.44 L208.2,523.88 L208.9,525.26 L209.6,526.59 L210.3,527.85 L211,529.05 L211.7,530.19 L212.4,531.28 L213.1,532.3 L213.8,533.27 L214.5,534.17 L215.2,535.03 L215.9,535.83 L216.6,536.57 L217.3,537.27 L218,537.92 L218.7,538.52 L219.4,539.08 L220.1,539.6 L220.8,540.07 L221.5,540.51 L222.2,540.91 L222.9,541.28 L223.6,541.62 L224.3,541.93 L225,542.21 L225.7,542.47 L226.4,542.7 L227.1,542.92 L227.8,543.11 L228.5,543.28 L229.2,543.44 L229.9,543.58 L230.6,543.71 L231.3,543.82 L232,543.93 L232.7,544.02 L233.4,544.1 L234.1,544.17 L234.8,544.24 L235.5,544.3 L236.2,544.35 L236.9,544.4 L237.6,544.44 L238.3,544.48 L239,544.52 L239.7,544.55 L240.4,544.57 L241.1,544.6 L241.8,544.62 L242.5,544.64 L243.2,544.66 L243.9,544.68 L244.6,544.69 L245.3,544.71 L246,544.72 L246.7,544.74 L247.4,544.75 L248.1,544.76 L248.8,544.77 L249.5,544.78 L250.2,544.79 L250.9,544.8 L251.6,544.81 L252.3,544.81 L253,544.82 L253.7,544.83 L254.4,544.84 L255.1,544.85 L255.8,544.85 L256.5,544.86 L257.2,544.87 L257.9,544.88 L258.6,544.88 L259.3,544.89 L260,544.9 L260.7,544.91 L261.4,544.91 L262.1,544.92 L262.8,544.93 L263.5,544.94 L264.2,544.94 L264.9,544.95 L265.6,544.96 L266.3,544.96 L267,544.97 L267.7,544.98 L268.4,544.99 L269.1,544.99 L269.8,545 L270.5,545.01 L271.2,545.01 L271.9,545.02 L272.6,545.03 L273.3,545.04 L274,545.04 L274.7,545.05 L275.4,545.06 L276.1,545.06 L276.8,545.07 L277.5,545.08 L278.2,545.09 L278.9,545.09 L279.6,545.1 L280.3,545.11 L281,545.11 L281.7,545.12 L282.4,545.13 L283.1,545.14 L283.8,545.14 L284.5,545.15 L285.2,545.16 L285.9,545.16 L286.6,545.17 L287.3,545.18 L288,545.19 L288.7,545.19 L289.4,545.2 L290.1,545.21 L290.8,545.22 L291.5,545.22 L292.2,545.23 L292.9,545.24 L293.6,545.24 L294.3,545.25 L295,545.26 L295.7,545.27 L296.4,545.27 L297.1,545.28 L297.8,545.29 L298.5,545.29 L299.2,545.3 L299.9,545.31 L300.6,545.32 L301.3,545.32 L302,545.33 L302.7,545.34 L303.4,545.34 L304.1,545.35 L304.8,545.36 L305.5,545.37 L306.2,545.37 L306.9,545.38 L307.6,545.39 L308.3,545.39 L309,545.4 L309.7,545.41 L310.4,545.42 L311.1,545.42 L311.8,545.43 L312.5,545.44 L313.2,545.44 L313.9,545.45 L314.6,545.46 L315.3,545.47 L316,545.47 L316.7,545.48 L317.4,545.49 L318.1,545.49" fill="none" stroke="#6436b0" stroke-width="1.4"/>
<path d="M25.5,542.81 L26.2,542.81 L26.9,542.82 L27.6,542.83 L28.3,542.83 L29,542.84 L29.7,542.85 L30.4,542.86 L31.1,542.86 L31.8,542.87 L32.5,542.88 L33.2,542.88 L33.9,542.89 L34.6,542.9 L35.3,542.91 L36,542.91 L36.7,542.92 L37.4,542.93 L38.1,542.93 L38.8,542.94 L39.5,542.95 L40.2,542.96 L40.9,542.96 L41.6,542.97 L42.3,542.98 L43,542.98 L43.7,542.99 L44.4,543 L45.1,543.01 L45.8,543.01 L46.5,543.02 L47.2,543.03 L47.9,543.03 L48.6,543.04 L49.3,543.05 L50,543.06 L50.7,543.06 L51.4,543.07 L52.1,543.08 L52.8,543.08 L53.5,543.09 L54.2,543.1 L54.9,543.11 L55.6,543.11 L56.3,543.12 L57,543.13 L57.7,543.13 L58.4,543.14 L59.1,543.15 L59.8,543.16 L60.5,543.16 L61.2,543.17 L61.9,543.18 L62.6,543.18 L63.3,543.19 L64,543.2 L64.7,543.21 L65.4,543.21 L66.1,543.22 L66.8,543.23 L67.5,543.23 L68.2,543.24 L68.9,543.25 L69.6,543.26 L70.3,543.26 L71,543.27 L71.7,543.28 L72.4,543.28 L73.1,543.29 L73.8,543.3 L74.5,543.31 L75.2,543.31 L75.9,543.32 L76.6,543.33 L77.3,543.33 L78,543.34 L78.7,543.35 L79.4,543.36 L80.1,543.36 L80.8,543.37 L81.5,543.38 L82.2,543.38 L82.9,543.39 L83.6,543.4 L84.3,543.41 L85,543.41 L85.7,543.42 L86.4,543.43 L87.1,543.43 L87.8,543.44 L88.5,543.45 L89.2,543.46 L89.9,543.46 L90.6,543.47 L91.3,543.48 L92,543.48 L92.7,543.49 L93.4,543.5 L94.1,543.51 L94.8,543.51 L95.5,543.52 L96.2,543.53 L96.9,543.53 L97.6,543.54 L98.3,543.55 L99,543.56 L99.7,543.56 L100.4,543.57 L101.1,543.58 L101.8,543.58 L102.5,543.59 L103.2,543.6 L103.9,543.61 L104.6,543.61 L105.3,543.62 L106,543.63 L106.7,543.63 L107.4,543.64 L108.1,543.65 L108.8,543.66 L109.5,543.66 L110.2,543.67 L110.9,543.68 L111.6,543.68 L112.3,543.69 L113,543.7 L113.7,543.71 L114.4,543.71 L115.1,543.72 L115.8,543.73 L116.5,543.73 L117.2,543.74 L117.9,543.75 L118.6,543.76 L119.3,543.76 L120,543.77 L120.7,543.78 L121.4,543.78 L122.1,543.79 L122.8,543.8 L123.5,543.81 L124.2,543.81 L124.9,543.82 L125.6,543.83 L126.3,543.83 L127,543.84 L127.7,543.85 L128.4,543.86 L129.1,543.86 L129.8,543.87 L130.5,543.88 L131.2,543.88 L131.9,543.89 L132.6,543.9 L133.3,543.91 L134,543.91 L134.7,543.92 L135.4,543.93 L136.1,543.93 L136.8,543.94 L137.5,543.95 L138.2,543.96 L138.9,543.96 L139.6,543.97 L140.3,543.98 L141,543.98 L141.7,543.99 L142.4,544 L143.1,544.01 L143.8,544.01 L144.5,544.02 L145.2,544.03 L145.9,544.03 L146.6,544.04 L147.3,544.05 L148,544.06 L148.7,544.06 L149.4,544.07 L150.1,544.08 L150.8,544.08 L151.5,544.09 L152.2,544.1 L152.9,544.11 L153.6,544.11 L154.3,544.12 L155,544.13 L155.7,544.14 L156.4,544.14 L157.1,544.15 L157.8,544.16 L158.5,544.16 L159.2,544.17 L159.9,544.18 L160.6,544.19 L161.3,544.19 L162,544.2 L162.7,544.21 L163.4,544.21 L164.1,544.22 L164.8,544.23 L165.5,544.24 L166.2,544.24 L166.9,544.25 L167.6,544.26 L168.3,544.26 L169,544.27 L169.7,544.28 L170.4,544.29 L171.1,544.29 L171.8,544.3 L172.5,544.31 L173.2,544.31 L173.9,544.32 L174.6,544.33 L175.3,544.34 L176,544.34 L176.7,544.35 L177.4,544.36 L178.1,544.36 L178.8,544.37 L179.5,544.38 L180.2,544.39 L180.9,544.39 L181.6,544.4 L182.3,544.41 L183,544.41 L183.7,544.42 L184.4,544.43 L185.1,544.44 L185.8,544.44 L186.5,544.45 L187.2,544.46 L187.9,544.46 L188.6,544.47 L189.3,544.48 L190,544.49 L190.7,544.49 L191.4,544.5 L192.1,544.51 L192.8,544.51 L193.5,544.52 L194.2,544.53 L194.9,544.54 L195.6,544.54 L196.3,544.55 L197,544.56 L197.7,544.56 L198.4,544.57 L199.1,544.58 L199.8,544.59 L200.5,544.59 L201.2,544.6 L201.9,544.61 L202.6,544.61 L203.3,544.62 L204,544.63 L204.7,544.64 L205.4,544.64 L206.1,544.65 L206.8,544.66 L207.5,544.66 L208.2,544.67 L208.9,544.68 L209.6,544.69 L210.3,544.69 L211,544.7 L211.7,544.71 L212.4,544.71 L213.1,544.72 L213.8,544.73 L214.5,544.74 L215.2,544.74 L215.9,544.75 L216.6,544.76 L217.3,544.76 L218,544.77 L218.7,544.78 L219.4,544.79 L220.1,544.79 L220.8,544.8 L221.5,544.81 L222.2,544.81 L222.9,544.82 L223.6,544.83 L224.3,544.84 L225,544.84 L225.7,544.85 L226.4,544.86 L227.1,544.86 L227.8,544.87 L228.5,544.88 L229.2,544.89 L229.9,544.89 L230.6,544.9 L231.3,544.91 L232,544.91 L232.7,544.92 L233.4,544.93 L234.1,544.94 L234.8,544.94 L235.5,544.95 L236.2,544.96 L236.9,544.96 L237.6,544.97 L238.3,544.98 L239,544.99 L239.7,544.99 L240.4,545 L241.1,545.01 L241.8,545.01 L242.5,545.02 L243.2,545.03 L243.9,545.04 L244.6,545.04 L245.3,545.05 L246,545.06 L246.7,545.06 L247.4,545.07 L248.1,545.08 L248.8,545.09 L249.5,545.09 L250.2,545.1 L250.9,545.11 L251.6,545.11 L252.3,545.12 L253,545.13 L253.7,545.14 L254.4,545.14 L255.1,545.15 L255.8,545.16 L256.5,545.16 L257.2,545.17 L257.9,545.18 L258.6,545.19 L259.3,545.19 L260,545.2 L260.7,545.21 L261.4,545.21 L262.1,545.22 L262.8,545.23 L263.5,545.24 L264.2,545.24 L264.9,545.25 L265.6,545.26 L266.3,545.26 L267,545.27 L267.7,545.28 L268.4,545.29 L269.1,545.29 L269.8,545.3 L270.5,545.31 L271.2,545.31 L271.9,545.32 L272.6,545.33 L273.3,545.34 L274,545.34 L274.7,545.35 L275.4,545.36 L276.1,545.36 L276.8,545.37 L277.5,545.38 L278.2,545.39 L278.9,545.39 L279.6,545.4 L280.3,545.41 L281,545.41 L281.7,545.42 L282.4,545.43 L283.1,545.44 L283.8,545.44 L284.5,545.45 L285.2,545.46 L285.9,545.46 L286.6,545.47 L287.3,545.48 L288,545.49 L288.7,545.49 L289.4,545.5 L290.1,545.51 L290.8,545.52 L291.5,545.52 L292.2,545.53 L292.9,545.54 L293.6,545.54 L294.3,545.55 L295,545.56 L295.7,545.57 L296.4,545.57 L297.1,545.58 L297.8,545.59 L298.5,545.59 L299.2,545.6 L299.9,545.61 L300.6,545.62 L301.3,545.62 L302,545.63 L302.7,545.64 L303.4,545.64 L304.1,545.65 L304.8,545.66 L305.5,545.67 L306.2,545.67 L306.9,545.68 L307.6,545.69 L308.3,545.69 L309,545.7 L309.7,545.71 L310.4,545.72 L311.1,545.72 L311.8,545.73 L312.5,545.74 L313.2,545.74 L313.9,545.75 L314.6,545.76 L315.3,545.77 L316,545.77 L316.7,545.78 L317.4,545.79 L318.1,545.79" fill="none" stroke="#a05a70" stroke-width="1.0"/>
<path d="M25.5,542.21 L26.2,542.25 L26.9,542.17 L27.6,542.05 L28.3,541.92 L29,542.1 L29.7,542.15 L30.4,542.21 L31.1,542.06 L31.8,541.98 L32.5,542.04 L33.2,542.02 L33.9,542.06 L34.6,541.89 L35.3,541.94 L36,541.86 L36.7,542.02 L37.4,542.09 L38.1,542.03 L38.8,542.11 L39.5,542.08 L40.2,542.13 L40.9,541.97 L41.6,541.89 L42.3,541.99 L43,542.03 L43.7,542.14 L44.4,542.21 L45.1,542.39 L45.8,542.53 L46.5,542.42 L47.2,542.24 L47.9,542.2 L48.6,542.26 L49.3,542.46 L50,542.38 L50.7,542.46 L51.4,542.45 L52.1,542.52 L52.8,542.46 L53.5,542.43 L54.2,542.4 L54.9,542.38 L55.6,542.44 L56.3,542.38 L57,542.52 L57.7,542.43 L58.4,542.57 L59.1,542.42 L59.8,542.41 L60.5,542.51 L61.2,542.5 L61.9,542.42 L62.6,542.18 L63.3,542.19 L64,542.5 L64.7,542.58 L65.4,542.7 L66.1,542.43 L66.8,542.45 L67.5,542.44 L68.2,542.69 L68.9,542.6 L69.6,542.6 L70.3,542.48 L71,542.46 L71.7,542.41 L72.4,542.37 L73.1,542.27 L73.8,542.33 L74.5,542.4 L75.2,542.57 L75.9,542.41 L76.6,542.5 L77.3,542.57 L78,542.78 L78.7,542.78 L79.4,542.72 L80.1,542.71 L80.8,542.57 L81.5,542.62 L82.2,542.55 L82.9,542.58 L83.6,542.69 L84.3,542.71 L85,542.71 L85.7,542.59 L86.4,542.62 L87.1,542.56 L87.8,542.55 L88.5,542.52 L89.2,542.56 L89.9,542.6 L90.6,542.56 L91.3,542.79 L92,542.92 L92.7,543.02 L93.4,542.85 L94.1,542.93 L94.8,542.93 L95.5,542.93 L96.2,542.77 L96.9,542.78 L97.6,542.92 L98.3,542.9 L99,543.06 L99.7,542.87 L100.4,542.94 L101.1,542.67 L101.8,542.91 L102.5,542.83 L103.2,542.92 L103.9,542.85 L104.6,543 L105.3,542.91 L106,542.81 L106.7,542.59 L107.4,542.7 L108.1,542.73 L108.8,542.83 L109.5,542.76 L110.2,542.74 L110.9,542.71 L111.6,542.83 L112.3,543 L113,542.9 L113.7,542.85 L114.4,542.69 L115.1,542.9 L115.8,542.83 L116.5,542.86 L117.2,542.73 L117.9,542.87 L118.6,542.89 L119.3,542.97 L120,542.94 L120.7,542.91 L121.4,542.78 L122.1,542.8 L122.8,542.84 L123.5,542.95 L124.2,542.97 L124.9,543.03 L125.6,542.93 L126.3,542.75 L127,542.75 L127.7,542.94 L128.4,542.9 L129.1,542.62 L129.8,542.39 L130.5,542.35 L131.2,542.24 L131.9,542.22 L132.6,542.06 L133.3,541.98 L134,541.94 L134.7,541.85 L135.4,541.79 L136.1,541.59 L136.8,541.52 L137.5,541.28 L138.2,540.98 L138.9,540.56 L139.6,540.43 L140.3,540.15 L141,539.75 L141.7,539.19 L142.4,538.75 L143.1,538.4 L143.8,538.03 L144.5,537.52 L145.2,536.83 L145.9,536.01 L146.6,535.08 L147.3,534.41 L148,533.64 L148.7,533.16 L149.4,532.27 L150.1,531.15 L150.8,529.89 L151.5,528.88 L152.2,527.89 L152.9,526.76 L153.6,525.56 L154.3,524.49 L155,523.29 L155.7,521.93 L156.4,520.61 L157.1,519.16 L157.8,517.73 L158.5,516.03 L159.2,514.44 L159.9,512.92 L160.6,511.24 L161.3,509.6 L162,507.86 L162.7,506.18 L163.4,504.39 L164.1,502.4 L164.8,500.68 L165.5,498.88 L166.2,497.12 L166.9,494.98 L167.6,492.92 L168.3,491.13 L169,489.6 L169.7,487.92 L170.4,486.19 L171.1,484.29 L171.8,482.6 L172.5,480.91 L173.2,479.5 L173.9,477.96 L174.6,476.71 L175.3,475.55 L176,474.45 L176.7,473.23 L177.4,472.24 L178.1,471.49 L178.8,470.74 L179.5,470.25 L180.2,469.91 L180.9,469.8 L181.6,469.78 L182.3,469.77 L183,469.88 L183.7,469.98 L184.4,470.27 L185.1,470.81 L185.8,471.49 L186.5,472.32 L187.2,473.25 L187.9,474.39 L188.6,475.64 L189.3,476.99 L190,478.22 L190.7,479.62 L191.4,481.19 L192.1,482.73 L192.8,484.5 L193.5,486.01 L194.2,487.76 L194.9,489.3 L195.6,491.21 L196.3,493.15 L197,495.3 L197.7,497.19 L198.4,499.06 L199.1,500.82 L199.8,502.72 L200.5,504.5 L201.2,506.39 L201.9,508.13 L202.6,510.03 L203.3,511.76 L204,513.53 L204.7,515.05 L205.4,516.47 L206.1,518.16 L206.8,519.52 L207.5,521.07 L208.2,522.16 L208.9,523.34 L209.6,524.1 L210.3,525.02 L211,525.97 L211.7,526.64 L212.4,527.06 L213.1,527.41 L213.8,527.83 L214.5,528.22 L215.2,528.18 L215.9,528.2 L216.6,527.84 L217.3,527.92 L218,527.61 L218.7,527.29 L219.4,526.84 L220.1,526.63 L220.8,526.75 L221.5,526.53 L222.2,526.38 L222.9,526.18 L223.6,526.34 L224.3,526.42 L225,526.64 L225.7,526.83 L226.4,527.2 L227.1,527.61 L227.8,528.15 L228.5,528.77 L229.2,529.63 L229.9,530.32 L230.6,531.37 L231.3,532.26 L232,533.3 L232.7,534.07 L233.4,534.9 L234.1,535.86 L234.8,536.87 L235.5,537.76 L236.2,538.6 L236.9,539.22 L237.6,539.9 L238.3,540.3 L239,540.97 L239.7,541.46 L240.4,542 L241.1,542.42 L241.8,542.8 L242.5,542.88 L243.2,543.02 L243.9,543.04 L244.6,543.55 L245.3,543.91 L246,544.11 L246.7,544.12 L247.4,543.96 L248.1,544.1 L248.8,544.2 L249.5,544.38 L250.2,544.3 L250.9,544.41 L251.6,544.24 L252.3,544.37 L253,544.35 L253.7,544.5 L254.4,544.41 L255.1,544.26 L255.8,544.17 L256.5,544.25 L257.2,544.42 L257.9,544.36 L258.6,544.41 L259.3,544.37 L260,544.54 L260.7,544.55 L261.4,544.63 L262.1,544.64 L262.8,544.68 L263.5,544.6 L264.2,544.72 L264.9,544.49 L265.6,544.56 L266.3,544.39 L267,544.54 L267.7,544.35 L268.4,544.22 L269.1,544.21 L269.8,544.25 L270.5,544.46 L271.2,544.37 L271.9,544.56 L272.6,544.55 L273.3,544.66 L274,544.48 L274.7,544.4 L275.4,544.33 L276.1,544.35 L276.8,544.43 L277.5,544.52 L278.2,544.45 L278.9,544.43 L279.6,544.38 L280.3,544.52 L281,544.71 L281.7,544.85 L282.4,544.82 L283.1,544.52 L283.8,544.35 L284.5,544.24 L285.2,544.45 L285.9,544.52 L286.6,544.67 L287.3,544.56 L288,544.65 L288.7,544.77 L289.4,544.77 L290.1,544.74 L290.8,544.56 L291.5,544.7 L292.2,544.65 L292.9,544.63 L293.6,544.44 L294.3,544.41 L295,544.56 L295.7,544.91 L296.4,544.95 L297.1,545 L297.8,544.8 L298.5,544.8 L299.2,544.7 L299.9,544.67 L300.6,544.71 L301.3,544.91 L302,544.77 L302.7,544.87 L303.4,544.74 L304.1,544.86 L304.8,544.85 L305.5,544.9 L306.2,544.97 L306.9,545 L307.6,545 L308.3,544.81 L309,544.91 L309.7,545.06 L310.4,545.33 L311.1,545.29 L311.8,544.98 L312.5,544.89 L313.2,544.74 L313.9,544.82 L314.6,544.92 L315.3,544.93 L316,544.98 L316.7,544.73 L317.4,544.8 L318.1,544.81" fill="none" stroke="#1a2ff0" stroke-width="1.2" stroke-linejoin="round"/>
<path d="M25.5,542.71 L26.2,542.71 L26.9,542.72 L27.6,542.73 L28.3,542.73 L29,542.74 L29.7,542.75 L30.4,542.76 L31.1,542.76 L31.8,542.77 L32.5,542.78 L33.2,542.78 L33.9,542.79 L34.6,542.8 L35.3,542.81 L36,542.81 L36.7,542.82 L37.4,542.83 L38.1,542.83 L38.8,542.84 L39.5,542.85 L40.2,542.86 L40.9,542.86 L41.6,542.87 L42.3,542.88 L43,542.88 L43.7,542.89 L44.4,542.9 L45.1,542.91 L45.8,542.91 L46.5,542.92 L47.2,542.93 L47.9,542.93 L48.6,542.94 L49.3,542.95 L50,542.96 L50.7,542.96 L51.4,542.97 L52.1,542.98 L52.8,542.98 L53.5,542.99 L54.2,543 L54.9,543.01 L55.6,543.01 L56.3,543.02 L57,543.03 L57.7,543.03 L58.4,543.04 L59.1,543.05 L59.8,543.06 L60.5,543.06 L61.2,543.07 L61.9,543.08 L62.6,543.08 L63.3,543.09 L64,543.1 L64.7,543.11 L65.4,543.11 L66.1,543.12 L66.8,543.13 L67.5,543.13 L68.2,543.14 L68.9,543.15 L69.6,543.16 L70.3,543.16 L71,543.17 L71.7,543.18 L72.4,543.18 L73.1,543.19 L73.8,543.2 L74.5,543.21 L75.2,543.21 L75.9,543.22 L76.6,543.23 L77.3,543.23 L78,543.24 L78.7,543.25 L79.4,543.26 L80.1,543.26 L80.8,543.27 L81.5,543.28 L82.2,543.28 L82.9,543.29 L83.6,543.3 L84.3,543.31 L85,543.31 L85.7,543.32 L86.4,543.33 L87.1,543.33 L87.8,543.34 L88.5,543.35 L89.2,543.36 L89.9,543.36 L90.6,543.37 L91.3,543.38 L92,543.38 L92.7,543.39 L93.4,543.4 L94.1,543.41 L94.8,543.41 L95.5,543.42 L96.2,543.43 L96.9,543.43 L97.6,543.44 L98.3,543.45 L99,543.46 L99.7,543.46 L100.4,543.47 L101.1,543.48 L101.8,543.48 L102.5,543.49 L103.2,543.5 L103.9,543.51 L104.6,543.51 L105.3,543.52 L106,543.53 L106.7,543.53 L107.4,543.54 L108.1,543.55 L108.8,543.55 L109.5,543.56 L110.2,543.57 L110.9,543.57 L111.6,543.58 L112.3,543.58 L113,543.59 L113.7,543.59 L114.4,543.6 L115.1,543.6 L115.8,543.61 L116.5,543.61 L117.2,543.61 L117.9,543.61 L118.6,543.62 L119.3,543.62 L120,543.61 L120.7,543.61 L121.4,543.61 L122.1,543.6 L122.8,543.59 L123.5,543.58 L124.2,543.57 L124.9,543.55 L125.6,543.53 L126.3,543.51 L127,543.48 L127.7,543.45 L128.4,543.41 L129.1,543.37 L129.8,543.32 L130.5,543.26 L131.2,543.19 L131.9,543.12 L132.6,543.03 L133.3,542.93 L134,542.82 L134.7,542.69 L135.4,542.55 L136.1,542.4 L136.8,542.22 L137.5,542.03 L138.2,541.81 L138.9,541.57 L139.6,541.31 L140.3,541.02 L141,540.7 L141.7,540.34 L142.4,539.96 L143.1,539.54 L143.8,539.09 L144.5,538.59 L145.2,538.05 L145.9,537.47 L146.6,536.84 L147.3,536.17 L148,535.44 L148.7,534.67 L149.4,533.83 L150.1,532.95 L150.8,532.01 L151.5,531 L152.2,529.94 L152.9,528.82 L153.6,527.64 L154.3,526.4 L155,525.1 L155.7,523.74 L156.4,522.32 L157.1,520.85 L157.8,519.31 L158.5,517.72 L159.2,516.09 L159.9,514.4 L160.6,512.67 L161.3,510.89 L162,509.08 L162.7,507.24 L163.4,505.37 L164.1,503.48 L164.8,501.58 L165.5,499.67 L166.2,497.75 L166.9,495.84 L167.6,493.95 L168.3,492.07 L169,490.23 L169.7,488.42 L170.4,486.65 L171.1,484.94 L171.8,483.29 L172.5,481.7 L173.2,480.19 L173.9,478.77 L174.6,477.43 L175.3,476.2 L176,475.06 L176.7,474.04 L177.4,473.13 L178.1,472.34 L178.8,471.67 L179.5,471.14 L180.2,470.73 L180.9,470.46 L181.6,470.32 L182.3,470.32 L183,470.45 L183.7,470.72 L184.4,471.12 L185.1,471.65 L185.8,472.31 L186.5,473.1 L187.2,474.01 L187.9,475.03 L188.6,476.16 L189.3,477.4 L190,478.73 L190.7,480.16 L191.4,481.67 L192.1,483.26 L192.8,484.92 L193.5,486.64 L194.2,488.41 L194.9,490.22 L195.6,492.08 L196.3,493.96 L197,495.86 L197.7,497.78 L198.4,499.69 L199.1,501.61 L199.8,503.51 L200.5,505.4 L201.2,507.26 L201.9,509.08 L202.6,510.86 L203.3,512.6 L204,514.28 L204.7,515.89 L205.4,517.44 L206.1,518.91 L206.8,520.29 L207.5,521.59 L208.2,522.79 L208.9,523.89 L209.6,524.88 L210.3,525.76 L211,526.53 L211.7,527.18 L212.4,527.71 L213.1,528.13 L213.8,528.43 L214.5,528.63 L215.2,528.73 L215.9,528.73 L216.6,528.65 L217.3,528.5 L218,528.3 L218.7,528.06 L219.4,527.81 L220.1,527.55 L220.8,527.31 L221.5,527.1 L222.2,526.95 L222.9,526.86 L223.6,526.85 L224.3,526.94 L225,527.12 L225.7,527.4 L226.4,527.79 L227.1,528.28 L227.8,528.87 L228.5,529.54 L229.2,530.3 L229.9,531.12 L230.6,531.99 L231.3,532.89 L232,533.83 L232.7,534.76 L233.4,535.69 L234.1,536.61 L234.8,537.49 L235.5,538.33 L236.2,539.12 L236.9,539.86 L237.6,540.54 L238.3,541.16 L239,541.72 L239.7,542.22 L240.4,542.66 L241.1,543.04 L241.8,543.37 L242.5,543.66 L243.2,543.91 L243.9,544.11 L244.6,544.28 L245.3,544.43 L246,544.55 L246.7,544.64 L247.4,544.72 L248.1,544.79 L248.8,544.84 L249.5,544.88 L250.2,544.92 L250.9,544.94 L251.6,544.97 L252.3,544.99 L253,545 L253.7,545.02 L254.4,545.03 L255.1,545.04 L255.8,545.05 L256.5,545.06 L257.2,545.07 L257.9,545.08 L258.6,545.08 L259.3,545.09 L260,545.1 L260.7,545.11 L261.4,545.11 L262.1,545.12 L262.8,545.13 L263.5,545.14 L264.2,545.14 L264.9,545.15 L265.6,545.16 L266.3,545.16 L267,545.17 L267.7,545.18 L268.4,545.19 L269.1,545.19 L269.8,545.2 L270.5,545.21 L271.2,545.21 L271.9,545.22 L272.6,545.23 L273.3,545.24 L274,545.24 L274.7,545.25 L275.4,545.26 L276.1,545.26 L276.8,545.27 L277.5,545.28 L278.2,545.29 L278.9,545.29 L279.6,545.3 L280.3,545.31 L281,545.31 L281.7,545.32 L282.4,545.33 L283.1,545.34 L283.8,545.34 L284.5,545.35 L285.2,545.36 L285.9,545.36 L286.6,545.37 L287.3,545.38 L288,545.39 L288.7,545.39 L289.4,545.4 L290.1,545.41 L290.8,545.42 L291.5,545.42 L292.2,545.43 L292.9,545.44 L293.6,545.44 L294.3,545.45 L295,545.46 L295.7,545.47 L296.4,545.47 L297.1,545.48 L297.8,545.49 L298.5,545.49 L299.2,545.5 L299.9,545.51 L300.6,545.52 L301.3,545.52 L302,545.53 L302.7,545.54 L303.4,545.54 L304.1,545.55 L304.8,545.56 L305.5,545.57 L306.2,545.57 L306.9,545.58 L307.6,545.59 L308.3,545.59 L309,545.6 L309.7,545.61 L310.4,545.62 L311.1,545.62 L311.8,545.63 L312.5,545.64 L313.2,545.64 L313.9,545.65 L314.6,545.66 L315.3,545.67 L316,545.67 L316.7,545.68 L317.4,545.69 L318.1,545.69" fill="none" stroke="#3d8fcc" stroke-width="1.6" stroke-linejoin="round"/>
<text x="97.3" y="356.9" font-size="10.7" font-weight="bold" fill="#8a1ef0" textLength="79.3" lengthAdjust="spacingAndGlyphs" stroke="#8a1ef0" stroke-width="0.1">Vacancy oxygen</text>
<line x1="186.4" y1="379.5" x2="140.89" y2="361.74" stroke="#000" stroke-width="1.0" />
<path d="M136.7,360.1 L142.66,359.96 L140.99,364.24 Z" fill="#000"/>
<text x="240.2" y="344.7" font-size="10.5" font-weight="bold" fill="#ff7414" textLength="76.8" lengthAdjust="spacingAndGlyphs" stroke="#ff7414" stroke-width="0.1">Lattice oxygen</text>
<line x1="226.6" y1="366.6" x2="268.42" y2="350.06" stroke="#000" stroke-width="1.0" />
<path d="M272.6,348.4 L268.33,352.56 L266.64,348.28 Z" fill="#000"/>
<text x="28.8" y="383" font-size="15.8" font-weight="bold" fill="#000" stroke="#000" stroke-width="0.1">SnO<tspan font-size="12" dy="4">2</tspan></text>
<text x="26.6" y="452.4" font-size="15.4" font-weight="bold" fill="#e02030" stroke="#e02030" stroke-width="0.1">SnO<tspan font-size="12" dy="4.5">2</tspan><tspan dy="-4.5">-CuO</tspan></text>
<text x="34.2" y="533.1" font-size="15.4" fill="#2a7ac0" text-anchor="start" font-weight="bold"  stroke="#2a7ac0" stroke-width="0.1">CuO</text>
<rect x="26" y="314.7" width="32.5" height="17.8" fill="#ffaaff"/>
<text x="28.1" y="328.1" font-size="14" font-weight="bold" textLength="28" lengthAdjust="spacingAndGlyphs" stroke="#000" stroke-width="0.1">O 1s</text>
<rect x="25" y="313.9" width="293.7" height="236.3" fill="none" stroke="#000" stroke-width="1.8"/>
<line x1="25" y1="550.2" x2="25" y2="554.8" stroke="#000" stroke-width="1.6" />
<line x1="64.1" y1="550.2" x2="64.1" y2="554.8" stroke="#000" stroke-width="1.6" />
<line x1="103.2" y1="550.2" x2="103.2" y2="554.8" stroke="#000" stroke-width="1.6" />
<line x1="142.3" y1="550.2" x2="142.3" y2="554.8" stroke="#000" stroke-width="1.6" />
<line x1="181.4" y1="550.2" x2="181.4" y2="554.8" stroke="#000" stroke-width="1.6" />
<line x1="220.5" y1="550.2" x2="220.5" y2="554.8" stroke="#000" stroke-width="1.6" />
<line x1="259.6" y1="550.2" x2="259.6" y2="554.8" stroke="#000" stroke-width="1.6" />
<line x1="298.7" y1="550.2" x2="298.7" y2="554.8" stroke="#000" stroke-width="1.6" />
<line x1="44.55" y1="550.2" x2="44.55" y2="552.8" stroke="#000" stroke-width="1.6" />
<line x1="83.65" y1="550.2" x2="83.65" y2="552.8" stroke="#000" stroke-width="1.6" />
<line x1="122.75" y1="550.2" x2="122.75" y2="552.8" stroke="#000" stroke-width="1.6" />
<line x1="161.85" y1="550.2" x2="161.85" y2="552.8" stroke="#000" stroke-width="1.6" />
<line x1="200.95" y1="550.2" x2="200.95" y2="552.8" stroke="#000" stroke-width="1.6" />
<line x1="240.05" y1="550.2" x2="240.05" y2="552.8" stroke="#000" stroke-width="1.6" />
<line x1="279.15" y1="550.2" x2="279.15" y2="552.8" stroke="#000" stroke-width="1.6" />
<line x1="318.25" y1="550.2" x2="318.25" y2="552.8" stroke="#000" stroke-width="1.6" />
<text x="25" y="572.6" font-size="15.4" fill="#000" text-anchor="middle" font-weight="bold"  stroke="#000" stroke-width="0.1">540</text>
<text x="64.1" y="572.6" font-size="15.4" fill="#000" text-anchor="middle" font-weight="bold"  stroke="#000" stroke-width="0.1">538</text>
<text x="103.2" y="572.6" font-size="15.4" fill="#000" text-anchor="middle" font-weight="bold"  stroke="#000" stroke-width="0.1">536</text>
<text x="142.3" y="572.6" font-size="15.4" fill="#000" text-anchor="middle" font-weight="bold"  stroke="#000" stroke-width="0.1">534</text>
<text x="181.4" y="572.6" font-size="15.4" fill="#000" text-anchor="middle" font-weight="bold"  stroke="#000" stroke-width="0.1">532</text>
<text x="220.5" y="572.6" font-size="15.4" fill="#000" text-anchor="middle" font-weight="bold"  stroke="#000" stroke-width="0.1">530</text>
<text x="259.6" y="572.6" font-size="15.4" fill="#000" text-anchor="middle" font-weight="bold"  stroke="#000" stroke-width="0.1">528</text>
<text x="298.7" y="572.6" font-size="15.4" fill="#000" text-anchor="middle" font-weight="bold"  stroke="#000" stroke-width="0.1">526</text>
<text x="172.1" y="596" font-size="15.7" font-weight="bold" text-anchor="middle" textLength="148" lengthAdjust="spacingAndGlyphs" stroke="#000" stroke-width="0.1">Binding energy (eV)</text>
<text transform="translate(12.9,433.8) rotate(-90)" font-size="15.75" font-weight="bold" text-anchor="middle" fill="#000" stroke="#000" stroke-width="0.1">Intensity (a.u.)</text>
<text x="362" y="328.6" font-size="22" font-weight="bold" stroke="#000" stroke-width="0.1">d</text>
<rect x="382.3" y="313.9" width="294.1" height="236" fill="#23466f"/>
<path d="M382.5,530.21 L383,530.72 L383.5,532.07 L383.6,532.81 L384,534.68 L384.5,539.47 L385,543.85 L385.4,545.6 L385.5,545.68 L386,543.44 L386.5,539.74 L387,536.22 L387.2,535.38 L387.5,533.77 L388,532.37 L388.5,530.56 L389,528.01 L389.5,523.6 L390,517.92 L390.5,514.58 L390.6,514.03 L391,519.99 L391.5,532.36 L391.8,535.67 L392,535.46 L392.5,531.9 L393,525.84 L393.5,507.88 L394,487.05 L394.2,484.74 L394.5,488.57 L395,501.36 L395.3,505.2 L395.5,503.3 L396,486.85 L396.3,470.05 L396.5,432.24 L397,312.84 L397.5,313.02 L398,312.95 L398.5,312.82 L398.6,313.06 L399,397.1 L399.3,470.37 L399.5,491.93 L400,531.23 L400.2,535.88 L400.5,535.47 L401,533.94 L401.5,532.51 L402,532.13 L402.5,530.93 L402.8,531.41 L403,528.17 L403.5,529.95 L404,530.53 L404.5,531.87 L405,531.81 L405.5,532.16 L405.8,533.66 L406,532.95 L406.5,531.02 L407,532.88 L407.5,531.27 L408,528.03 L408.2,528.91 L408.5,525.25 L409,521.66 L409.5,515.08 L409.8,513.32 L410,514.36 L410.5,518.89 L411,526.28 L411.5,529.39 L412,529.2 L412.5,528.45 L413,524.9 L413.5,528.88 L414,526.56 L414.2,528.87 L414.5,529.78 L415,528.71 L415.5,527.85 L416,527.94 L416.5,527.86 L417,527.27 L417.5,527.1 L418,526.62 L418.5,528.84 L419,527.45 L419.5,528.47 L420,527.12 L420.5,527.49 L421,527.24 L421.5,527.96 L422,528.4 L422.5,527.8 L423,526.85 L423.5,526.79 L424,529.54 L424.5,527.47 L425,527.53 L425.5,529.54 L426,529.2 L426.5,528.68 L427,527.79 L427.5,530.98 L428,529.01 L428.5,529.39 L429,528.83 L429.5,527.71 L430,528.05 L430.5,530.23 L431,530.47 L431.5,530.03 L432,529.25 L432.5,529.19 L433,530.63 L433.5,529.59 L434,532.35 L434.5,532.77 L435,534.72 L435.5,532.64 L436,531.05 L436.5,530.57 L437,527.31 L437.5,529.94 L438,529.92 L438.5,530.89 L438.7,530.47 L439,530.47 L439.5,530.21 L440,530.94 L440.5,532.11 L441,529.68 L441.5,530.66 L442,529.91 L442.5,533.41 L443,533.13 L443.5,527.02 L443.7,521.18 L444,514.68 L444.5,495.39 L444.8,485.89 L445,480.01 L445.5,466.31 L446,454 L446.4,451.94 L446.5,451.69 L447,462.8 L447.5,481.02 L447.9,490.82 L448,493.56 L448.5,497.57 L449,502.51 L449.2,503.77 L449.5,506.15 L450,515.44 L450.5,519.4 L450.7,523.25 L451,525.54 L451.5,527.28 L452,531.33 L452.5,533.83 L453,534.64 L453.5,535.13 L454,537.82 L454.3,536.94 L454.5,537.71 L455,537.01 L455.5,538 L456,537.01 L456.5,537.97 L457,538.78 L457.5,538.32 L458,537.89 L458.5,537.31 L459,538.79 L459.5,539.07 L460,538.48 L460.5,537.98 L461,539.48 L461.5,541.65 L462,538.63 L462.5,539.35 L463,539.41 L463.5,536.18 L464,539.11 L464.5,538.13 L465,540.33 L465.5,538.39 L466,537.66 L466.5,538.1 L467,538.34 L467.5,537.36 L468,537.73 L468.5,536.13 L469,537.23 L469.5,538.2 L470,539.43 L470.5,537.99 L470.8,537.5 L471,538.51 L471.5,538.39 L472,539.23 L472.5,538.77 L473,537.67 L473.5,538.33 L474,538.52 L474.5,538.93 L475,539.1 L475.5,538.29 L476,537.09 L476.5,538.89 L477,537.57 L477.5,540 L478,540 L478.2,538.16 L478.5,540.72 L479,540.71 L479.5,539.43 L480,540.47 L480.5,539.73 L480.7,535.87 L481,535.17 L481.5,522.98 L482,503.13 L482.2,496.03 L482.5,484.09 L483,467.63 L483.5,456.73 L483.7,455.67 L484,464.45 L484.5,489.8 L484.6,493.85 L485,506.24 L485.5,516.1 L485.9,522.92 L486,521.78 L486.5,529.66 L487,534.65 L487.3,536.24 L487.5,535.54 L488,537.02 L488.5,535.55 L488.8,535.32 L489,533.9 L489.5,524.11 L490,510.39 L490.4,507.73 L490.5,507.14 L491,510.77 L491.5,517.46 L491.9,523.07 L492,524.75 L492.5,531.45 L493,536.02 L493.2,537.16 L493.5,536.3 L494,537.37 L494.5,535.71 L495,533.22 L495.5,536.72 L496,535.06 L496.5,533.37 L497,534.24 L497.4,533.43 L497.5,536.73 L498,535.7 L498.5,534.86 L499,538.88 L499.5,539.36 L500,542.82 L500.2,539.64 L500.5,538.32 L501,540.77 L501.5,540.19 L502,539.95 L502.5,537.94 L503,540.56 L503.5,541.79 L503.8,537.98 L504,541.25 L504.5,539.61 L505,543.01 L505.5,541.47 L506,541.36 L506.5,543.25 L507,543.19 L507.5,542.51 L508,544.19 L508.3,543.08 L508.5,541.87 L509,545.86 L509.5,543.62 L510,543.5 L510.5,544.57 L511,542.82 L511.5,543.14 L512,544.07 L512.5,544.15 L513,544.81 L513.5,545.89 L514,544.45 L514.5,545.43 L515,545.59 L515.5,544.09 L516,545.36 L516.4,544.33 L516.5,546.19 L517,545.68 L517.5,545.34 L518,544.17 L518.5,545.53 L519,544.79 L519.5,546.15 L520,545.47 L520.5,544.91 L521,546.47 L521.5,546.33 L522,545.24 L522.5,546.78 L523,545.58 L523.5,545.61 L524,546.01 L524.5,545.32 L525,545.61 L525.5,545.88 L526,547.29 L526.5,547.3 L527,545.91 L527.5,547.43 L528,546.15 L528.5,546.51 L529,546.93 L529.5,546.5 L530,548.16 L530.5,546.52 L531,545.45 L531.5,547.37 L532,546.11 L532.5,546.22 L533,544.27 L533.5,547.24 L534,547.13 L534.5,547.14 L535,547.29 L535.5,547.82 L536,546.62 L536.5,547.33 L536.9,546.18 L537,546.46 L537.5,547.46 L538,547.03 L538.5,545.89 L539,547.06 L539.5,546.72 L540,546.33 L540.5,547.18 L541,546.66 L541.5,545.94 L542,546.27 L542.5,548.12 L543,546.08 L543.5,547.19 L544,547.45 L544.5,547.49 L545,546.38 L545.5,546.96 L546,547.26 L546.5,547.67 L547,546.84 L547.5,546.57 L548,547.84 L548.5,547.92 L549,547.52 L549.5,547 L550,547.58 L550.5,547.44 L551,547.86 L551.5,546.76 L552,547.51 L552.5,547.39 L553,546.92 L553.5,547.63 L554,547.56 L554.5,547.36 L555,547.79 L555.5,546.92 L556,547.61 L556.5,547.87 L557,547.82 L557.3,548.21 L557.5,547.15 L558,547.04 L558.5,547.87 L559,547.99 L559.5,548.75 L560,548.11 L560.5,547.48 L561,548.23 L561.5,547.55 L562,547.32 L562.5,549.04 L563,548.12 L563.5,548.3 L564,548.26 L564.5,548.77 L565,548.2 L565.5,548.58 L566,547.76 L566.5,547.65 L567,548.71 L567.5,548.75 L568,548.42 L568.5,548.35 L569,548.35 L569.5,548.09 L570,548.85 L570.5,548.58 L571,548.55 L571.5,548.54 L572,548.76 L572.5,548.62 L573,548.71 L573.5,548.17 L574,548.68 L574.5,549.17 L575,548.44 L575.5,548.57 L576,548.86 L576.5,548.9 L577,548.83 L577.5,548.29 L577.7,548.82 L578,548.43 L578.5,548.54 L579,548.88 L579.5,548.71 L580,548.97 L580.5,549.49 L581,549 L581.5,549 L582,548.7 L582.5,548.77 L583,548.71 L583.5,548.84 L584,548.76 L584.5,548.86 L585,548.95 L585.5,548.85 L586,548.81 L586.5,548.84 L587,549.13 L587.5,549.09 L588,549.23 L588.5,549.25 L589,549.09 L589.5,549.23 L590,549.01 L590.5,549.42 L591,549.32 L591.5,549.2 L592,549.13 L592.5,549.28 L593,549.12 L593.5,549.23 L594,549.35 L594.5,549.32 L595,549.31 L595.5,549.4 L596,549.32 L596.5,549.4 L597,549.39 L597.5,549.4 L598,549.45 L598.5,549.44 L599,549.5 L599.5,549.49 L600,549.51 L600.5,549.53 L601,549.54 L601.5,549.56 L602,549.58 L602.5,549.59 L603,549.6 L603.5,549.6 L604,549.6 L604.5,549.6 L605,549.6 L605.5,549.6 L606,549.6 L606.5,549.6 L607,549.6 L607.5,549.6 L608,549.6 L608.4,549.6 L608.5,549.6 L609,549.6 L609.5,549.6 L610,549.6 L610.5,549.6 L611,549.6 L611.5,549.6 L612,549.6 L612.5,549.6 L613,549.6 L613.5,549.6 L614,549.6 L614.5,549.6 L615,549.6 L615.5,549.6 L616,549.6 L616.5,549.6 L617,549.6 L617.5,549.6 L618,549.6 L618.5,549.6 L619,549.6 L619.5,549.6 L620,549.6 L620.5,549.6 L621,549.6 L621.5,549.6 L622,549.6 L622.5,549.6 L623,549.6 L623.5,549.6 L624,549.6 L624.5,549.6 L625,549.6 L625.5,549.6 L626,549.6 L626.5,549.6 L627,549.6 L627.5,549.6 L628,549.6 L628.5,549.6 L629,549.6 L629.5,549.6 L630,549.6 L630.5,549.6 L631,549.6 L631.5,549.6 L632,549.6 L632.5,549.6 L633,549.6 L633.5,549.6 L634,549.6 L634.5,549.6 L635,549.6 L635.5,549.6 L636,549.6 L636.5,549.6 L637,549.6 L637.5,549.6 L638,549.6 L638.5,549.6 L639,549.6 L639.5,549.6 L640,549.6 L640.5,549.6 L641,549.6 L641.5,549.6 L642,549.6 L642.5,549.6 L643,549.6 L643.5,549.6 L644,549.6 L644.5,549.6 L645,549.6 L645.5,549.6 L646,549.6 L646.5,549.6 L647,549.6 L647.5,549.6 L648,549.6 L648.5,549.6 L649,549.6 L649.5,549.6 L650,549.6 L650.5,549.6 L651,549.6 L651.5,549.6 L652,549.6 L652.5,549.6 L653,549.6 L653.5,549.6 L654,549.6 L654.5,549.6 L655,549.6 L655.5,549.6 L656,549.6 L656.5,549.6 L657,549.6 L657.5,549.6 L658,549.6 L658.5,549.6 L659,549.6 L659.5,549.6 L660,549.6 L660.5,549.6 L661,549.6 L661.5,549.6 L662,549.6 L662.5,549.6 L663,549.6 L663.5,549.6 L664,549.6 L664.5,549.6 L665,549.6 L665.5,549.6 L666,549.6 L666.5,549.6 L667,549.6 L667.5,549.6 L668,549.6 L668.5,549.6 L669,549.6 L669.5,549.6 L670,549.6 L670.5,549.6 L671,549.6 L671.5,549.6 L672,549.6 L672.5,549.6 L673,549.6 L673.5,549.6 L674,549.6 L674.5,549.6 L675,549.6 L675.5,549.6 L676,549.6 L676.4,550 L382.3,550 Z" fill="#cc9908"/>
<line x1="522" y1="319.9" x2="673.4" y2="319.9" stroke="#000" stroke-width="1.6" />
<line x1="522" y1="344.7" x2="673.4" y2="344.7" stroke="#000" stroke-width="1.6" />
<line x1="522" y1="419.2" x2="673.4" y2="419.2" stroke="#000" stroke-width="1.8" />
<text x="561.8" y="336.8" font-size="12.6" fill="#ffffff" text-anchor="middle" font-weight="bold"  stroke="#ffffff" stroke-width="0.1">Element</text>
<text x="637.4" y="336.8" font-size="12.6" fill="#ffffff" text-anchor="middle" font-weight="bold"  stroke="#ffffff" stroke-width="0.1">Atomic %</text>
<text x="560.5" y="361.6" font-size="12.3" fill="#ffffff" text-anchor="middle" font-weight="bold"  stroke="#ffffff" stroke-width="0.1">Sn</text>
<text x="637.3" y="361.6" font-size="12.3" fill="#ffffff" text-anchor="middle" font-weight="bold"  stroke="#ffffff" stroke-width="0.1">7.45</text>
<text x="560.5" y="386.45" font-size="12.3" fill="#ffffff" text-anchor="middle" font-weight="bold"  stroke="#ffffff" stroke-width="0.1">Cu</text>
<text x="637.3" y="386.45" font-size="12.3" fill="#ffffff" text-anchor="middle" font-weight="bold"  stroke="#ffffff" stroke-width="0.1">2.33</text>
<text x="560.5" y="411.3" font-size="12.3" fill="#ffffff" text-anchor="middle" font-weight="bold"  stroke="#ffffff" stroke-width="0.1">O</text>
<text x="637.3" y="411.3" font-size="12.3" fill="#ffffff" text-anchor="middle" font-weight="bold"  stroke="#ffffff" stroke-width="0.1">90.22</text>
<text x="398.6" y="369.8" font-size="15.6" fill="#000" text-anchor="start" font-weight="bold"  stroke="#000" stroke-width="0.1">O</text>
<text x="470.6" y="427.6" font-size="16" fill="#000" text-anchor="start" font-weight="bold"  stroke="#000" stroke-width="0.1">Sn</text>
<text x="403.6" y="499.6" font-size="16" fill="#000" text-anchor="start" font-weight="bold"  stroke="#000" stroke-width="0.1">Cu</text>
<text x="495.6" y="527.3" font-size="16" fill="#000" text-anchor="start" font-weight="bold"  stroke="#000" stroke-width="0.1">Sn</text>
<path d="M382.3,313.9 L676.4,313.9 L676.4,550.2 L382.3,550.2 Z" fill="none" stroke="#000" stroke-width="1.6"/>
<line x1="382.3" y1="550.2" x2="382.3" y2="554.8" stroke="#000" stroke-width="1.6" />
<line x1="441" y1="550.2" x2="441" y2="554.8" stroke="#000" stroke-width="1.6" />
<line x1="499.7" y1="550.2" x2="499.7" y2="554.8" stroke="#000" stroke-width="1.6" />
<line x1="558.4" y1="550.2" x2="558.4" y2="554.8" stroke="#000" stroke-width="1.6" />
<line x1="617.1" y1="550.2" x2="617.1" y2="554.8" stroke="#000" stroke-width="1.6" />
<line x1="675.8" y1="550.2" x2="675.8" y2="554.8" stroke="#000" stroke-width="1.6" />
<line x1="411.65" y1="550.2" x2="411.65" y2="552.8" stroke="#000" stroke-width="1.6" />
<line x1="470.35" y1="550.2" x2="470.35" y2="552.8" stroke="#000" stroke-width="1.6" />
<line x1="529.05" y1="550.2" x2="529.05" y2="552.8" stroke="#000" stroke-width="1.6" />
<line x1="587.75" y1="550.2" x2="587.75" y2="552.8" stroke="#000" stroke-width="1.6" />
<line x1="646.45" y1="550.2" x2="646.45" y2="552.8" stroke="#000" stroke-width="1.6" />
<text x="382.3" y="572.6" font-size="15.4" fill="#000" text-anchor="middle" font-weight="bold"  stroke="#000" stroke-width="0.1">0</text>
<text x="441" y="572.6" font-size="15.4" fill="#000" text-anchor="middle" font-weight="bold"  stroke="#000" stroke-width="0.1">2</text>
<text x="499.7" y="572.6" font-size="15.4" fill="#000" text-anchor="middle" font-weight="bold"  stroke="#000" stroke-width="0.1">4</text>
<text x="558.4" y="572.6" font-size="15.4" fill="#000" text-anchor="middle" font-weight="bold"  stroke="#000" stroke-width="0.1">6</text>
<text x="617.1" y="572.6" font-size="15.4" fill="#000" text-anchor="middle" font-weight="bold"  stroke="#000" stroke-width="0.1">8</text>
<text x="667.8" y="570.5" font-size="15.4" fill="#000" text-anchor="start" font-weight="bold"  stroke="#000" stroke-width="0.1">10</text>
<text x="529.4" y="595.5" font-size="15.4" fill="#000" text-anchor="middle" font-weight="bold"  stroke="#000" stroke-width="0.1">Energy (keV)</text>
<text transform="translate(369.9,433.8) rotate(-90)" font-size="15.75" font-weight="bold" text-anchor="middle" fill="#000" stroke="#000" stroke-width="0.1">Intensity (a.u.)</text>
</svg></body></html>
